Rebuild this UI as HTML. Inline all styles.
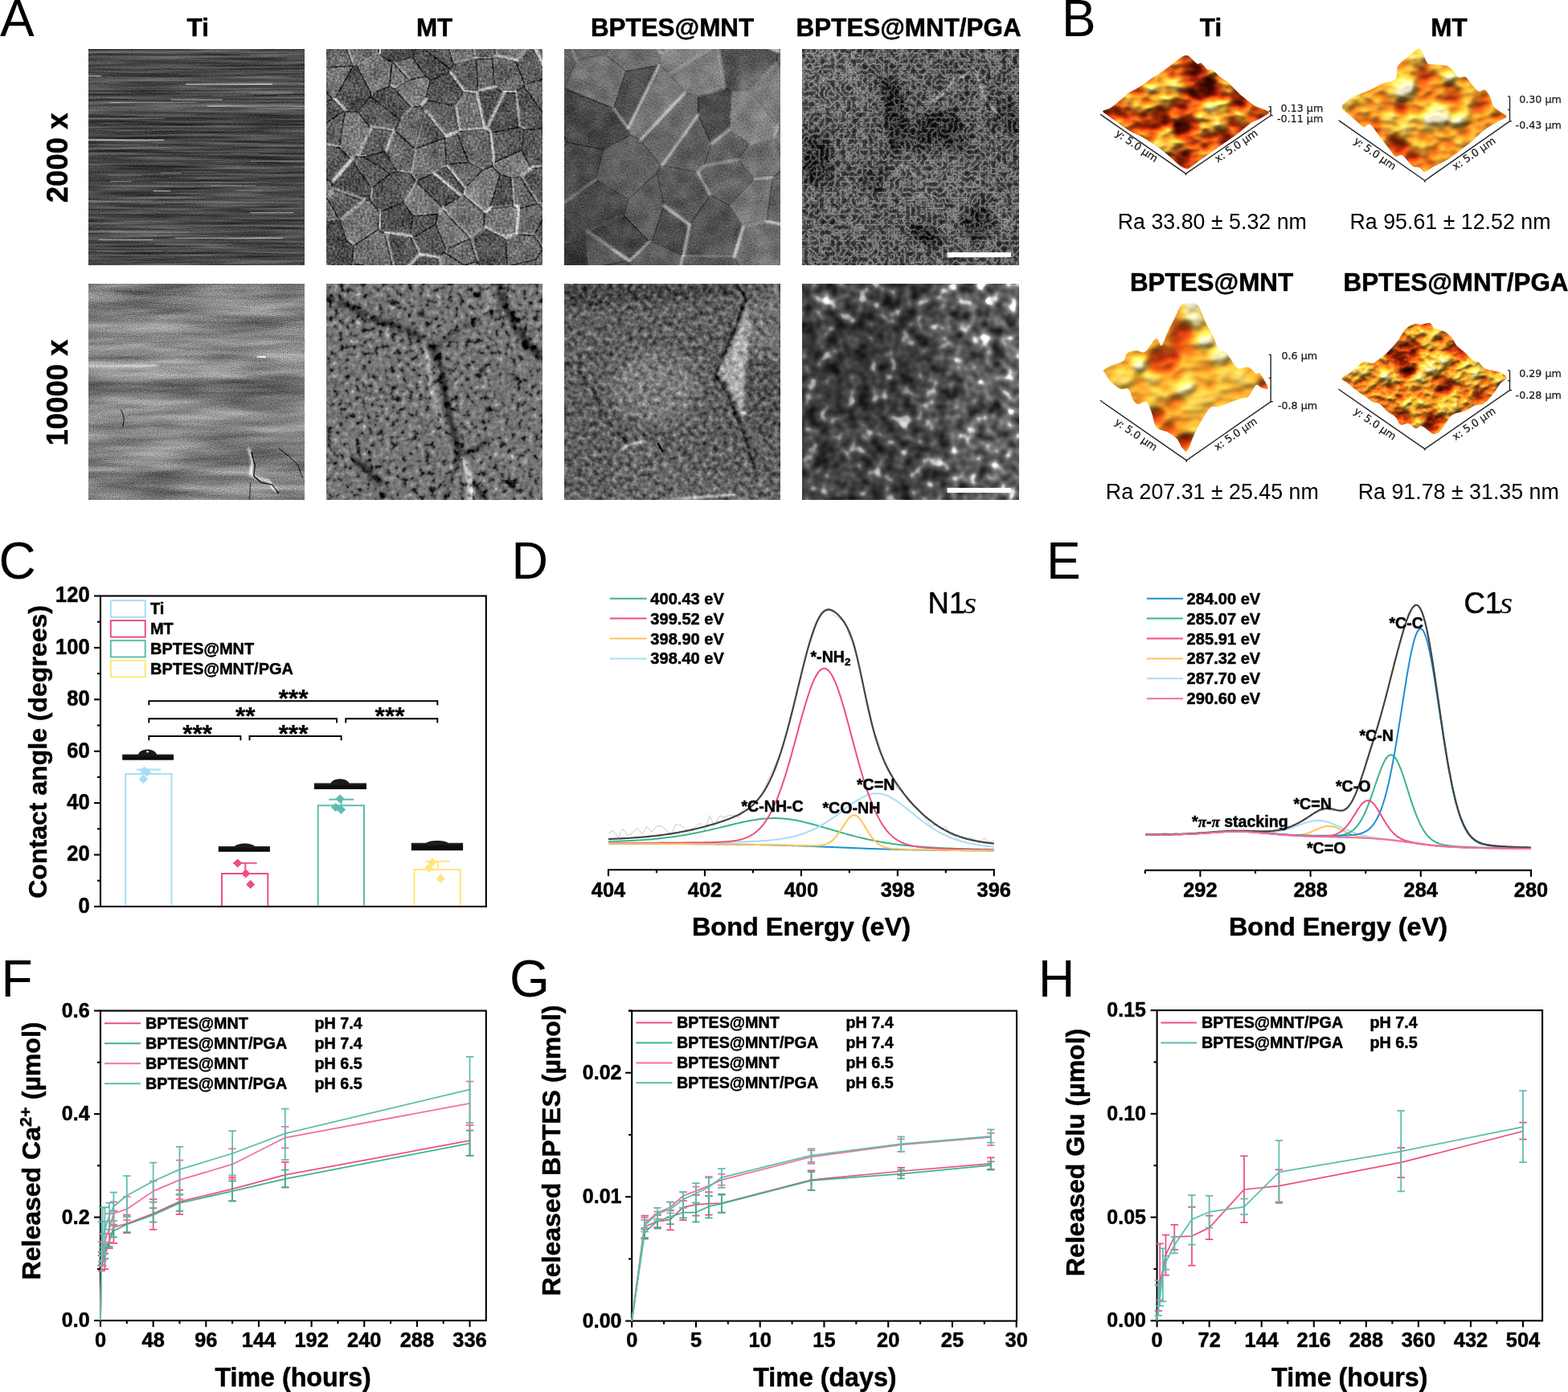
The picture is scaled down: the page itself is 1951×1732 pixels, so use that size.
<!DOCTYPE html>
<html lang="en">
<head>
<meta charset="utf-8">
<title>Figure</title>
<style>
html,body{margin:0;padding:0;background:#fff;}
body{width:1951px;height:1732px;overflow:hidden;}
svg{display:block;font-family:"Liberation Sans",Arial,Helvetica,sans-serif;}
</style>
</head>
<body>
<svg xmlns="http://www.w3.org/2000/svg" width="1951" height="1732" viewBox="0 0 1951 1732">
<defs>
<linearGradient id="dropg" x1="0" y1="0" x2="0" y2="1"><stop offset="0" stop-color="#2a2a2a"/><stop offset="0.35" stop-color="#101010"/><stop offset="1" stop-color="#0a0a0a"/></linearGradient>
</defs>
<rect width="1951" height="1732" fill="#fff"/>

<text transform="translate(0 44.7)" font-size="64">A</text>
<text transform="translate(1321 44.7)" font-size="64">B</text>
<text transform="translate(-1.6 719.8)" font-size="64">C</text>
<text transform="translate(636.6 719.8) scale(0.9840 1)" font-size="64">D</text>
<text transform="translate(1302 719.8)" font-size="64">E</text>
<text transform="translate(1.5 1239.5)" font-size="64">F</text>
<text transform="translate(634.1 1239.9)" font-size="64">G</text>
<text transform="translate(1291.9 1239.5) scale(0.9780 1)" font-size="64">H</text>
<g id="panel-a">
<text transform="translate(246.2 44.7)" font-size="31.4" font-weight="bold" stroke="#000" stroke-width="0.5" stroke-linejoin="round" text-anchor="middle">Ti</text>
<text transform="translate(540.6 44.7)" font-size="31.4" font-weight="bold" stroke="#000" stroke-width="0.5" stroke-linejoin="round" text-anchor="middle">MT</text>
<text transform="translate(836.5 44.7)" font-size="31.4" font-weight="bold" stroke="#000" stroke-width="0.5" stroke-linejoin="round" text-anchor="middle">BPTES@MNT</text>
<text transform="translate(1130.6 44.7)" font-size="31.4" font-weight="bold" stroke="#000" stroke-width="0.5" stroke-linejoin="round" text-anchor="middle">BPTES@MNT/PGA</text>
<text transform="translate(83.9 196.4) rotate(-90)" font-size="36.5" font-weight="bold" stroke="#000" stroke-width="0.5" stroke-linejoin="round" text-anchor="middle">2000 x</text>
<text transform="translate(83.9 488.5) rotate(-90)" font-size="36.5" font-weight="bold" stroke="#000" stroke-width="0.5" stroke-linejoin="round" text-anchor="middle">10000 x</text>
<defs><filter id="bl1" x="-20%" y="-20%" width="140%" height="140%"><feGaussianBlur stdDeviation="1"/></filter><filter id="bl2" x="-20%" y="-20%" width="140%" height="140%"><feGaussianBlur stdDeviation="2.2"/></filter><filter id="bl4" x="-30%" y="-30%" width="160%" height="160%"><feGaussianBlur stdDeviation="4.5"/></filter><filter id="bl8" x="-50%" y="-50%" width="200%" height="200%"><feGaussianBlur stdDeviation="9"/></filter><filter id="bl16" x="-50%" y="-50%" width="200%" height="200%"><feGaussianBlur stdDeviation="16"/></filter><clipPath id="sc1"><rect x="110" y="61" width="269" height="269"/></clipPath><filter id="sf1" filterUnits="userSpaceOnUse" x="110" y="61" width="269" height="269" color-interpolation-filters="sRGB"><feTurbulence type="fractalNoise" baseFrequency="0.008 0.30" numOctaves="3" seed="5" result="t"/><feColorMatrix in="t" type="matrix" values="1 0 0 0 0  1 0 0 0 0  1 0 0 0 0  0 0 0 0 1" result="n"/><feComposite in="SourceGraphic" in2="n" operator="arithmetic" k1="0" k2="1" k3="0.500" k4="-0.250" result="r1"/><feTurbulence type="fractalNoise" baseFrequency="0.9" numOctaves="1" seed="8" result="t2"/><feColorMatrix in="t2" type="matrix" values="1 0 0 0 0  1 0 0 0 0  1 0 0 0 0  0 0 0 0 1" result="n2"/><feComposite in="r1" in2="n2" operator="arithmetic" k1="0" k2="1" k3="0.400" k4="-0.200"/></filter><clipPath id="sc2"><rect x="406" y="61" width="269" height="269"/></clipPath><filter id="sf2" filterUnits="userSpaceOnUse" x="406" y="61" width="269" height="269" color-interpolation-filters="sRGB"><feGaussianBlur in="SourceGraphic" stdDeviation="0.6" result="b"/><feTurbulence type="fractalNoise" baseFrequency="0.35" numOctaves="2" seed="3" result="t"/><feColorMatrix in="t" type="matrix" values="1 0 0 0 0  1 0 0 0 0  1 0 0 0 0  0 0 0 0 1" result="n"/><feComposite in="b" in2="n" operator="arithmetic" k1="0" k2="1" k3="0.550" k4="-0.275" result="r1"/><feTurbulence type="fractalNoise" baseFrequency="0.06" numOctaves="1" seed="4" result="t2"/><feColorMatrix in="t2" type="matrix" values="1 0 0 0 0  1 0 0 0 0  1 0 0 0 0  0 0 0 0 1" result="n2"/><feComposite in="r1" in2="n2" operator="arithmetic" k1="0" k2="1" k3="0.250" k4="-0.125"/></filter><clipPath id="sc3"><rect x="702" y="61" width="269" height="269"/></clipPath><filter id="sf3" filterUnits="userSpaceOnUse" x="702" y="61" width="269" height="269" color-interpolation-filters="sRGB"><feGaussianBlur in="SourceGraphic" stdDeviation="0.7" result="b"/><feTurbulence type="fractalNoise" baseFrequency="0.5" numOctaves="2" seed="7" result="t"/><feColorMatrix in="t" type="matrix" values="1 0 0 0 0  1 0 0 0 0  1 0 0 0 0  0 0 0 0 1" result="n"/><feComposite in="b" in2="n" operator="arithmetic" k1="0" k2="1" k3="0.300" k4="-0.150" result="r1"/><feTurbulence type="fractalNoise" baseFrequency="0.05" numOctaves="2" seed="14" result="t2"/><feColorMatrix in="t2" type="matrix" values="1 0 0 0 0  1 0 0 0 0  1 0 0 0 0  0 0 0 0 1" result="n2"/><feComposite in="r1" in2="n2" operator="arithmetic" k1="0" k2="1" k3="0.220" k4="-0.110"/></filter><clipPath id="sc4"><rect x="998" y="61" width="270" height="269"/></clipPath><filter id="sf4" filterUnits="userSpaceOnUse" x="998" y="61" width="270" height="269" color-interpolation-filters="sRGB"><feTurbulence type="turbulence" baseFrequency="0.15" numOctaves="2" seed="12" result="t"/><feColorMatrix in="t" type="matrix" values="1 0 0 0 0  1 0 0 0 0  1 0 0 0 0  0 0 0 0 1" result="m"/><feComponentTransfer in="m" result="n"><feFuncR type="table" tableValues="0.60 0.47 0.34 0.25 0.19 0.14 0.1 0.08 0.08"/><feFuncG type="table" tableValues="0.60 0.47 0.34 0.25 0.19 0.14 0.1 0.08 0.08"/><feFuncB type="table" tableValues="0.60 0.47 0.34 0.25 0.19 0.14 0.1 0.08 0.08"/></feComponentTransfer><feComposite in="SourceGraphic" in2="n" operator="arithmetic" k1="0" k2="1.0" k3="1" k4="-0.500" result="r1"/><feTurbulence type="fractalNoise" baseFrequency="0.7" numOctaves="1" seed="2" result="t2"/><feColorMatrix in="t2" type="matrix" values="1 0 0 0 0  1 0 0 0 0  1 0 0 0 0  0 0 0 0 1" result="n2"/><feComposite in="r1" in2="n2" operator="arithmetic" k1="0" k2="1" k3="0.450" k4="-0.225"/></filter><clipPath id="sc5"><rect x="110" y="353" width="269" height="269"/></clipPath><filter id="sf5" filterUnits="userSpaceOnUse" x="110" y="353" width="269" height="269" color-interpolation-filters="sRGB"><feTurbulence type="fractalNoise" baseFrequency="0.008 0.08" numOctaves="3" seed="9" result="t"/><feColorMatrix in="t" type="matrix" values="1 0 0 0 0  1 0 0 0 0  1 0 0 0 0  0 0 0 0 1" result="n"/><feComposite in="SourceGraphic" in2="n" operator="arithmetic" k1="0" k2="1" k3="0.550" k4="-0.275" result="r1"/><feTurbulence type="fractalNoise" baseFrequency="0.8" numOctaves="1" seed="18" result="t2"/><feColorMatrix in="t2" type="matrix" values="1 0 0 0 0  1 0 0 0 0  1 0 0 0 0  0 0 0 0 1" result="n2"/><feComposite in="r1" in2="n2" operator="arithmetic" k1="0" k2="1" k3="0.550" k4="-0.275"/></filter><clipPath id="sc6"><rect x="406" y="353" width="269" height="269"/></clipPath><filter id="sf6" filterUnits="userSpaceOnUse" x="406" y="353" width="269" height="269" color-interpolation-filters="sRGB"><feTurbulence type="fractalNoise" baseFrequency="0.14" numOctaves="2" seed="4" result="t"/><feColorMatrix in="t" type="matrix" values="1 0 0 0 0  1 0 0 0 0  1 0 0 0 0  0 0 0 0 1" result="m"/><feComponentTransfer in="m" result="n"><feFuncR type="table" tableValues="0.04 0.06 0.12 0.36 0.45 0.50 0.60 0.8 0.9"/><feFuncG type="table" tableValues="0.04 0.06 0.12 0.36 0.45 0.50 0.60 0.8 0.9"/><feFuncB type="table" tableValues="0.04 0.06 0.12 0.36 0.45 0.50 0.60 0.8 0.9"/></feComponentTransfer><feGaussianBlur in="n" stdDeviation="0.6" result="nb"/><feComposite in="SourceGraphic" in2="nb" operator="arithmetic" k1="0" k2="1.0" k3="1" k4="-0.500" result="r1"/></filter><clipPath id="sc7"><rect x="702" y="353" width="269" height="269"/></clipPath><filter id="sf7" filterUnits="userSpaceOnUse" x="702" y="353" width="269" height="269" color-interpolation-filters="sRGB"><feTurbulence type="fractalNoise" baseFrequency="0.16" numOctaves="2" seed="21" result="t"/><feColorMatrix in="t" type="matrix" values="1 0 0 0 0  1 0 0 0 0  1 0 0 0 0  0 0 0 0 1" result="m"/><feComponentTransfer in="m" result="n"><feFuncR type="table" tableValues="0.08 0.12 0.2 0.29 0.37 0.45 0.55 0.65 0.8"/><feFuncG type="table" tableValues="0.08 0.12 0.2 0.29 0.37 0.45 0.55 0.65 0.8"/><feFuncB type="table" tableValues="0.08 0.12 0.2 0.29 0.37 0.45 0.55 0.65 0.8"/></feComponentTransfer><feGaussianBlur in="n" stdDeviation="0.5" result="nb"/><feComposite in="SourceGraphic" in2="nb" operator="arithmetic" k1="0" k2="1.0" k3="1" k4="-0.500" result="r1"/></filter><clipPath id="sc8"><rect x="998" y="353" width="270" height="269"/></clipPath><linearGradient id="g8" gradientUnits="userSpaceOnUse" x1="998" y1="0" x2="1268" y2="0"><stop offset="0" stop-color="#696969"/><stop offset="0.5" stop-color="#707070"/><stop offset="0.72" stop-color="#969696"/><stop offset="1" stop-color="#a5a5a5"/></linearGradient><filter id="sf8" filterUnits="userSpaceOnUse" x="998" y="353" width="270" height="269" color-interpolation-filters="sRGB"><feTurbulence type="fractalNoise" baseFrequency="0.06" numOctaves="2" seed="31" result="t"/><feColorMatrix in="t" type="matrix" values="1 0 0 0 0  1 0 0 0 0  1 0 0 0 0  0 0 0 0 1" result="m"/><feComponentTransfer in="m" result="n"><feFuncR type="table" tableValues="0.05 0.07 0.12 0.21 0.30 0.42 0.8 1 1"/><feFuncG type="table" tableValues="0.05 0.07 0.12 0.21 0.30 0.42 0.8 1 1"/><feFuncB type="table" tableValues="0.05 0.07 0.12 0.21 0.30 0.42 0.8 1 1"/></feComponentTransfer><feComposite in="SourceGraphic" in2="n" operator="arithmetic" k1="2" k2="0" k3="0" k4="0" result="r1"/></filter></defs>
<g clip-path="url(#sc1)"><g filter="url(#sf1)"><rect x="108" y="59" width="273" height="273" fill="#000"/><rect x="110" y="61" width="269" height="269" fill="#464646"/><rect x="110" y="141.7" width="269" height="16.14" fill="#3a3a3a" opacity="0.8" filter="url(#bl2)"/><rect x="110" y="179.36" width="269" height="43.04" fill="#464646" opacity="0.7" filter="url(#bl2)"/><rect x="110" y="95.97" width="269" height="18.83" fill="#646464" opacity="0.5" filter="url(#bl2)"/><rect x="110" y="125.56" width="269" height="16.14" fill="#686868" opacity="0.6" filter="url(#bl2)"/><rect x="110" y="243.92" width="269" height="18.83" fill="#626262" opacity="0.4" filter="url(#bl2)"/><rect x="110" y="284.27" width="269" height="13.45" fill="#646464" opacity="0.5" filter="url(#bl2)"/><rect x="110" y="61" width="269" height="16.14" fill="#5a5a5a" opacity="0.5" filter="url(#bl2)"/><rect x="110" y="303.1" width="269" height="26.9" fill="#505050" opacity="0.5" filter="url(#bl2)"/><rect x="306.33" y="182.69" width="174.26" height="1.45" fill="#323232" opacity="0.35"/><rect x="230.25" y="110.67" width="163.96" height="1.91" fill="#2a2a2a" opacity="0.28"/><rect x="228.12" y="85.39" width="228.04" height="0.86" fill="#3c3c3c" opacity="0.44"/><rect x="96.49" y="236.91" width="186.27" height="0.82" fill="#333333" opacity="0.21"/><rect x="86.33" y="112.17" width="105.87" height="1.45" fill="#313131" opacity="0.41"/><rect x="186.96" y="200.64" width="191.59" height="1.73" fill="#313131" opacity="0.27"/><rect x="255.6" y="329.37" width="268.07" height="1.79" fill="#2e2e2e" opacity="0.26"/><rect x="295.46" y="138.75" width="68.91" height="1.36" fill="#393939" opacity="0.30"/><rect x="39.3" y="318.71" width="236.14" height="1.09" fill="#3a3a3a" opacity="0.32"/><rect x="87.85" y="324.72" width="139.33" height="1.68" fill="#383838" opacity="0.27"/><rect x="331.72" y="84.44" width="125.37" height="1.86" fill="#2a2a2a" opacity="0.26"/><rect x="304.39" y="88.18" width="66.69" height="1.05" fill="#333333" opacity="0.31"/><rect x="81.84" y="112.29" width="211.3" height="1.7" fill="#2a2a2a" opacity="0.31"/><rect x="337.62" y="118.26" width="111.86" height="1.92" fill="#2e2e2e" opacity="0.42"/><rect x="298.23" y="117.68" width="138.65" height="1.7" fill="#2a2a2a" opacity="0.45"/><rect x="285.04" y="118.36" width="109.38" height="1.26" fill="#2e2e2e" opacity="0.22"/><rect x="121.61" y="85.24" width="179.2" height="1.64" fill="#2f2f2f" opacity="0.31"/><rect x="217.19" y="319.01" width="157.9" height="2.01" fill="#2c2c2c" opacity="0.24"/><rect x="108.18" y="305.37" width="229.79" height="1.07" fill="#373737" opacity="0.44"/><rect x="269.83" y="113.88" width="258.27" height="1.64" fill="#303030" opacity="0.23"/><rect x="95.84" y="71.41" width="260.97" height="1.79" fill="#2d2d2d" opacity="0.41"/><rect x="122.11" y="221.45" width="116.95" height="1.81" fill="#292929" opacity="0.26"/><rect x="204.08" y="211.47" width="237.24" height="1.19" fill="#3a3a3a" opacity="0.25"/><rect x="196.38" y="65.46" width="111.73" height="0.88" fill="#2c2c2c" opacity="0.29"/><rect x="199.67" y="214.91" width="25.84" height="1.22" fill="#b3b3b3" opacity="0.40"/><rect x="127.21" y="246.94" width="68.48" height="0.62" fill="#797979" opacity="0.47"/><rect x="84.49" y="249.56" width="104.09" height="1.05" fill="#959595" opacity="0.42"/><rect x="97.98" y="146.79" width="107.54" height="0.98" fill="#a4a4a4" opacity="0.47"/><rect x="299.48" y="259.28" width="79.7" height="1.24" fill="#8d8d8d" opacity="0.41"/><rect x="193.57" y="303.32" width="95.46" height="1.15" fill="#acacac" opacity="0.37"/><rect x="251.91" y="229.11" width="49.45" height="1.03" fill="#7d7d7d" opacity="0.39"/><rect x="277" y="328.2" width="96.28" height="0.87" fill="#a4a4a4" opacity="0.37"/><rect x="104.82" y="179.5" width="92.38" height="1.13" fill="#7a7a7a" opacity="0.38"/><rect x="287.31" y="190.38" width="35.13" height="0.95" fill="#9d9d9d" opacity="0.48"/><rect x="186.62" y="129.82" width="14.51" height="1.07" fill="#848484" opacity="0.25"/><rect x="206.2" y="304.64" width="75.59" height="1.22" fill="#8c8c8c" opacity="0.40"/><rect x="310.61" y="114.4" width="54.02" height="1.24" fill="#adadad" opacity="0.32"/><rect x="133.66" y="217.86" width="43.25" height="0.95" fill="#aaaaaa" opacity="0.45"/><rect x="153.59" y="252.32" width="102.89" height="0.72" fill="#939393" opacity="0.28"/><rect x="262.59" y="118.59" width="52.43" height="0.95" fill="#8b8b8b" opacity="0.45"/><rect x="113.27" y="325.17" width="56.05" height="0.62" fill="#acacac" opacity="0.21"/><rect x="172.98" y="251.62" width="67.17" height="1.15" fill="#797979" opacity="0.24"/><rect x="328.45" y="183.35" width="15.78" height="0.77" fill="#808080" opacity="0.21"/><rect x="262.81" y="230.25" width="55.49" height="1.06" fill="#a8a8a8" opacity="0.49"/><rect x="228.15" y="245.13" width="32.22" height="0.73" fill="#797979" opacity="0.34"/><rect x="174.17" y="253.11" width="30.31" height="0.84" fill="#a2a2a2" opacity="0.36"/><rect x="190.46" y="226.29" width="84.65" height="1.15" fill="#aeaeae" opacity="0.23"/><rect x="120.51" y="311.87" width="81.46" height="0.92" fill="#9e9e9e" opacity="0.47"/><rect x="326.44" y="162.36" width="67" height="1.16" fill="#b1b1b1" opacity="0.34"/><rect x="294.38" y="236.21" width="32.74" height="1.17" fill="#9e9e9e" opacity="0.42"/><rect x="344.3" y="118.38" width="98.18" height="1.28" fill="#989898" opacity="0.44"/><rect x="310.47" y="147.19" width="99.13" height="0.84" fill="#7d7d7d" opacity="0.33"/><rect x="215.39" y="209.03" width="85.78" height="0.62" fill="#a9a9a9" opacity="0.22"/><rect x="191.2" y="276.16" width="29.73" height="1.15" fill="#808080" opacity="0.24"/><rect x="311.48" y="199.95" width="81.57" height="1.08" fill="#b1b1b1" opacity="0.35"/><rect x="163.1" y="316.32" width="21.55" height="0.97" fill="#898989" opacity="0.42"/><rect x="318.13" y="232.86" width="62.67" height="0.99" fill="#8b8b8b" opacity="0.31"/><rect x="136.55" y="288.38" width="98.23" height="1.2" fill="#b2b2b2" opacity="0.36"/><rect x="231.05" y="104.04" width="107.6" height="1.4" fill="#d7d7d7" opacity="0.8"/><rect x="110" y="93.82" width="16.14" height="1.5" fill="#c8c8c8" opacity="0.8"/><rect x="212.22" y="123.41" width="64.56" height="1.2" fill="#bebebe" opacity="0.8"/><rect x="257.95" y="131.48" width="121.05" height="1.2" fill="#b9b9b9" opacity="0.8"/><rect x="110" y="173.44" width="94.15" height="1.4" fill="#cdcdcd" opacity="0.8"/><rect x="136.9" y="126.91" width="107.6" height="1.0" fill="#aaaaaa" opacity="0.8"/><rect x="123.45" y="297.72" width="67.25" height="1.2" fill="#b4b4b4" opacity="0.8"/><rect x="217.6" y="295.57" width="134.5" height="1.2" fill="#b9b9b9" opacity="0.8"/><rect x="311.75" y="264.1" width="53.8" height="1.2" fill="#bebebe" opacity="0.8"/><rect x="190.7" y="237.19" width="21.52" height="1.2" fill="#c8c8c8" opacity="0.8"/><rect x="136.9" y="225.09" width="26.9" height="1.0" fill="#b4b4b4" opacity="0.8"/></g></g>
<g clip-path="url(#sc2)"><g filter="url(#sf2)"><rect x="404" y="59" width="273" height="273" fill="#000"/><rect x="406" y="61" width="269" height="269" fill="#646464"/><path d="M427.67 138.09L415.72 124.94L413.3 124.05L369 139.12L395.34 160.49Z" fill="#5a5a5a" stroke="#282828" stroke-width="1.5" stroke-linejoin="round"/><path d="M391.67 214.81L342.35 268.86L355.89 269.05L407.44 246.98L413.23 236.11L412.76 226.83Z" fill="#727272" stroke="#282828" stroke-width="1.5" stroke-linejoin="round"/><path d="M407.44 246.98L355.89 269.05L379.8 281.01L422.25 273.72Z" fill="#727272" stroke="#282828" stroke-width="1.5" stroke-linejoin="round"/><path d="M439.41 82.21L398.88 84.39L393.11 75.83L402.19 45.61L428.22 54.76Z" fill="#666666" stroke="#282828" stroke-width="1.5" stroke-linejoin="round"/><path d="M415.72 124.94L439.5 82.28L439.41 82.21L398.88 84.39L397.08 98.1L413.3 124.05Z" fill="#7a7a7a" stroke="#282828" stroke-width="1.5" stroke-linejoin="round"/><path d="M427.67 138.09L395.34 160.49L398.78 180.6L421.95 183.69L429.45 139.04Z" fill="#606060" stroke="#282828" stroke-width="1.5" stroke-linejoin="round"/><path d="M429.45 139.04L445.25 138.53L460.78 159.22L444.02 194.91L437.37 198.88L436.96 198.87L421.95 183.69Z" fill="#7a7a7a" stroke="#282828" stroke-width="1.5" stroke-linejoin="round"/><path d="M421.95 183.69L436.96 198.87L412.76 226.83L391.67 214.81L378.83 194.31L398.78 180.6Z" fill="#5a5a5a" stroke="#282828" stroke-width="1.5" stroke-linejoin="round"/><path d="M413.23 236.11L452.44 249.59L422.97 274.41L422.25 273.72L407.44 246.98Z" fill="#606060" stroke="#282828" stroke-width="1.5" stroke-linejoin="round"/><path d="M422.25 273.72L379.8 281.01L400.37 297.99L430.93 298.76L422.97 274.41Z" fill="#4e4e4e" stroke="#282828" stroke-width="1.5" stroke-linejoin="round"/><path d="M438.26 327.92L439.6 306.29L430.93 298.76L400.37 297.99L387.01 328.24L419.61 337.68L437.41 329.44Z" fill="#4e4e4e" stroke="#282828" stroke-width="1.5" stroke-linejoin="round"/><path d="M471.64 8.79L428.22 54.76L439.41 82.21L439.5 82.28L444.22 83.09L471.21 67.06Z" fill="#6c6c6c" stroke="#282828" stroke-width="1.5" stroke-linejoin="round"/><path d="M487.69 77.95L471.21 67.06L444.22 83.09L462.16 117.26L484.94 107.49Z" fill="#727272" stroke="#282828" stroke-width="1.5" stroke-linejoin="round"/><path d="M461.15 119.96L445.25 138.53L429.45 139.04L427.67 138.09L415.72 124.94L439.5 82.28L444.22 83.09L462.16 117.26Z" fill="#545454" stroke="#282828" stroke-width="1.5" stroke-linejoin="round"/><path d="M497.52 148.85L461.15 119.96L445.25 138.53L460.78 159.22L488.25 163.58L491.68 162.34Z" fill="#5a5a5a" stroke="#282828" stroke-width="1.5" stroke-linejoin="round"/><path d="M478.54 188.53L452.87 195.35L444.02 194.91L460.78 159.22L488.25 163.58Z" fill="#606060" stroke="#282828" stroke-width="1.5" stroke-linejoin="round"/><path d="M452.87 195.35L485.91 216.47L461.93 234.55L437.37 198.88L444.02 194.91Z" fill="#606060" stroke="#282828" stroke-width="1.5" stroke-linejoin="round"/><path d="M437.37 198.88L436.96 198.87L412.76 226.83L413.23 236.11L452.44 249.59L460.1 249L461.93 234.55Z" fill="#4e4e4e" stroke="#282828" stroke-width="1.5" stroke-linejoin="round"/><path d="M439.6 306.29L430.93 298.76L422.97 274.41L452.44 249.59L460.1 249L472.03 264.16L470.67 285.73Z" fill="#727272" stroke="#282828" stroke-width="1.5" stroke-linejoin="round"/><path d="M478.51 290.61L470.67 285.73L439.6 306.29L438.26 327.92L489.5 336.93Z" fill="#727272" stroke="#282828" stroke-width="1.5" stroke-linejoin="round"/><path d="M489.5 336.93L438.26 327.92L437.41 329.44L461.29 391.23L490.75 337.86Z" fill="#7a7a7a" stroke="#282828" stroke-width="1.5" stroke-linejoin="round"/><path d="M488.83 77.75L513.01 70.78L519.46 54.53L520.86 48.48L480.58 -21.55L471.64 8.79L471.21 67.06L487.69 77.95Z" fill="#4e4e4e" stroke="#282828" stroke-width="1.5" stroke-linejoin="round"/><path d="M488.83 77.75L513.01 70.78L529.76 95.2L508.5 99.85Z" fill="#6c6c6c" stroke="#282828" stroke-width="1.5" stroke-linejoin="round"/><path d="M488.83 77.75L508.5 99.85L491.22 110.91L484.94 107.49L487.69 77.95Z" fill="#7a7a7a" stroke="#282828" stroke-width="1.5" stroke-linejoin="round"/><path d="M511.49 134.34L491.22 110.91L484.94 107.49L462.16 117.26L461.15 119.96L497.52 148.85Z" fill="#545454" stroke="#282828" stroke-width="1.5" stroke-linejoin="round"/><path d="M510.28 216.18L493.97 213.85L478.54 188.53L488.25 163.58L491.68 162.34L515 184.18L515.94 185.29Z" fill="#6c6c6c" stroke="#282828" stroke-width="1.5" stroke-linejoin="round"/><path d="M493.97 213.85L485.91 216.47L452.87 195.35L478.54 188.53Z" fill="#4e4e4e" stroke="#282828" stroke-width="1.5" stroke-linejoin="round"/><path d="M517.16 225.45L501.63 251.65L472.03 264.16L460.1 249L461.93 234.55L485.91 216.47L493.97 213.85L510.28 216.18Z" fill="#5a5a5a" stroke="#282828" stroke-width="1.5" stroke-linejoin="round"/><path d="M509.69 295.24L478.51 290.61L470.67 285.73L472.03 264.16L501.63 251.65L513.64 268.95Z" fill="#545454" stroke="#282828" stroke-width="1.5" stroke-linejoin="round"/><path d="M511.82 296.99L521.02 317.81L500.93 338.28L490.75 337.86L489.5 336.93L478.51 290.61L509.69 295.24Z" fill="#545454" stroke="#282828" stroke-width="1.5" stroke-linejoin="round"/><path d="M519.46 54.53L513.01 70.78L529.76 95.2L535.6 99.78L558.24 90.51L560.41 85.99Z" fill="#4e4e4e" stroke="#282828" stroke-width="1.5" stroke-linejoin="round"/><path d="M523.31 132.13L529.38 124.32L535.6 99.78L529.76 95.2L508.5 99.85L491.22 110.91L511.49 134.34Z" fill="#7a7a7a" stroke="#282828" stroke-width="1.5" stroke-linejoin="round"/><path d="M553.24 171.83L553.91 170.85L527.85 139.16L515 184.18L515.94 185.29Z" fill="#5a5a5a" stroke="#282828" stroke-width="1.5" stroke-linejoin="round"/><path d="M527.85 139.16L515 184.18L491.68 162.34L497.52 148.85L511.49 134.34L523.31 132.13Z" fill="#6c6c6c" stroke="#282828" stroke-width="1.5" stroke-linejoin="round"/><path d="M517.16 225.45L510.28 216.18L515.94 185.29L553.24 171.83L555.52 205.11L554.89 207.01L538.03 216.79L517.68 225.57Z" fill="#727272" stroke="#282828" stroke-width="1.5" stroke-linejoin="round"/><path d="M517.16 225.45L501.63 251.65L513.64 268.95L544.72 266.71L549.8 259.95L550.25 257.87L517.68 225.57Z" fill="#7a7a7a" stroke="#282828" stroke-width="1.5" stroke-linejoin="round"/><path d="M511.82 296.99L541.8 279.25L544.72 266.71L513.64 268.95L509.69 295.24Z" fill="#5a5a5a" stroke="#282828" stroke-width="1.5" stroke-linejoin="round"/><path d="M544.78 321.98L521.02 317.81L511.82 296.99L541.8 279.25L554.95 310.35L552.47 313.82Z" fill="#5a5a5a" stroke="#282828" stroke-width="1.5" stroke-linejoin="round"/><path d="M544.78 321.98L521.02 317.81L500.93 338.28L533.24 393.24L549.98 339.96Z" fill="#4e4e4e" stroke="#282828" stroke-width="1.5" stroke-linejoin="round"/><path d="M580.34 11.33L590.08 73.15L564.22 80.15L553.87 47.83Z" fill="#7a7a7a" stroke="#282828" stroke-width="1.5" stroke-linejoin="round"/><path d="M553.87 47.83L520.86 48.48L519.46 54.53L560.41 85.99L564.22 80.15Z" fill="#606060" stroke="#282828" stroke-width="1.5" stroke-linejoin="round"/><path d="M565.29 131.96L576.08 114.4L558.24 90.51L535.6 99.78L529.38 124.32Z" fill="#545454" stroke="#282828" stroke-width="1.5" stroke-linejoin="round"/><path d="M527.85 139.16L553.91 170.85L568.15 165.26L570.65 163.53L565.29 131.96L529.38 124.32L523.31 132.13Z" fill="#606060" stroke="#282828" stroke-width="1.5" stroke-linejoin="round"/><path d="M555.52 205.11L583.09 201.86L568.15 165.26L553.91 170.85L553.24 171.83Z" fill="#606060" stroke="#282828" stroke-width="1.5" stroke-linejoin="round"/><path d="M554.89 207.01L577.54 235.34L575.96 242.89L571.86 244.88L538.03 216.79Z" fill="#545454" stroke="#282828" stroke-width="1.5" stroke-linejoin="round"/><path d="M517.68 225.57L550.25 257.87L571.86 244.88L538.03 216.79Z" fill="#545454" stroke="#282828" stroke-width="1.5" stroke-linejoin="round"/><path d="M541.8 279.25L554.95 310.35L584.49 297.27L584.64 297.03L549.8 259.95L544.72 266.71Z" fill="#7a7a7a" stroke="#282828" stroke-width="1.5" stroke-linejoin="round"/><path d="M567.74 343.07L549.98 339.96L544.78 321.98L552.47 313.82L577.55 329.95Z" fill="#727272" stroke="#282828" stroke-width="1.5" stroke-linejoin="round"/><path d="M580.34 11.33L607.97 -62.89L621.76 13.52L615.62 70.76L612.6 72.88L592.56 73.85L590.08 73.15Z" fill="#606060" stroke="#282828" stroke-width="1.5" stroke-linejoin="round"/><path d="M612.6 72.88L615.59 109.52L594.39 114.27L592.56 73.85Z" fill="#6c6c6c" stroke="#282828" stroke-width="1.5" stroke-linejoin="round"/><path d="M590.08 73.15L592.56 73.85L594.39 114.27L591.31 116.35L576.08 114.4L558.24 90.51L560.41 85.99L564.22 80.15Z" fill="#5a5a5a" stroke="#282828" stroke-width="1.5" stroke-linejoin="round"/><path d="M570.65 163.53L601.44 160.99L591.31 116.35L576.08 114.4L565.29 131.96Z" fill="#727272" stroke="#282828" stroke-width="1.5" stroke-linejoin="round"/><path d="M568.15 165.26L570.65 163.53L601.44 160.99L603.9 161.88L608.88 165.8L612.99 203.16L612.44 207.25L600.47 211.48L583.09 201.86Z" fill="#666666" stroke="#282828" stroke-width="1.5" stroke-linejoin="round"/><path d="M555.52 205.11L583.09 201.86L600.47 211.48L577.54 235.34L554.89 207.01Z" fill="#6c6c6c" stroke="#282828" stroke-width="1.5" stroke-linejoin="round"/><path d="M612.44 207.25L600.47 211.48L577.54 235.34L575.96 242.89L602.49 265.32L609.35 259.53L622.36 217.32Z" fill="#7a7a7a" stroke="#282828" stroke-width="1.5" stroke-linejoin="round"/><path d="M602.49 265.32L575.96 242.89L571.86 244.88L550.25 257.87L549.8 259.95L584.64 297.03L602.49 284.11Z" fill="#727272" stroke="#282828" stroke-width="1.5" stroke-linejoin="round"/><path d="M577.55 329.95L593.18 325.46L584.49 297.27L554.95 310.35L552.47 313.82Z" fill="#6c6c6c" stroke="#282828" stroke-width="1.5" stroke-linejoin="round"/><path d="M567.74 343.07L593.58 357.25L604.14 340.53L593.18 325.46L577.55 329.95Z" fill="#7a7a7a" stroke="#282828" stroke-width="1.5" stroke-linejoin="round"/><path d="M621.76 13.52L655.2 60.8L641.65 76.54L615.62 70.76Z" fill="#727272" stroke="#282828" stroke-width="1.5" stroke-linejoin="round"/><path d="M612.6 72.88L615.59 109.52L626.3 115.44L640.39 115.65L651.74 107.34L653.2 104.95L641.65 76.54L615.62 70.76Z" fill="#666666" stroke="#282828" stroke-width="1.5" stroke-linejoin="round"/><path d="M594.39 114.27L591.31 116.35L601.44 160.99L603.9 161.88L626.3 115.44L615.59 109.52Z" fill="#4e4e4e" stroke="#282828" stroke-width="1.5" stroke-linejoin="round"/><path d="M640.39 115.65L645.08 158.52L608.88 165.8L603.9 161.88L626.3 115.44Z" fill="#545454" stroke="#282828" stroke-width="1.5" stroke-linejoin="round"/><path d="M612.99 203.16L608.88 165.8L645.08 158.52L652.51 161.69L649.24 186.84Z" fill="#5a5a5a" stroke="#282828" stroke-width="1.5" stroke-linejoin="round"/><path d="M612.44 207.25L622.36 217.32L635.72 221.58L647.16 220.26L660.9 209.74L649.24 186.84L612.99 203.16Z" fill="#7a7a7a" stroke="#282828" stroke-width="1.5" stroke-linejoin="round"/><path d="M622.36 217.32L609.35 259.53L638.73 256.44L635.72 221.58Z" fill="#4e4e4e" stroke="#282828" stroke-width="1.5" stroke-linejoin="round"/><path d="M640.48 291.86L644.08 259.94L638.73 256.44L609.35 259.53L602.49 265.32L602.49 284.11L629.38 297.89Z" fill="#7a7a7a" stroke="#282828" stroke-width="1.5" stroke-linejoin="round"/><path d="M604.14 340.53L630.33 333.58L631.18 331.67L629.38 297.89L602.49 284.11L584.64 297.03L584.49 297.27L593.18 325.46Z" fill="#545454" stroke="#282828" stroke-width="1.5" stroke-linejoin="round"/><path d="M653.2 104.95L641.65 76.54L655.2 60.8L662.89 59.49L681.55 96.25L680.45 97.31Z" fill="#606060" stroke="#282828" stroke-width="1.5" stroke-linejoin="round"/><path d="M651.74 107.34L681.94 149.69L691.97 135.77L680.45 97.31L653.2 104.95Z" fill="#6c6c6c" stroke="#282828" stroke-width="1.5" stroke-linejoin="round"/><path d="M640.39 115.65L651.74 107.34L681.94 149.69L680.4 155.9L674.61 160.05L652.51 161.69L645.08 158.52Z" fill="#545454" stroke="#282828" stroke-width="1.5" stroke-linejoin="round"/><path d="M660.9 209.74L677.07 207.61L680.03 203.68L674.61 160.05L652.51 161.69L649.24 186.84Z" fill="#5a5a5a" stroke="#282828" stroke-width="1.5" stroke-linejoin="round"/><path d="M647.16 220.26L668.4 253.71L671.29 254.55L687.38 231.63L677.07 207.61L660.9 209.74Z" fill="#5a5a5a" stroke="#282828" stroke-width="1.5" stroke-linejoin="round"/><path d="M635.72 221.58L638.73 256.44L644.08 259.94L668.4 253.71L647.16 220.26Z" fill="#6c6c6c" stroke="#282828" stroke-width="1.5" stroke-linejoin="round"/><path d="M640.48 291.86L664.45 293.17L678.63 267.2L671.29 254.55L668.4 253.71L644.08 259.94Z" fill="#6c6c6c" stroke="#282828" stroke-width="1.5" stroke-linejoin="round"/><path d="M640.48 291.86L664.45 293.17L674.19 307.53L674.68 310.86L667.27 322.51L631.18 331.67L629.38 297.89Z" fill="#6c6c6c" stroke="#282828" stroke-width="1.5" stroke-linejoin="round"/><path d="M662.89 59.49L681.55 96.25L774.96 53.74L670.48 53.98Z" fill="#666666" stroke="#282828" stroke-width="1.5" stroke-linejoin="round"/><path d="M680.03 203.68L753.29 188.9L680.4 155.9L674.61 160.05Z" fill="#606060" stroke="#282828" stroke-width="1.5" stroke-linejoin="round"/><path d="M678.63 267.2L726.95 277.64L674.19 307.53L664.45 293.17Z" fill="#545454" stroke="#282828" stroke-width="1.5" stroke-linejoin="round"/><path d="M429.27 136.49L417.32 123.34" stroke="#bebebe" stroke-width="2.4" stroke-linecap="round" opacity="0.85" filter="url(#bl1)"/><path d="M381.4 279.41L423.85 272.12" stroke="#bebebe" stroke-width="1.6" stroke-linecap="round" opacity="0.85" filter="url(#bl1)"/><path d="M403.79 44.01L429.82 53.16" stroke="#d7d7d7" stroke-width="1.6" stroke-linecap="round" opacity="0.85" filter="url(#bl1)"/><path d="M441.1 80.68L441.01 80.61" stroke="#bebebe" stroke-width="1.6" stroke-linecap="round" opacity="0.85" filter="url(#bl1)"/><path d="M414.9 122.45L417.32 123.34" stroke="#bebebe" stroke-width="3.4" stroke-linecap="round" opacity="0.85" filter="url(#bl1)"/><path d="M396.94 158.89L400.38 179" stroke="#bebebe" stroke-width="3.4" stroke-linecap="round" opacity="0.85" filter="url(#bl1)"/><path d="M431.05 137.44L429.27 136.49" stroke="#bebebe" stroke-width="2.4" stroke-linecap="round" opacity="0.85" filter="url(#bl1)"/><path d="M438.56 197.27L414.36 225.23" stroke="#ebebeb" stroke-width="1.6" stroke-linecap="round" opacity="0.85" filter="url(#bl1)"/><path d="M393.27 213.21L380.43 192.71" stroke="#ebebeb" stroke-width="1.6" stroke-linecap="round" opacity="0.85" filter="url(#bl1)"/><path d="M380.43 192.71L400.38 179" stroke="#d7d7d7" stroke-width="3.4" stroke-linecap="round" opacity="0.85" filter="url(#bl1)"/><path d="M400.38 179L423.55 182.09" stroke="#ebebeb" stroke-width="2.4" stroke-linecap="round" opacity="0.85" filter="url(#bl1)"/><path d="M414.83 234.51L454.04 247.99" stroke="#d7d7d7" stroke-width="1.6" stroke-linecap="round" opacity="0.85" filter="url(#bl1)"/><path d="M454.04 247.99L424.57 272.81" stroke="#bebebe" stroke-width="2.4" stroke-linecap="round" opacity="0.85" filter="url(#bl1)"/><path d="M424.57 272.81L423.85 272.12" stroke="#bebebe" stroke-width="3.4" stroke-linecap="round" opacity="0.85" filter="url(#bl1)"/><path d="M409.04 245.38L414.83 234.51" stroke="#bebebe" stroke-width="3.4" stroke-linecap="round" opacity="0.85" filter="url(#bl1)"/><path d="M441.2 304.69L432.53 297.16" stroke="#d7d7d7" stroke-width="1.6" stroke-linecap="round" opacity="0.85" filter="url(#bl1)"/><path d="M388.61 326.64L421.21 336.08" stroke="#ebebeb" stroke-width="3.4" stroke-linecap="round" opacity="0.85" filter="url(#bl1)"/><path d="M429.82 53.16L441.01 80.61" stroke="#d7d7d7" stroke-width="1.6" stroke-linecap="round" opacity="0.85" filter="url(#bl1)"/><path d="M472.81 65.46L473.24 7.19" stroke="#ebebeb" stroke-width="3.4" stroke-linecap="round" opacity="0.85" filter="url(#bl1)"/><path d="M472.81 65.46L445.82 81.49" stroke="#d7d7d7" stroke-width="1.6" stroke-linecap="round" opacity="0.85" filter="url(#bl1)"/><path d="M429.27 136.49L417.32 123.34" stroke="#ebebeb" stroke-width="1.6" stroke-linecap="round" opacity="0.85" filter="url(#bl1)"/><path d="M462.38 157.62L489.85 161.98" stroke="#d7d7d7" stroke-width="1.6" stroke-linecap="round" opacity="0.85" filter="url(#bl1)"/><path d="M454.47 193.75L445.62 193.31" stroke="#bebebe" stroke-width="3.4" stroke-linecap="round" opacity="0.85" filter="url(#bl1)"/><path d="M445.62 193.31L462.38 157.62" stroke="#d7d7d7" stroke-width="3.4" stroke-linecap="round" opacity="0.85" filter="url(#bl1)"/><path d="M489.85 161.98L480.14 186.93" stroke="#ebebeb" stroke-width="3.4" stroke-linecap="round" opacity="0.85" filter="url(#bl1)"/><path d="M445.62 193.31L454.47 193.75" stroke="#bebebe" stroke-width="3.4" stroke-linecap="round" opacity="0.85" filter="url(#bl1)"/><path d="M438.56 197.27L414.36 225.23" stroke="#ebebeb" stroke-width="3.4" stroke-linecap="round" opacity="0.85" filter="url(#bl1)"/><path d="M461.7 247.4L463.53 232.95" stroke="#d7d7d7" stroke-width="2.4" stroke-linecap="round" opacity="0.85" filter="url(#bl1)"/><path d="M424.57 272.81L454.04 247.99" stroke="#d7d7d7" stroke-width="1.6" stroke-linecap="round" opacity="0.85" filter="url(#bl1)"/><path d="M439.86 326.32L439.01 327.84" stroke="#d7d7d7" stroke-width="2.4" stroke-linecap="round" opacity="0.85" filter="url(#bl1)"/><path d="M521.06 52.93L522.46 46.88" stroke="#bebebe" stroke-width="2.4" stroke-linecap="round" opacity="0.85" filter="url(#bl1)"/><path d="M473.24 7.19L472.81 65.46" stroke="#bebebe" stroke-width="1.6" stroke-linecap="round" opacity="0.85" filter="url(#bl1)"/><path d="M490.43 76.15L510.1 98.25" stroke="#d7d7d7" stroke-width="1.6" stroke-linecap="round" opacity="0.85" filter="url(#bl1)"/><path d="M489.29 76.35L490.43 76.15" stroke="#bebebe" stroke-width="1.6" stroke-linecap="round" opacity="0.85" filter="url(#bl1)"/><path d="M492.82 109.31L486.54 105.89" stroke="#bebebe" stroke-width="3.4" stroke-linecap="round" opacity="0.85" filter="url(#bl1)"/><path d="M463.76 115.66L462.75 118.36" stroke="#ebebeb" stroke-width="2.4" stroke-linecap="round" opacity="0.85" filter="url(#bl1)"/><path d="M499.12 147.25L513.09 132.74" stroke="#d7d7d7" stroke-width="2.4" stroke-linecap="round" opacity="0.85" filter="url(#bl1)"/><path d="M517.54 183.69L511.88 214.58" stroke="#bebebe" stroke-width="1.6" stroke-linecap="round" opacity="0.85" filter="url(#bl1)"/><path d="M518.76 223.85L503.23 250.05" stroke="#ebebeb" stroke-width="1.6" stroke-linecap="round" opacity="0.85" filter="url(#bl1)"/><path d="M495.57 212.25L511.88 214.58" stroke="#d7d7d7" stroke-width="1.6" stroke-linecap="round" opacity="0.85" filter="url(#bl1)"/><path d="M472.27 284.13L473.63 262.56" stroke="#d7d7d7" stroke-width="3.4" stroke-linecap="round" opacity="0.85" filter="url(#bl1)"/><path d="M522.62 316.21L502.53 336.68" stroke="#ebebeb" stroke-width="3.4" stroke-linecap="round" opacity="0.85" filter="url(#bl1)"/><path d="M491.1 335.33L480.11 289.01" stroke="#ebebeb" stroke-width="1.6" stroke-linecap="round" opacity="0.85" filter="url(#bl1)"/><path d="M480.11 289.01L511.29 293.64" stroke="#ebebeb" stroke-width="3.4" stroke-linecap="round" opacity="0.85" filter="url(#bl1)"/><path d="M511.29 293.64L513.42 295.39" stroke="#bebebe" stroke-width="2.4" stroke-linecap="round" opacity="0.85" filter="url(#bl1)"/><path d="M524.91 130.53L530.98 122.72" stroke="#d7d7d7" stroke-width="2.4" stroke-linecap="round" opacity="0.85" filter="url(#bl1)"/><path d="M510.1 98.25L492.82 109.31" stroke="#bebebe" stroke-width="1.6" stroke-linecap="round" opacity="0.85" filter="url(#bl1)"/><path d="M554.84 170.23L555.51 169.25" stroke="#d7d7d7" stroke-width="2.4" stroke-linecap="round" opacity="0.85" filter="url(#bl1)"/><path d="M555.51 169.25L529.45 137.56" stroke="#bebebe" stroke-width="3.4" stroke-linecap="round" opacity="0.85" filter="url(#bl1)"/><path d="M529.45 137.56L516.6 182.58" stroke="#bebebe" stroke-width="1.6" stroke-linecap="round" opacity="0.85" filter="url(#bl1)"/><path d="M511.88 214.58L517.54 183.69" stroke="#bebebe" stroke-width="1.6" stroke-linecap="round" opacity="0.85" filter="url(#bl1)"/><path d="M519.28 223.97L518.76 223.85" stroke="#d7d7d7" stroke-width="2.4" stroke-linecap="round" opacity="0.85" filter="url(#bl1)"/><path d="M546.32 265.11L551.4 258.35" stroke="#d7d7d7" stroke-width="3.4" stroke-linecap="round" opacity="0.85" filter="url(#bl1)"/><path d="M551.4 258.35L551.85 256.27" stroke="#ebebeb" stroke-width="3.4" stroke-linecap="round" opacity="0.85" filter="url(#bl1)"/><path d="M522.62 316.21L513.42 295.39" stroke="#d7d7d7" stroke-width="1.6" stroke-linecap="round" opacity="0.85" filter="url(#bl1)"/><path d="M546.38 320.38L522.62 316.21" stroke="#ebebeb" stroke-width="3.4" stroke-linecap="round" opacity="0.85" filter="url(#bl1)"/><path d="M502.53 336.68L534.84 391.64" stroke="#ebebeb" stroke-width="3.4" stroke-linecap="round" opacity="0.85" filter="url(#bl1)"/><path d="M555.47 46.23L581.94 9.73" stroke="#ebebeb" stroke-width="1.6" stroke-linecap="round" opacity="0.85" filter="url(#bl1)"/><path d="M555.51 169.25L569.75 163.66" stroke="#ebebeb" stroke-width="3.4" stroke-linecap="round" opacity="0.85" filter="url(#bl1)"/><path d="M530.98 122.72L524.91 130.53" stroke="#ebebeb" stroke-width="2.4" stroke-linecap="round" opacity="0.85" filter="url(#bl1)"/><path d="M569.75 163.66L555.51 169.25" stroke="#bebebe" stroke-width="2.4" stroke-linecap="round" opacity="0.85" filter="url(#bl1)"/><path d="M555.51 169.25L554.84 170.23" stroke="#d7d7d7" stroke-width="1.6" stroke-linecap="round" opacity="0.85" filter="url(#bl1)"/><path d="M556.49 205.41L579.14 233.74" stroke="#ebebeb" stroke-width="2.4" stroke-linecap="round" opacity="0.85" filter="url(#bl1)"/><path d="M579.14 233.74L577.56 241.29" stroke="#d7d7d7" stroke-width="3.4" stroke-linecap="round" opacity="0.85" filter="url(#bl1)"/><path d="M539.63 215.19L556.49 205.41" stroke="#bebebe" stroke-width="1.6" stroke-linecap="round" opacity="0.85" filter="url(#bl1)"/><path d="M573.46 243.28L539.63 215.19" stroke="#ebebeb" stroke-width="3.4" stroke-linecap="round" opacity="0.85" filter="url(#bl1)"/><path d="M551.58 338.36L546.38 320.38" stroke="#bebebe" stroke-width="2.4" stroke-linecap="round" opacity="0.85" filter="url(#bl1)"/><path d="M623.36 11.92L617.22 69.16" stroke="#d7d7d7" stroke-width="1.6" stroke-linecap="round" opacity="0.85" filter="url(#bl1)"/><path d="M614.2 71.28L594.16 72.25" stroke="#d7d7d7" stroke-width="1.6" stroke-linecap="round" opacity="0.85" filter="url(#bl1)"/><path d="M591.68 71.55L581.94 9.73" stroke="#d7d7d7" stroke-width="1.6" stroke-linecap="round" opacity="0.85" filter="url(#bl1)"/><path d="M617.19 107.92L595.99 112.67" stroke="#bebebe" stroke-width="1.6" stroke-linecap="round" opacity="0.85" filter="url(#bl1)"/><path d="M591.68 71.55L594.16 72.25" stroke="#ebebeb" stroke-width="2.4" stroke-linecap="round" opacity="0.85" filter="url(#bl1)"/><path d="M592.91 114.75L577.68 112.8" stroke="#ebebeb" stroke-width="2.4" stroke-linecap="round" opacity="0.85" filter="url(#bl1)"/><path d="M577.68 112.8L559.84 88.91" stroke="#ebebeb" stroke-width="2.4" stroke-linecap="round" opacity="0.85" filter="url(#bl1)"/><path d="M565.82 78.55L591.68 71.55" stroke="#bebebe" stroke-width="2.4" stroke-linecap="round" opacity="0.85" filter="url(#bl1)"/><path d="M572.25 161.93L603.04 159.39" stroke="#ebebeb" stroke-width="2.4" stroke-linecap="round" opacity="0.85" filter="url(#bl1)"/><path d="M603.04 159.39L592.91 114.75" stroke="#ebebeb" stroke-width="3.4" stroke-linecap="round" opacity="0.85" filter="url(#bl1)"/><path d="M566.89 130.36L572.25 161.93" stroke="#ebebeb" stroke-width="2.4" stroke-linecap="round" opacity="0.85" filter="url(#bl1)"/><path d="M610.48 164.2L614.59 201.56" stroke="#d7d7d7" stroke-width="1.6" stroke-linecap="round" opacity="0.85" filter="url(#bl1)"/><path d="M584.69 200.26L602.07 209.88" stroke="#bebebe" stroke-width="1.6" stroke-linecap="round" opacity="0.85" filter="url(#bl1)"/><path d="M604.09 263.72L610.95 257.93" stroke="#bebebe" stroke-width="2.4" stroke-linecap="round" opacity="0.85" filter="url(#bl1)"/><path d="M604.09 263.72L577.56 241.29" stroke="#bebebe" stroke-width="2.4" stroke-linecap="round" opacity="0.85" filter="url(#bl1)"/><path d="M577.56 241.29L573.46 243.28" stroke="#bebebe" stroke-width="1.6" stroke-linecap="round" opacity="0.85" filter="url(#bl1)"/><path d="M551.4 258.35L586.24 295.43" stroke="#bebebe" stroke-width="1.6" stroke-linecap="round" opacity="0.85" filter="url(#bl1)"/><path d="M604.09 282.51L604.09 263.72" stroke="#d7d7d7" stroke-width="1.6" stroke-linecap="round" opacity="0.85" filter="url(#bl1)"/><path d="M594.78 323.86L586.09 295.67" stroke="#ebebeb" stroke-width="1.6" stroke-linecap="round" opacity="0.85" filter="url(#bl1)"/><path d="M556.55 308.75L554.07 312.22" stroke="#bebebe" stroke-width="1.6" stroke-linecap="round" opacity="0.85" filter="url(#bl1)"/><path d="M569.34 341.47L595.18 355.65" stroke="#bebebe" stroke-width="2.4" stroke-linecap="round" opacity="0.85" filter="url(#bl1)"/><path d="M623.36 11.92L656.8 59.2" stroke="#d7d7d7" stroke-width="2.4" stroke-linecap="round" opacity="0.85" filter="url(#bl1)"/><path d="M627.9 113.84L641.99 114.05" stroke="#d7d7d7" stroke-width="3.4" stroke-linecap="round" opacity="0.85" filter="url(#bl1)"/><path d="M653.34 105.74L654.8 103.35" stroke="#ebebeb" stroke-width="1.6" stroke-linecap="round" opacity="0.85" filter="url(#bl1)"/><path d="M643.25 74.94L617.22 69.16" stroke="#d7d7d7" stroke-width="3.4" stroke-linecap="round" opacity="0.85" filter="url(#bl1)"/><path d="M617.22 69.16L614.2 71.28" stroke="#bebebe" stroke-width="2.4" stroke-linecap="round" opacity="0.85" filter="url(#bl1)"/><path d="M617.19 107.92L595.99 112.67" stroke="#d7d7d7" stroke-width="3.4" stroke-linecap="round" opacity="0.85" filter="url(#bl1)"/><path d="M641.99 114.05L646.68 156.92" stroke="#d7d7d7" stroke-width="1.6" stroke-linecap="round" opacity="0.85" filter="url(#bl1)"/><path d="M610.48 164.2L605.5 160.28" stroke="#d7d7d7" stroke-width="2.4" stroke-linecap="round" opacity="0.85" filter="url(#bl1)"/><path d="M605.5 160.28L627.9 113.84" stroke="#ebebeb" stroke-width="3.4" stroke-linecap="round" opacity="0.85" filter="url(#bl1)"/><path d="M614.59 201.56L610.48 164.2" stroke="#d7d7d7" stroke-width="3.4" stroke-linecap="round" opacity="0.85" filter="url(#bl1)"/><path d="M648.76 218.66L662.5 208.14" stroke="#d7d7d7" stroke-width="3.4" stroke-linecap="round" opacity="0.85" filter="url(#bl1)"/><path d="M614.59 201.56L614.04 205.65" stroke="#bebebe" stroke-width="2.4" stroke-linecap="round" opacity="0.85" filter="url(#bl1)"/><path d="M610.95 257.93L640.33 254.84" stroke="#bebebe" stroke-width="1.6" stroke-linecap="round" opacity="0.85" filter="url(#bl1)"/><path d="M640.33 254.84L637.32 219.98" stroke="#d7d7d7" stroke-width="1.6" stroke-linecap="round" opacity="0.85" filter="url(#bl1)"/><path d="M642.08 290.26L645.68 258.34" stroke="#ebebeb" stroke-width="2.4" stroke-linecap="round" opacity="0.85" filter="url(#bl1)"/><path d="M645.68 258.34L640.33 254.84" stroke="#d7d7d7" stroke-width="3.4" stroke-linecap="round" opacity="0.85" filter="url(#bl1)"/><path d="M610.95 257.93L604.09 263.72" stroke="#ebebeb" stroke-width="3.4" stroke-linecap="round" opacity="0.85" filter="url(#bl1)"/><path d="M604.09 282.51L630.98 296.29" stroke="#d7d7d7" stroke-width="2.4" stroke-linecap="round" opacity="0.85" filter="url(#bl1)"/><path d="M630.98 296.29L642.08 290.26" stroke="#d7d7d7" stroke-width="3.4" stroke-linecap="round" opacity="0.85" filter="url(#bl1)"/><path d="M605.74 338.93L631.93 331.98" stroke="#ebebeb" stroke-width="3.4" stroke-linecap="round" opacity="0.85" filter="url(#bl1)"/><path d="M604.09 282.51L586.24 295.43" stroke="#d7d7d7" stroke-width="2.4" stroke-linecap="round" opacity="0.85" filter="url(#bl1)"/><path d="M643.25 74.94L656.8 59.2" stroke="#ebebeb" stroke-width="2.4" stroke-linecap="round" opacity="0.85" filter="url(#bl1)"/><path d="M664.49 57.89L683.15 94.65" stroke="#ebebeb" stroke-width="3.4" stroke-linecap="round" opacity="0.85" filter="url(#bl1)"/><path d="M683.15 94.65L682.05 95.71" stroke="#bebebe" stroke-width="1.6" stroke-linecap="round" opacity="0.85" filter="url(#bl1)"/><path d="M654.11 160.09L646.68 156.92" stroke="#d7d7d7" stroke-width="1.6" stroke-linecap="round" opacity="0.85" filter="url(#bl1)"/><path d="M646.68 156.92L641.99 114.05" stroke="#bebebe" stroke-width="1.6" stroke-linecap="round" opacity="0.85" filter="url(#bl1)"/><path d="M662.5 208.14L678.67 206.01" stroke="#bebebe" stroke-width="2.4" stroke-linecap="round" opacity="0.85" filter="url(#bl1)"/><path d="M678.67 206.01L681.63 202.08" stroke="#ebebeb" stroke-width="2.4" stroke-linecap="round" opacity="0.85" filter="url(#bl1)"/><path d="M681.63 202.08L676.21 158.45" stroke="#ebebeb" stroke-width="3.4" stroke-linecap="round" opacity="0.85" filter="url(#bl1)"/><path d="M688.98 230.03L678.67 206.01" stroke="#d7d7d7" stroke-width="1.6" stroke-linecap="round" opacity="0.85" filter="url(#bl1)"/><path d="M640.33 254.84L645.68 258.34" stroke="#ebebeb" stroke-width="2.4" stroke-linecap="round" opacity="0.85" filter="url(#bl1)"/><path d="M670 252.11L648.76 218.66" stroke="#d7d7d7" stroke-width="1.6" stroke-linecap="round" opacity="0.85" filter="url(#bl1)"/><path d="M680.23 265.6L672.89 252.95" stroke="#bebebe" stroke-width="1.6" stroke-linecap="round" opacity="0.85" filter="url(#bl1)"/><path d="M672.89 252.95L670 252.11" stroke="#bebebe" stroke-width="1.6" stroke-linecap="round" opacity="0.85" filter="url(#bl1)"/><path d="M645.68 258.34L642.08 290.26" stroke="#d7d7d7" stroke-width="3.4" stroke-linecap="round" opacity="0.85" filter="url(#bl1)"/><path d="M642.08 290.26L666.05 291.57" stroke="#bebebe" stroke-width="1.6" stroke-linecap="round" opacity="0.85" filter="url(#bl1)"/><path d="M675.79 305.93L676.28 309.26" stroke="#ebebeb" stroke-width="3.4" stroke-linecap="round" opacity="0.85" filter="url(#bl1)"/><path d="M664.49 57.89L683.15 94.65" stroke="#bebebe" stroke-width="1.6" stroke-linecap="round" opacity="0.85" filter="url(#bl1)"/><path d="M683.15 94.65L776.56 52.14" stroke="#ebebeb" stroke-width="2.4" stroke-linecap="round" opacity="0.85" filter="url(#bl1)"/><path d="M728.55 276.04L675.79 305.93" stroke="#d7d7d7" stroke-width="2.4" stroke-linecap="round" opacity="0.85" filter="url(#bl1)"/><path d="M675.79 305.93L666.05 291.57" stroke="#d7d7d7" stroke-width="1.6" stroke-linecap="round" opacity="0.85" filter="url(#bl1)"/></g></g>
<g clip-path="url(#sc3)"><g filter="url(#sf3)"><rect x="700" y="59" width="273" height="273" fill="#000"/><rect x="702" y="61" width="269" height="269" fill="#646464"/><path d="M693.71 13.2L629.04 80.66L702.8 109.07L717.35 75.35Z" fill="#656565" stroke="#474747" stroke-width="1.2" stroke-linejoin="round"/><path d="M727.67 287.46L697.02 269.97L678.52 281.76L680.61 534.4L717.73 426.82L731.61 334.97Z" fill="#313131" stroke="#131313" stroke-width="1.2" stroke-linejoin="round"/><path d="M763.54 134.88L703.16 110.55L702.8 109.07L717.35 75.35L753.35 67.63L778.88 88.63Z" fill="#717171" stroke="#535353" stroke-width="1.2" stroke-linejoin="round"/><path d="M781.41 159.63L784.97 168.28L751.02 186.15L704.9 177.13L690.97 141.76L703.16 110.55L763.54 134.88Z" fill="#484848" stroke="#2a2a2a" stroke-width="1.2" stroke-linejoin="round"/><path d="M751.02 186.15L704.9 177.13L682.33 217.65L698.18 254.8L741.34 223.5Z" fill="#4a4a4a" stroke="#2c2c2c" stroke-width="1.2" stroke-linejoin="round"/><path d="M782.23 247.67L775.82 267.73L730.27 287.2L727.67 287.46L697.02 269.97L698.18 254.8L741.34 223.5Z" fill="#4d4d4d" stroke="#2f2f2f" stroke-width="1.2" stroke-linejoin="round"/><path d="M727.67 287.46L731.61 334.97L782.53 324.02L730.27 287.2Z" fill="#5d5d5d" stroke="#3f3f3f" stroke-width="1.2" stroke-linejoin="round"/><path d="M731.61 334.97L717.73 426.82L783.41 334.22L783.41 324.34L782.53 324.02Z" fill="#515151" stroke="#333333" stroke-width="1.2" stroke-linejoin="round"/><path d="M819.79 81.61L821.25 80.89L822.19 65.96L786.11 10.04L753.35 67.63L778.88 88.63Z" fill="#707070" stroke="#525252" stroke-width="1.2" stroke-linejoin="round"/><path d="M781.41 159.63L819.79 81.61L778.88 88.63L763.54 134.88Z" fill="#505050" stroke="#323232" stroke-width="1.2" stroke-linejoin="round"/><path d="M781.41 159.63L784.97 168.28L797.03 174.05L852.33 115.31L833.44 91.64L821.25 80.89L819.79 81.61Z" fill="#767676" stroke="#585858" stroke-width="1.2" stroke-linejoin="round"/><path d="M822.02 205.89L797.03 174.05L784.97 168.28L751.02 186.15L741.34 223.5L782.23 247.67L817.61 215.01Z" fill="#616161" stroke="#434343" stroke-width="1.2" stroke-linejoin="round"/><path d="M826.16 255.89L817.61 215.01L782.23 247.67L775.82 267.73L807.63 300.76L811.34 300.88Z" fill="#5d5d5d" stroke="#3f3f3f" stroke-width="1.2" stroke-linejoin="round"/><path d="M730.27 287.2L775.82 267.73L807.63 300.76L783.41 324.34L782.53 324.02Z" fill="#474747" stroke="#292929" stroke-width="1.2" stroke-linejoin="round"/><path d="M833.44 91.64L893.43 54.8L893.64 47.76L874.51 30.88L822.19 65.96L821.25 80.89Z" fill="#808080" stroke="#626262" stroke-width="1.2" stroke-linejoin="round"/><path d="M822.02 205.89L797.03 174.05L852.33 115.31L868.63 119.22L868.85 142.67L823.77 205.93Z" fill="#6b6b6b" stroke="#4d4d4d" stroke-width="1.2" stroke-linejoin="round"/><path d="M823.77 205.93L868.85 142.67L884.99 178.89L876.22 206.27L867.98 214.52Z" fill="#606060" stroke="#424242" stroke-width="1.2" stroke-linejoin="round"/><path d="M826.16 255.89L817.61 215.01L822.02 205.89L823.77 205.93L867.98 214.52L883.89 242.85L858 279.66Z" fill="#5a5a5a" stroke="#3c3c3c" stroke-width="1.2" stroke-linejoin="round"/><path d="M826.16 255.89L858 279.66L850.56 317.58L849.81 318.02L811.34 300.88Z" fill="#4e4e4e" stroke="#303030" stroke-width="1.2" stroke-linejoin="round"/><path d="M811.34 300.88L807.63 300.76L783.41 324.34L783.41 334.22L835.78 376.12L849.81 318.02Z" fill="#626262" stroke="#444444" stroke-width="1.2" stroke-linejoin="round"/><path d="M833.44 91.64L852.33 115.31L868.63 119.22L901.64 109.54L893.43 54.8Z" fill="#7e7e7e" stroke="#606060" stroke-width="1.2" stroke-linejoin="round"/><path d="M884.99 178.89L907.76 160.97L910.34 113.26L901.64 109.54L868.63 119.22L868.85 142.67Z" fill="#4c4c4c" stroke="#2e2e2e" stroke-width="1.2" stroke-linejoin="round"/><path d="M876.22 206.27L918.7 198.47L932.67 178.72L907.76 160.97L884.99 178.89Z" fill="#5f5f5f" stroke="#414141" stroke-width="1.2" stroke-linejoin="round"/><path d="M867.98 214.52L876.22 206.27L918.7 198.47L938.49 223.16L907.27 255.22L883.89 242.85Z" fill="#606060" stroke="#424242" stroke-width="1.2" stroke-linejoin="round"/><path d="M850.56 317.58L913.5 319.47L924.55 282.51L907.27 255.22L883.89 242.85L858 279.66Z" fill="#545454" stroke="#363636" stroke-width="1.2" stroke-linejoin="round"/><path d="M849.81 318.02L835.78 376.12L839.3 470.37L925.72 340.23L913.5 319.47L850.56 317.58Z" fill="#5b5b5b" stroke="#3d3d3d" stroke-width="1.2" stroke-linejoin="round"/><path d="M944.11 -16.8L978.78 53.66L968.67 64.21L916.96 41.11Z" fill="#787878" stroke="#5a5a5a" stroke-width="1.2" stroke-linejoin="round"/><path d="M893.43 54.8L901.64 109.54L910.34 113.26L933.53 112.95L965.74 77.36L968.67 64.21L916.96 41.11L893.64 47.76Z" fill="#555555" stroke="#373737" stroke-width="1.2" stroke-linejoin="round"/><path d="M907.76 160.97L910.34 113.26L933.53 112.95L968 156.56L963.15 170.59L932.67 178.72Z" fill="#7f7f7f" stroke="#616161" stroke-width="1.2" stroke-linejoin="round"/><path d="M938.49 223.16L918.7 198.47L932.67 178.72L963.15 170.59L975.51 210.71L961.6 220.5Z" fill="#717171" stroke="#535353" stroke-width="1.2" stroke-linejoin="round"/><path d="M924.55 282.51L954.12 275.1L961.6 220.5L938.49 223.16L907.27 255.22Z" fill="#757575" stroke="#575757" stroke-width="1.2" stroke-linejoin="round"/><path d="M924.55 282.51L954.12 275.1L975.71 279.94L989.78 299.78L958.56 351.6L925.72 340.23L913.5 319.47Z" fill="#717171" stroke="#535353" stroke-width="1.2" stroke-linejoin="round"/><path d="M965.74 77.36L1026.81 135.87L968 156.56L933.53 112.95Z" fill="#717171" stroke="#535353" stroke-width="1.2" stroke-linejoin="round"/><path d="M961.6 220.5L975.51 210.71L1013.87 226.9L975.71 279.94L954.12 275.1Z" fill="#606060" stroke="#424242" stroke-width="1.2" stroke-linejoin="round"/><path d="M717.35 75.35L693.71 13.2" stroke="#afafaf" stroke-width="2.5" stroke-linecap="round" opacity="0.85" filter="url(#bl1)"/><path d="M697.02 269.97L678.52 281.76" stroke="#afafaf" stroke-width="1.5" stroke-linecap="round" opacity="0.85" filter="url(#bl1)"/><path d="M680.61 534.4L717.73 426.82" stroke="#c8c8c8" stroke-width="1.5" stroke-linecap="round" opacity="0.85" filter="url(#bl1)"/><path d="M690.97 141.76L703.16 110.55" stroke="#afafaf" stroke-width="1.5" stroke-linecap="round" opacity="0.85" filter="url(#bl1)"/><path d="M763.54 134.88L781.41 159.63" stroke="#c8c8c8" stroke-width="2.5" stroke-linecap="round" opacity="0.85" filter="url(#bl1)"/><path d="M698.18 254.8L741.34 223.5" stroke="#c8c8c8" stroke-width="2.5" stroke-linecap="round" opacity="0.85" filter="url(#bl1)"/><path d="M782.53 324.02L730.27 287.2" stroke="#e1e1e1" stroke-width="3.5" stroke-linecap="round" opacity="0.85" filter="url(#bl1)"/><path d="M783.41 324.34L782.53 324.02" stroke="#c8c8c8" stroke-width="3.5" stroke-linecap="round" opacity="0.85" filter="url(#bl1)"/><path d="M819.79 81.61L821.25 80.89" stroke="#afafaf" stroke-width="3.5" stroke-linecap="round" opacity="0.85" filter="url(#bl1)"/><path d="M822.19 65.96L786.11 10.04" stroke="#c8c8c8" stroke-width="2.5" stroke-linecap="round" opacity="0.85" filter="url(#bl1)"/><path d="M797.03 174.05L852.33 115.31" stroke="#afafaf" stroke-width="3.5" stroke-linecap="round" opacity="0.85" filter="url(#bl1)"/><path d="M819.79 81.61L781.41 159.63" stroke="#e1e1e1" stroke-width="2.5" stroke-linecap="round" opacity="0.85" filter="url(#bl1)"/><path d="M807.63 300.76L811.34 300.88" stroke="#afafaf" stroke-width="2.5" stroke-linecap="round" opacity="0.85" filter="url(#bl1)"/><path d="M730.27 287.2L775.82 267.73" stroke="#afafaf" stroke-width="1.5" stroke-linecap="round" opacity="0.85" filter="url(#bl1)"/><path d="M807.63 300.76L783.41 324.34" stroke="#e1e1e1" stroke-width="1.5" stroke-linecap="round" opacity="0.85" filter="url(#bl1)"/><path d="M783.41 324.34L782.53 324.02" stroke="#e1e1e1" stroke-width="1.5" stroke-linecap="round" opacity="0.85" filter="url(#bl1)"/><path d="M893.64 47.76L874.51 30.88" stroke="#afafaf" stroke-width="2.5" stroke-linecap="round" opacity="0.85" filter="url(#bl1)"/><path d="M874.51 30.88L822.19 65.96" stroke="#afafaf" stroke-width="1.5" stroke-linecap="round" opacity="0.85" filter="url(#bl1)"/><path d="M797.03 174.05L852.33 115.31" stroke="#e1e1e1" stroke-width="1.5" stroke-linecap="round" opacity="0.85" filter="url(#bl1)"/><path d="M868.85 142.67L823.77 205.93" stroke="#e1e1e1" stroke-width="2.5" stroke-linecap="round" opacity="0.85" filter="url(#bl1)"/><path d="M876.22 206.27L867.98 214.52" stroke="#afafaf" stroke-width="2.5" stroke-linecap="round" opacity="0.85" filter="url(#bl1)"/><path d="M822.02 205.89L823.77 205.93" stroke="#c8c8c8" stroke-width="1.5" stroke-linecap="round" opacity="0.85" filter="url(#bl1)"/><path d="M858 279.66L826.16 255.89" stroke="#afafaf" stroke-width="3.5" stroke-linecap="round" opacity="0.85" filter="url(#bl1)"/><path d="M826.16 255.89L858 279.66" stroke="#afafaf" stroke-width="2.5" stroke-linecap="round" opacity="0.85" filter="url(#bl1)"/><path d="M858 279.66L850.56 317.58" stroke="#c8c8c8" stroke-width="3.5" stroke-linecap="round" opacity="0.85" filter="url(#bl1)"/><path d="M850.56 317.58L849.81 318.02" stroke="#c8c8c8" stroke-width="3.5" stroke-linecap="round" opacity="0.85" filter="url(#bl1)"/><path d="M807.63 300.76L783.41 324.34" stroke="#afafaf" stroke-width="1.5" stroke-linecap="round" opacity="0.85" filter="url(#bl1)"/><path d="M783.41 324.34L783.41 334.22" stroke="#afafaf" stroke-width="2.5" stroke-linecap="round" opacity="0.85" filter="url(#bl1)"/><path d="M835.78 376.12L849.81 318.02" stroke="#e1e1e1" stroke-width="1.5" stroke-linecap="round" opacity="0.85" filter="url(#bl1)"/><path d="M901.64 109.54L893.43 54.8" stroke="#afafaf" stroke-width="2.5" stroke-linecap="round" opacity="0.85" filter="url(#bl1)"/><path d="M893.43 54.8L833.44 91.64" stroke="#afafaf" stroke-width="2.5" stroke-linecap="round" opacity="0.85" filter="url(#bl1)"/><path d="M884.99 178.89L907.76 160.97" stroke="#afafaf" stroke-width="3.5" stroke-linecap="round" opacity="0.85" filter="url(#bl1)"/><path d="M901.64 109.54L868.63 119.22" stroke="#c8c8c8" stroke-width="1.5" stroke-linecap="round" opacity="0.85" filter="url(#bl1)"/><path d="M876.22 206.27L918.7 198.47" stroke="#afafaf" stroke-width="2.5" stroke-linecap="round" opacity="0.85" filter="url(#bl1)"/><path d="M883.89 242.85L867.98 214.52" stroke="#c8c8c8" stroke-width="2.5" stroke-linecap="round" opacity="0.85" filter="url(#bl1)"/><path d="M913.5 319.47L924.55 282.51" stroke="#e1e1e1" stroke-width="3.5" stroke-linecap="round" opacity="0.85" filter="url(#bl1)"/><path d="M849.81 318.02L835.78 376.12" stroke="#c8c8c8" stroke-width="1.5" stroke-linecap="round" opacity="0.85" filter="url(#bl1)"/><path d="M835.78 376.12L839.3 470.37" stroke="#afafaf" stroke-width="1.5" stroke-linecap="round" opacity="0.85" filter="url(#bl1)"/><path d="M839.3 470.37L925.72 340.23" stroke="#c8c8c8" stroke-width="2.5" stroke-linecap="round" opacity="0.85" filter="url(#bl1)"/><path d="M913.5 319.47L850.56 317.58" stroke="#c8c8c8" stroke-width="1.5" stroke-linecap="round" opacity="0.85" filter="url(#bl1)"/><path d="M944.11 -16.8L978.78 53.66" stroke="#afafaf" stroke-width="3.5" stroke-linecap="round" opacity="0.85" filter="url(#bl1)"/><path d="M968.67 64.21L916.96 41.11" stroke="#e1e1e1" stroke-width="3.5" stroke-linecap="round" opacity="0.85" filter="url(#bl1)"/><path d="M916.96 41.11L944.11 -16.8" stroke="#c8c8c8" stroke-width="1.5" stroke-linecap="round" opacity="0.85" filter="url(#bl1)"/><path d="M968 156.56L963.15 170.59" stroke="#c8c8c8" stroke-width="3.5" stroke-linecap="round" opacity="0.85" filter="url(#bl1)"/><path d="M963.15 170.59L932.67 178.72" stroke="#c8c8c8" stroke-width="1.5" stroke-linecap="round" opacity="0.85" filter="url(#bl1)"/><path d="M924.55 282.51L954.12 275.1" stroke="#c8c8c8" stroke-width="1.5" stroke-linecap="round" opacity="0.85" filter="url(#bl1)"/><path d="M961.6 220.5L938.49 223.16" stroke="#e1e1e1" stroke-width="2.5" stroke-linecap="round" opacity="0.85" filter="url(#bl1)"/><path d="M954.12 275.1L975.71 279.94" stroke="#afafaf" stroke-width="2.5" stroke-linecap="round" opacity="0.85" filter="url(#bl1)"/><path d="M958.56 351.6L925.72 340.23" stroke="#e1e1e1" stroke-width="3.5" stroke-linecap="round" opacity="0.85" filter="url(#bl1)"/><path d="M933.53 112.95L965.74 77.36" stroke="#afafaf" stroke-width="1.5" stroke-linecap="round" opacity="0.85" filter="url(#bl1)"/><path d="M1013.87 226.9L975.71 279.94" stroke="#e1e1e1" stroke-width="2.5" stroke-linecap="round" opacity="0.85" filter="url(#bl1)"/><path d="M975.71 279.94L954.12 275.1" stroke="#c8c8c8" stroke-width="3.5" stroke-linecap="round" opacity="0.85" filter="url(#bl1)"/><path d="M702 227.78L769.25 227.78L782.7 308.48L702 316.55Z" fill="#464646" opacity="0.5" filter="url(#bl4)"/><path d="M917.2 87.9L971 87.9L971 182.05L930.65 168.6Z" fill="#878787" opacity="0.5" filter="url(#bl4)"/></g></g>
<g clip-path="url(#sc4)"><g filter="url(#sf4)"><rect x="996" y="59" width="274" height="273" fill="#000"/><rect x="998" y="61" width="270" height="269" fill="#808080"/><path d="M1095.2 87.9L1122.2 109.42L1133 168.6L1111.4 195.5L1100.6 141.7Z" fill="#4e4e4e" opacity="0.9" filter="url(#bl4)"/><path d="M1138.4 141.7L1192.4 136.32L1208.6 195.5L1165.4 208.95L1133 182.05Z" fill="#565656" opacity="0.85" filter="url(#bl4)"/><path d="M998 168.6L1030.4 173.98L1035.8 227.78L998 227.78Z" fill="#535353" opacity="0.85" filter="url(#bl4)"/><path d="M1133 276.2L1165.4 286.96L1170.8 308.48L1138.4 297.72Z" fill="#494949" opacity="0.9" filter="url(#bl4)"/><path d="M1192.4 270.82L1227.5 249.3L1241 281.58L1208.6 308.48Z" fill="#535353" opacity="0.8" filter="url(#bl4)"/><path d="M1073.6 208.95L1106 217.02L1095.2 243.92L1068.2 233.16Z" fill="#5d5d5d" opacity="0.7" filter="url(#bl4)"/><path d="M1230.2 120.18L1268 128.25L1268 168.6L1235.6 157.84Z" fill="#585858" opacity="0.8" filter="url(#bl4)"/><path d="M998 61L1079 61L1079 141.7L998 141.7Z" fill="#8c8c8c" opacity="0.8" filter="url(#bl4)"/><path d="M1146.5 182.05L1227.5 195.5L1214 249.3L1133 249.3Z" fill="#8a8a8a" opacity="0.8" filter="url(#bl4)"/><path d="M1154.6 130.94L1176.2 114.8L1187 98.66L1203.2 93.28" fill="none" stroke="#d0d0d0" stroke-width="2.5" opacity="0.8" filter="url(#bl1)"/><path d="M1214 87.9L1224.8 120.18L1241 141.7" fill="none" stroke="#d0d0d0" stroke-width="2.5" opacity="0.8" filter="url(#bl1)"/><path d="M1111.4 200.88L1133 211.64L1154.6 238.54" fill="none" stroke="#bcbcbc" stroke-width="2" opacity="0.8" filter="url(#bl1)"/><path d="M1230.2 254.68L1246.4 270.82L1268 281.58" fill="none" stroke="#bcbcbc" stroke-width="2" opacity="0.8" filter="url(#bl1)"/></g></g>
<g clip-path="url(#sc5)"><g filter="url(#sf5)"><rect x="108" y="351" width="273" height="273" fill="#000"/><rect x="110" y="353" width="269" height="269" fill="#8a8a8a"/><rect x="105" y="353" width="279" height="8.07" fill="#5f5f5f" opacity="0.6" filter="url(#bl4)"/><rect x="105" y="385.28" width="279" height="18.83" fill="#696969" opacity="0.6" filter="url(#bl4)"/><rect x="105" y="449.84" width="279" height="10.76" fill="#b9b9b9" opacity="0.6" filter="url(#bl4)"/><rect x="105" y="471.36" width="279" height="21.52" fill="#5c5c5c" opacity="0.8" filter="url(#bl4)"/><rect x="105" y="433.7" width="279" height="16.14" fill="#969696" opacity="0.4" filter="url(#bl4)"/><rect x="105" y="503.64" width="279" height="26.9" fill="#969696" opacity="0.4" filter="url(#bl4)"/><rect x="105" y="562.82" width="279" height="21.52" fill="#646464" opacity="0.6" filter="url(#bl4)"/><rect x="105" y="595.1" width="279" height="26.9" fill="#737373" opacity="0.5" filter="url(#bl4)"/><rect x="105" y="541.3" width="279" height="10.76" fill="#6e6e6e" opacity="0.4" filter="url(#bl4)"/><rect x="110" y="453.88" width="86.08" height="2" fill="#e1e1e1" opacity="0.8" filter="url(#bl1)"/><rect x="319.82" y="443.12" width="10.76" height="2" fill="#f0f0f0" opacity="0.9"/><path d="M309.06 557.44L314.44 573.58L311.75 589.72L319.82 595.1L333.27 597.79L344.03 611.24" fill="none" stroke="#ebebeb" stroke-width="4" opacity="0.85" filter="url(#bl1)"/><path d="M313.1 562.82L317.13 578.96L315.78 592.41L325.2 600.48L338.65 603.17L346.72 613.93" fill="none" stroke="#141414" stroke-width="1.8" opacity="0.9"/><path d="M311.75 600.48L310.4 622" fill="none" stroke="#1e1e1e" stroke-width="1.5" opacity="0.8"/><path d="M346.72 557.44L360.17 568.2L370.93 578.96L376.31 595.1" fill="none" stroke="#282828" stroke-width="1.3" opacity="0.8"/><path d="M150.35 509.02L154.38 519.78L153.04 530.54" fill="none" stroke="#282828" stroke-width="1.5" opacity="0.8"/></g></g>
<g clip-path="url(#sc6)"><g filter="url(#sf6)"><rect x="404" y="351" width="273" height="273" fill="#000"/><rect x="406" y="353" width="269" height="269" fill="#808080"/><path d="M406 371.83L432.9 379.9L459.8 396.04L486.7 404.11L518.98 417.56L535.12 433.7" fill="none" stroke="#353535" stroke-width="9" stroke-linecap="round" stroke-linejoin="round" opacity="0.8" filter="url(#bl2)"/><path d="M540.5 433.7L548.57 460.6L553.95 492.88L559.33 519.78L567.4 546.68L572.78 568.2" fill="none" stroke="#2b2b2b" stroke-width="7" stroke-linecap="round" stroke-linejoin="round" opacity="0.85" filter="url(#bl2)"/><path d="M572.78 568.2L562.02 595.1L553.95 622" fill="none" stroke="#3f3f3f" stroke-width="4" stroke-linecap="round" stroke-linejoin="round" opacity="0.7" filter="url(#bl2)"/><path d="M572.78 568.2L594.3 557.44L605.06 549.37" fill="none" stroke="#353535" stroke-width="6" stroke-linecap="round" stroke-linejoin="round" opacity="0.8" filter="url(#bl2)"/><path d="M540.5 433.7L567.4 412.18L599.68 396.04L621.2 387.97" fill="none" stroke="#494949" stroke-width="6" stroke-linecap="round" stroke-linejoin="round" opacity="0.7" filter="url(#bl2)"/><path d="M621.2 353L626.58 379.9L642.72 406.8L661.55 433.7L675 444.46" fill="none" stroke="#2b2b2b" stroke-width="9" stroke-linecap="round" stroke-linejoin="round" opacity="0.8" filter="url(#bl2)"/><path d="M443.66 573.58L457.11 584.34L473.25 600.48" fill="none" stroke="#212121" stroke-width="8" stroke-linecap="round" stroke-linejoin="round" opacity="0.85" filter="url(#bl2)"/><path d="M588.92 600.48L599.68 613.93L605.06 622" fill="none" stroke="#2b2b2b" stroke-width="6" stroke-linecap="round" stroke-linejoin="round" opacity="0.8" filter="url(#bl2)"/><path d="M626.58 597.79L642.72 600.48" fill="none" stroke="#2b2b2b" stroke-width="8" stroke-linecap="round" stroke-linejoin="round" opacity="0.8" filter="url(#bl2)"/><path d="M527.05 425.63L532.43 449.84L535.12 476.74L543.19 503.64L548.57 525.16" fill="none" stroke="#dfdfdf" stroke-width="4" stroke-linecap="round" stroke-linejoin="round" opacity="0.85" filter="url(#bl2)"/><path d="M578.16 573.58L583.54 595.1L586.23 622" fill="none" stroke="#eeeeee" stroke-width="7" stroke-linecap="round" stroke-linejoin="round" opacity="0.9" filter="url(#bl2)"/><path d="M605.06 358.38L610.44 379.9L599.68 396.04" fill="none" stroke="#d0d0d0" stroke-width="4" stroke-linecap="round" stroke-linejoin="round" opacity="0.7" filter="url(#bl2)"/><path d="M406 377.21L419.45 379.9" fill="none" stroke="#c6c6c6" stroke-width="3" stroke-linecap="round" stroke-linejoin="round" opacity="0.7" filter="url(#bl2)"/><path d="M416.76 549.37L432.9 546.68" fill="none" stroke="#c6c6c6" stroke-width="3" stroke-linecap="round" stroke-linejoin="round" opacity="0.7" filter="url(#bl2)"/><path d="M594.3 568.2L621.2 565.51L661.55 573.58" fill="none" stroke="#bcbcbc" stroke-width="3" stroke-linecap="round" stroke-linejoin="round" opacity="0.6" filter="url(#bl2)"/><ellipse cx="545.88" cy="444.46" rx="4" ry="3.2" fill="#141414" opacity="0.85" filter="url(#bl1)"/><ellipse cx="551.26" cy="468.67" rx="4.5" ry="3.6" fill="#141414" opacity="0.85" filter="url(#bl1)"/><ellipse cx="553.95" cy="482.12" rx="4" ry="3.2" fill="#141414" opacity="0.85" filter="url(#bl1)"/><ellipse cx="556.64" cy="503.64" rx="4" ry="3.2" fill="#141414" opacity="0.85" filter="url(#bl1)"/><ellipse cx="599.68" cy="460.6" rx="4" ry="3.2" fill="#141414" opacity="0.85" filter="url(#bl1)"/><ellipse cx="524.36" cy="390.66" rx="4" ry="3.2" fill="#141414" opacity="0.85" filter="url(#bl1)"/><ellipse cx="489.39" cy="377.21" rx="4" ry="3.2" fill="#141414" opacity="0.85" filter="url(#bl1)"/><ellipse cx="594.3" cy="366.45" rx="4" ry="3.2" fill="#141414" opacity="0.85" filter="url(#bl1)"/><ellipse cx="653.48" cy="428.32" rx="5" ry="4.0" fill="#141414" opacity="0.85" filter="url(#bl1)"/><ellipse cx="664.24" cy="433.7" rx="4" ry="3.2" fill="#141414" opacity="0.85" filter="url(#bl1)"/><ellipse cx="642.72" cy="398.73" rx="4" ry="3.2" fill="#141414" opacity="0.85" filter="url(#bl1)"/><ellipse cx="537.81" cy="608.55" rx="4.5" ry="3.6" fill="#141414" opacity="0.85" filter="url(#bl1)"/><ellipse cx="475.94" cy="616.62" rx="4.5" ry="3.6" fill="#141414" opacity="0.85" filter="url(#bl1)"/><ellipse cx="637.34" cy="603.17" rx="5" ry="4.0" fill="#141414" opacity="0.85" filter="url(#bl1)"/><ellipse cx="642.72" cy="471.36" rx="3.5" ry="2.8000000000000003" fill="#141414" opacity="0.85" filter="url(#bl1)"/><ellipse cx="607.75" cy="509.02" rx="3.5" ry="2.8000000000000003" fill="#141414" opacity="0.85" filter="url(#bl1)"/></g></g>
<g clip-path="url(#sc7)"><g filter="url(#sf7)"><rect x="700" y="351" width="273" height="273" fill="#000"/><rect x="702" y="353" width="269" height="269" fill="#808080"/><ellipse cx="814.98" cy="482.12" rx="53.8" ry="43.04" fill="#a8a8a8" opacity="0.7" filter="url(#bl8)"/><path d="M702 353L917.2 353L911.82 366.45L809.6 374.52L742.35 379.9L702 385.28Z" fill="#5d5d5d" opacity="0.7" filter="url(#bl4)"/><path d="M929.31 377.21L917.2 412.18L906.44 439.08L892.99 460.6L906.44 482.12L917.2 503.64L925.27 519.78L926.62 487.5L930.65 449.84L938.72 412.18Z" fill="#d5d5d5" opacity="0.9" filter="url(#bl2)"/><path d="M933.34 379.9L971 358.38L971 449.84L944.1 444.46L927.96 449.84Z" fill="#969696" opacity="0.8" filter="url(#bl2)"/><path d="M927.96 449.84L944.1 444.46L971 449.84L971 541.3L949.48 546.68L927.96 519.78Z" fill="#747474" opacity="0.8" filter="url(#bl2)"/><path d="M917.2 353L927.96 371.83L917.2 401.42L903.75 433.7L890.3 465.98L906.44 492.88L917.2 519.78L927.96 546.68L936.03 573.58L938.72 584.34" fill="none" stroke="#303030" stroke-width="3.5" opacity="0.8" filter="url(#bl1)"/><path d="M702 449.84L723.52 465.98L739.66 487.5L747.73 509.02L761.18 530.54L777.32 546.68L782.7 554.75" fill="none" stroke="#494949" stroke-width="3" opacity="0.6" filter="url(#bl1)"/><path d="M771.94 557.44L809.6 546.68L849.95 568.2L903.75 595.1L971 608.55L971 622L755.8 622Z" fill="#8c8c8c" opacity="0.6" filter="url(#bl4)"/><path d="M771.94 558.78L790.77 550.72L804.22 549.37" fill="none" stroke="#e4e4e4" stroke-width="3.5" opacity="0.8" filter="url(#bl1)"/><path d="M836.5 620.65L876.85 617.96L917.2 615.27" fill="none" stroke="#fafafa" stroke-width="3" opacity="0.8" filter="url(#bl1)"/><path d="M819.01 552.06L824.39 561.48" fill="none" stroke="#0a0a0a" stroke-width="2.5" stroke-linecap="round"/><ellipse cx="925.27" cy="514.4" rx="4" ry="3" fill="#fafafa" opacity="0.85" filter="url(#bl1)"/></g></g>
<g clip-path="url(#sc8)"><g filter="url(#sf8)"><rect x="996" y="351" width="274" height="273" fill="#000"/><rect x="998" y="353" width="270" height="269" fill="url(#g8)"/><ellipse cx="1078.7" cy="447.15" rx="67.25" ry="53.8" fill="#5a5a5a" opacity="0.5" filter="url(#bl16)"/><ellipse cx="1030.4" cy="369.14" rx="26.9" ry="16.14" fill="#aaaaaa" opacity="0.7" filter="url(#bl8)"/></g></g>
<rect x="1178.6" y="314" width="79.5" height="6.1" fill="#fff"/>
<rect x="1178.6" y="607" width="79.5" height="6.1" fill="#fff"/>
</g>
<g id="panel-b">
<defs><filter id="abl" x="-50%" y="-50%" width="200%" height="200%"><feGaussianBlur stdDeviation="3.6"/></filter></defs>
<text transform="translate(1506.5 44.7)" font-size="31.4" font-weight="bold" stroke="#000" stroke-width="0.5" stroke-linejoin="round" text-anchor="middle">Ti</text>
<text transform="translate(1803 44.7)" font-size="31.4" font-weight="bold" stroke="#000" stroke-width="0.5" stroke-linejoin="round" text-anchor="middle">MT</text>
<text transform="translate(1507.5 362.1)" font-size="31.4" font-weight="bold" stroke="#000" stroke-width="0.5" stroke-linejoin="round" text-anchor="middle">BPTES@MNT</text>
<text transform="translate(1811.5 362.1)" font-size="31.4" font-weight="bold" stroke="#000" stroke-width="0.5" stroke-linejoin="round" text-anchor="middle">BPTES@MNT/PGA</text>
<text transform="translate(1508.3 285.2)" font-size="26.8" text-anchor="middle">Ra 33.80 ± 5.32 nm</text>
<text transform="translate(1804.5 285.2)" font-size="26.8" text-anchor="middle">Ra 95.61 ± 12.52 nm</text>
<text transform="translate(1508.3 621)" font-size="26.8" text-anchor="middle">Ra 207.31 ± 25.45 nm</text>
<text transform="translate(1814.8 621)" font-size="26.8" text-anchor="middle">Ra 91.78 ± 31.35 nm</text>
<defs>
<clipPath id="ac1"><path d="M1372.24 138.18C1372.77 136.59 1377.54 136.99 1381.78 134.21C1386.01 131.43 1394.22 124.41 1397.66 121.5C1401.11 118.58 1399.25 118.85 1402.43 116.73C1405.61 114.61 1411.7 111.96 1416.73 108.79C1421.76 105.61 1427.85 100.84 1432.62 97.66C1437.38 94.49 1441.09 92.63 1445.33 89.72C1449.57 86.81 1453.8 83.37 1458.04 80.19C1462.28 77.01 1467.57 72.56 1470.75 70.65C1473.93 68.75 1475.25 68.48 1477.11 68.75C1478.96 69.01 1479.75 70.47 1481.87 72.24C1483.99 74.02 1487.7 78.33 1489.82 79.39C1491.93 80.45 1492.46 77.41 1494.58 78.6C1496.7 79.79 1500.14 85.09 1502.53 86.54C1504.91 88 1506.23 85.75 1508.88 87.34C1511.53 88.93 1515.24 93.56 1518.41 96.08C1521.59 98.59 1524.24 99.25 1527.95 102.43C1531.65 105.61 1536.69 111.43 1540.66 115.14C1544.63 118.85 1548.07 121.76 1551.78 124.67C1555.49 127.59 1559.46 130.76 1562.9 132.62C1566.34 134.47 1569.79 134.47 1572.43 135.8C1575.08 137.12 1579.32 138.71 1578.79 140.56C1578.26 142.42 1572.96 144.8 1569.26 146.92C1565.55 149.04 1561.31 150.1 1556.55 153.27C1551.78 156.45 1545.95 162.01 1540.66 165.98C1535.36 169.96 1530.07 173.4 1524.77 177.11C1519.47 180.81 1514.18 184.52 1508.88 188.23C1503.59 191.93 1497.76 195.91 1492.99 199.35C1488.23 202.79 1483.2 207.16 1480.28 208.88C1477.37 210.6 1477.63 210.21 1475.52 209.68C1473.4 209.15 1471.01 208.22 1467.57 205.7C1464.13 203.19 1459.63 198.55 1454.86 194.58C1450.1 190.61 1444.53 185.84 1438.97 181.87C1433.41 177.9 1427.06 173.93 1421.5 170.75C1415.94 167.57 1410.9 165.98 1405.61 162.81C1400.31 159.63 1394.22 154.86 1389.72 151.68C1385.22 148.51 1381.51 145.99 1378.6 143.74C1375.69 141.49 1371.71 139.77 1372.24 138.18Z"/></clipPath>
<filter id="af1" filterUnits="userSpaceOnUse" x="1368.24" y="64.75" width="214.55" height="148.93" color-interpolation-filters="sRGB"><feTurbulence type="fractalNoise" baseFrequency="0.05 0.08" numOctaves="2" seed="3" result="t"/><feColorMatrix in="t" type="matrix" values="1 0 0 0 0  1 0 0 0 0  1 0 0 0 0  0 0 0 0 1" result="m"/><feComposite in="SourceGraphic" in2="m" operator="arithmetic" k1="0" k2="1" k3="0.75" k4="-0.375" result="h"/><feComponentTransfer in="h" result="col"><feFuncR type="table" tableValues="0.20 0.38 0.62 0.83 0.93 0.98 0.99 0.97 0.94"/><feFuncG type="table" tableValues="0.02 0.06 0.14 0.27 0.43 0.62 0.78 0.86 0.91"/><feFuncB type="table" tableValues="0 0.01 0.03 0.06 0.10 0.16 0.26 0.45 0.78"/></feComponentTransfer><feGaussianBlur in="h" stdDeviation="1.8" result="hb"/><feColorMatrix in="hb" type="matrix" values="0 0 0 0 0  0 0 0 0 0  0 0 0 0 0  1 0 0 0 0" result="bump"/><feDiffuseLighting in="bump" surfaceScale="9" diffuseConstant="1.0" lighting-color="#fff" result="lit"><feDistantLight azimuth="250" elevation="45"/></feDiffuseLighting><feComposite in="col" in2="lit" operator="arithmetic" k1="0.9" k2="0.364" k3="0" k4="0"/></filter>
</defs>
<g clip-path="url(#ac1)"><g filter="url(#af1)"><rect x="1368.24" y="64.75" width="214.55" height="148.93" fill="#707070"/><ellipse cx="1445.33" cy="110.37" rx="22.16" ry="15.55" fill="#c8c8c8" opacity="0.9" filter="url(#abl)" transform="rotate(-30 1445.33 110.37)"/><ellipse cx="1512.06" cy="92.9" rx="12.31" ry="8.64" fill="#d4d4d4" opacity="0.9" filter="url(#abl)" transform="rotate(-30 1512.06 92.9)"/><ellipse cx="1508.88" cy="145.33" rx="27.09" ry="19.01" fill="#bbbbbb" opacity="0.9" filter="url(#abl)" transform="rotate(-30 1508.88 145.33)"/><ellipse cx="1453.27" cy="175.52" rx="19.7" ry="13.82" fill="#c8c8c8" opacity="0.9" filter="url(#abl)" transform="rotate(-30 1453.27 175.52)"/><ellipse cx="1426.26" cy="129.44" rx="14.78" ry="10.37" fill="#aeaeae" opacity="0.9" filter="url(#abl)" transform="rotate(-30 1426.26 129.44)"/><ellipse cx="1397.66" cy="124.67" rx="9.85" ry="6.91" fill="#a2a2a2" opacity="0.9" filter="url(#abl)" transform="rotate(-30 1397.66 124.67)"/><ellipse cx="1548.6" cy="140.56" rx="14.78" ry="10.37" fill="#a2a2a2" opacity="0.9" filter="url(#abl)" transform="rotate(-30 1548.6 140.56)"/><ellipse cx="1461.22" cy="116.73" rx="12.31" ry="8.64" fill="#bbbbbb" opacity="0.9" filter="url(#abl)" transform="rotate(-30 1461.22 116.73)"/><ellipse cx="1496.17" cy="108.79" rx="17.24" ry="12.09" fill="#0c0c0c" opacity="0.9" filter="url(#abl)" transform="rotate(-30 1496.17 108.79)"/><ellipse cx="1477.11" cy="159.63" rx="17.24" ry="12.09" fill="#252525" opacity="0.9" filter="url(#abl)" transform="rotate(-30 1477.11 159.63)"/><ellipse cx="1470.75" cy="202.53" rx="9.85" ry="6.91" fill="#0c0c0c" opacity="0.9" filter="url(#abl)" transform="rotate(-30 1470.75 202.53)"/><ellipse cx="1548.6" cy="121.5" rx="14.78" ry="10.37" fill="#323232" opacity="0.9" filter="url(#abl)" transform="rotate(-30 1548.6 121.5)"/><ellipse cx="1381.78" cy="142.15" rx="12.31" ry="8.64" fill="#3e3e3e" opacity="0.9" filter="url(#abl)" transform="rotate(-30 1381.78 142.15)"/><ellipse cx="1445.33" cy="145.33" rx="12.31" ry="8.64" fill="#323232" opacity="0.9" filter="url(#abl)" transform="rotate(-30 1445.33 145.33)"/><ellipse cx="1529.54" cy="172.34" rx="12.31" ry="8.64" fill="#3e3e3e" opacity="0.9" filter="url(#abl)" transform="rotate(-30 1529.54 172.34)"/><ellipse cx="1485.05" cy="89.72" rx="12.31" ry="8.64" fill="#323232" opacity="0.9" filter="url(#abl)" transform="rotate(-30 1485.05 89.72)"/><ellipse cx="1564.49" cy="135.8" rx="9.85" ry="6.91" fill="#4a4a4a" opacity="0.9" filter="url(#abl)" transform="rotate(-30 1564.49 135.8)"/><ellipse cx="1429.44" cy="161.22" rx="9.85" ry="6.91" fill="#3e3e3e" opacity="0.9" filter="url(#abl)" transform="rotate(-30 1429.44 161.22)"/></g></g>
<path d="M1370.65 143.42L1475.52 216.03L1581.17 143.74V132.62" stroke="#222" stroke-width="1.4" fill="none"/>
<path d="M1581.17 138.18h-2.5M1581.17 132.62h-2.5M1581.17 143.74h2.5M1370.65 143.42l-1.5 -1.5M1475.52 216.03v2" stroke="#222" stroke-width="1.4" fill="none"/>
<text transform="translate(1411.96 185.05) rotate(34.7)" font-size="12.9" text-anchor="middle" fill="#1a1a1a" font-family='"DejaVu Sans", "Liberation Sans", sans-serif' stroke="#1a1a1a" stroke-width="0.25">y: 5.0 µm</text>
<text transform="translate(1540.66 185.05) rotate(-34.5)" font-size="12.9" text-anchor="middle" fill="#1a1a1a" font-family='"DejaVu Sans", "Liberation Sans", sans-serif' stroke="#1a1a1a" stroke-width="0.25">x: 5.0 µm</text>
<text transform="translate(1646.31 138.66)" font-size="12.7" text-anchor="end" fill="#1a1a1a" font-family='"DejaVu Sans", "Liberation Sans", sans-serif' stroke="#1a1a1a" stroke-width="0.25">0.13 µm</text>
<text transform="translate(1646.31 152.48)" font-size="12.7" text-anchor="end" fill="#1a1a1a" font-family='"DejaVu Sans", "Liberation Sans", sans-serif' stroke="#1a1a1a" stroke-width="0.25">-0.11 µm</text>
<defs>
<clipPath id="ac2"><path d="M1669.6 132.62C1669.86 129.97 1674.37 127.06 1677.54 124.67C1680.72 122.29 1684.16 120.44 1688.66 118.32C1693.17 116.2 1699.26 114.35 1704.55 111.96C1709.85 109.58 1715.14 106.27 1720.44 104.02C1725.74 101.77 1733.15 102.17 1736.33 98.46C1739.51 94.75 1736.86 86.41 1739.51 81.78C1742.15 77.14 1747.98 74.1 1752.22 70.65C1756.45 67.21 1762.01 62.18 1764.93 61.12C1767.84 60.06 1767.84 61.39 1769.69 64.3C1771.55 67.21 1773.67 75.95 1776.05 78.6C1778.43 81.25 1780.02 79.66 1783.99 80.19C1787.97 80.72 1795.64 80.19 1799.88 81.78C1804.12 83.37 1807.03 87.34 1809.41 89.72C1811.8 92.1 1811.8 95.02 1814.18 96.08C1816.56 97.13 1820.8 94.49 1823.71 96.08C1826.63 97.66 1829.01 102.7 1831.66 105.61C1834.31 108.52 1836.95 112.49 1839.6 113.55C1842.25 114.61 1845.16 110.9 1847.55 111.96C1849.93 113.02 1852.05 116.47 1853.9 119.91C1855.75 123.35 1856.55 129.44 1858.67 132.62C1860.79 135.8 1863.96 136.86 1866.61 138.97C1869.26 141.09 1875.09 143.21 1874.56 145.33C1874.03 147.45 1867.94 149.04 1863.43 151.68C1858.93 154.33 1852.84 157.24 1847.55 161.22C1842.25 165.19 1836.95 171.01 1831.66 175.52C1826.36 180.02 1821.07 184.25 1815.77 188.23C1810.47 192.2 1805.18 196.17 1799.88 199.35C1794.59 202.53 1788.49 204.91 1783.99 207.29C1779.49 209.68 1775.78 213.38 1772.87 213.65C1769.96 213.91 1768.9 209.94 1766.52 208.88C1764.13 207.82 1760.96 208.62 1758.57 207.29C1756.19 205.97 1754.6 203.32 1752.22 200.94C1749.83 198.55 1746.92 194.05 1744.27 192.99C1741.62 191.93 1738.98 195.91 1736.33 194.58C1733.68 193.26 1731.56 189.02 1728.38 185.05C1725.21 181.08 1721.24 175.78 1717.26 170.75C1713.29 165.72 1708 156.98 1704.55 154.86C1701.11 152.74 1699.79 159.1 1696.61 158.04C1693.43 156.98 1688.93 151.42 1685.49 148.51C1682.04 145.59 1678.6 143.21 1675.95 140.56C1673.31 137.91 1669.33 135.27 1669.6 132.62Z"/></clipPath>
<filter id="af2" filterUnits="userSpaceOnUse" x="1665.6" y="57.12" width="212.96" height="160.53" color-interpolation-filters="sRGB"><feTurbulence type="fractalNoise" baseFrequency="0.05 0.07" numOctaves="2" seed="5" result="t"/><feColorMatrix in="t" type="matrix" values="1 0 0 0 0  1 0 0 0 0  1 0 0 0 0  0 0 0 0 1" result="m"/><feComposite in="SourceGraphic" in2="m" operator="arithmetic" k1="0" k2="1" k3="0.55" k4="-0.275" result="h"/><feComponentTransfer in="h" result="col"><feFuncR type="table" tableValues="0.20 0.38 0.62 0.83 0.93 0.98 0.99 0.97 0.94"/><feFuncG type="table" tableValues="0.02 0.06 0.14 0.27 0.43 0.62 0.78 0.86 0.91"/><feFuncB type="table" tableValues="0 0.01 0.03 0.06 0.10 0.16 0.26 0.45 0.78"/></feComponentTransfer><feGaussianBlur in="h" stdDeviation="1.8" result="hb"/><feColorMatrix in="hb" type="matrix" values="0 0 0 0 0  0 0 0 0 0  0 0 0 0 0  1 0 0 0 0" result="bump"/><feDiffuseLighting in="bump" surfaceScale="9" diffuseConstant="1.0" lighting-color="#fff" result="lit"><feDistantLight azimuth="250" elevation="45"/></feDiffuseLighting><feComposite in="col" in2="lit" operator="arithmetic" k1="0.9" k2="0.364" k3="0" k4="0"/></filter>
</defs>
<g clip-path="url(#ac2)"><g filter="url(#af2)"><rect x="1665.6" y="57.12" width="212.96" height="160.53" fill="#a0a0a0"/><ellipse cx="1744.27" cy="111.96" rx="19.7" ry="13.82" fill="#fefefe" opacity="0.9" filter="url(#abl)" transform="rotate(-30 1744.27 111.96)"/><ellipse cx="1788.76" cy="143.74" rx="19.7" ry="13.82" fill="#ffffff" opacity="0.9" filter="url(#abl)" transform="rotate(-30 1788.76 143.74)"/><ellipse cx="1766.52" cy="70.65" rx="12.31" ry="8.64" fill="#ebebeb" opacity="0.9" filter="url(#abl)" transform="rotate(-30 1766.52 70.65)"/><ellipse cx="1803.06" cy="96.08" rx="9.85" ry="6.91" fill="#f8f8f8" opacity="0.9" filter="url(#abl)" transform="rotate(-30 1803.06 96.08)"/><ellipse cx="1817.36" cy="146.92" rx="12.31" ry="8.64" fill="#ebebeb" opacity="0.9" filter="url(#abl)" transform="rotate(-30 1817.36 146.92)"/><ellipse cx="1729.97" cy="145.33" rx="9.85" ry="6.91" fill="#d2d2d2" opacity="0.9" filter="url(#abl)" transform="rotate(-30 1729.97 145.33)"/><ellipse cx="1752.22" cy="153.27" rx="12.31" ry="8.64" fill="#dedede" opacity="0.9" filter="url(#abl)" transform="rotate(-30 1752.22 153.27)"/><ellipse cx="1679.13" cy="129.44" rx="12.31" ry="8.64" fill="#c6c6c6" opacity="0.9" filter="url(#abl)" transform="rotate(-30 1679.13 129.44)"/><ellipse cx="1736.33" cy="183.46" rx="14.78" ry="10.37" fill="#3c3c3c" opacity="0.9" filter="url(#abl)" transform="rotate(-30 1736.33 183.46)"/><ellipse cx="1755.39" cy="199.35" rx="9.85" ry="6.91" fill="#484848" opacity="0.9" filter="url(#abl)" transform="rotate(-30 1755.39 199.35)"/><ellipse cx="1742.68" cy="132.62" rx="9.85" ry="6.91" fill="#555555" opacity="0.9" filter="url(#abl)" transform="rotate(-30 1742.68 132.62)"/><ellipse cx="1839.6" cy="132.62" rx="9.85" ry="6.91" fill="#626262" opacity="0.9" filter="url(#abl)" transform="rotate(-30 1839.6 132.62)"/><ellipse cx="1776.05" cy="102.43" rx="14.78" ry="10.37" fill="#6e6e6e" opacity="0.9" filter="url(#abl)" transform="rotate(-30 1776.05 102.43)"/><ellipse cx="1799.88" cy="121.5" rx="14.78" ry="10.37" fill="#7a7a7a" opacity="0.9" filter="url(#abl)" transform="rotate(-30 1799.88 121.5)"/><ellipse cx="1866.61" cy="143.74" rx="7.39" ry="5.18" fill="#626262" opacity="0.9" filter="url(#abl)" transform="rotate(-30 1866.61 143.74)"/><ellipse cx="1712.5" cy="164.39" rx="7.39" ry="5.18" fill="#6e6e6e" opacity="0.9" filter="url(#abl)" transform="rotate(-30 1712.5 164.39)"/><ellipse cx="1783.99" cy="192.99" rx="12.31" ry="8.64" fill="#7a7a7a" opacity="0.9" filter="url(#abl)" transform="rotate(-30 1783.99 192.99)"/></g></g>
<path d="M1667.22 150.89L1772.87 224.77L1878.53 150.89V119.91" stroke="#222" stroke-width="1.4" fill="none"/>
<path d="M1878.53 136.59h-2.5M1878.53 119.91h-2.5M1878.53 150.89h2.5M1667.22 150.89l-1.5 -1.5M1772.87 224.77v2" stroke="#222" stroke-width="1.4" fill="none"/>
<text transform="translate(1708.52 194.58) rotate(34.7)" font-size="12.9" text-anchor="middle" fill="#1a1a1a" font-family='"DejaVu Sans", "Liberation Sans", sans-serif' stroke="#1a1a1a" stroke-width="0.25">y: 5.0 µm</text>
<text transform="translate(1836.42 194.58) rotate(-34.5)" font-size="12.9" text-anchor="middle" fill="#1a1a1a" font-family='"DejaVu Sans", "Liberation Sans", sans-serif' stroke="#1a1a1a" stroke-width="0.25">x: 5.0 µm</text>
<text transform="translate(1942.87 127.85)" font-size="12.7" text-anchor="end" fill="#1a1a1a" font-family='"DejaVu Sans", "Liberation Sans", sans-serif' stroke="#1a1a1a" stroke-width="0.25">0.30 µm</text>
<text transform="translate(1942.87 160.42)" font-size="12.7" text-anchor="end" fill="#1a1a1a" font-family='"DejaVu Sans", "Liberation Sans", sans-serif' stroke="#1a1a1a" stroke-width="0.25">-0.43 µm</text>
<defs>
<clipPath id="ac3"><path d="M1373.04 460.89C1374.1 459.3 1377.67 457.31 1381.78 455.33C1385.88 453.34 1394.22 451.62 1397.66 448.97C1401.11 446.33 1399.78 441.56 1402.43 439.44C1405.08 437.32 1409.85 436.53 1413.55 436.26C1417.26 436 1420.97 439.97 1424.67 437.85C1428.38 435.73 1433.15 426.2 1435.8 423.55C1438.44 420.9 1438.97 420.9 1440.56 421.96C1442.15 423.02 1443.21 431.5 1445.33 429.91C1447.45 428.32 1450.62 417.99 1453.27 412.43C1455.92 406.87 1458.57 401.84 1461.22 396.54C1463.87 391.25 1466.51 383.83 1469.16 380.65C1471.81 377.48 1473.66 377.74 1477.11 377.48C1480.55 377.21 1486.64 376.68 1489.82 379.07C1492.99 381.45 1494.32 387.8 1496.17 391.78C1498.02 395.75 1498.82 398.66 1500.94 402.9C1503.06 407.13 1506.23 411.9 1508.88 417.2C1511.53 422.49 1514.18 431.23 1516.83 434.67C1519.47 438.12 1522.12 435.47 1524.77 437.85C1527.42 440.24 1530.07 445.53 1532.71 448.97C1535.36 452.42 1537.22 457.18 1540.66 458.51C1544.1 459.83 1549.66 455.86 1553.37 456.92C1557.08 457.98 1560.52 463.54 1562.9 464.86C1565.28 466.19 1565.15 461.82 1567.67 464.86C1570.18 467.91 1577.73 480.22 1577.99 483.13C1578.26 486.05 1571.77 483 1569.26 482.34C1566.74 481.68 1565.55 477.31 1562.9 479.16C1560.25 481.01 1556.02 490.81 1553.37 493.46C1550.72 496.11 1550.46 493.99 1547.01 495.05C1543.57 496.11 1537.74 497.96 1532.71 499.82C1527.68 501.67 1521.33 504.85 1516.83 506.17C1512.32 507.49 1509.68 504.32 1505.7 507.76C1501.73 511.2 1496.44 521 1492.99 526.83C1489.55 532.65 1487.7 537.02 1485.05 542.71C1482.4 548.41 1479.49 558.6 1477.11 560.99C1474.72 563.37 1472.87 559.53 1470.75 557.01C1468.63 554.5 1467.31 549.07 1464.39 545.89C1461.48 542.71 1457.51 540.33 1453.27 537.95C1449.04 535.56 1442.42 535.83 1438.97 531.59C1435.53 527.36 1434.74 517.82 1432.62 512.53C1430.5 507.23 1428.91 501.4 1426.26 499.82C1423.62 498.23 1419.38 503.26 1416.73 502.99C1414.08 502.73 1412.49 501.4 1410.37 498.23C1408.26 495.05 1406.67 486.31 1404.02 483.93C1401.37 481.54 1398.19 485.52 1394.49 483.93C1390.78 482.34 1384.95 477.57 1381.78 474.39C1378.6 471.22 1376.88 467.11 1375.42 464.86C1373.96 462.61 1371.98 462.48 1373.04 460.89Z"/></clipPath>
<filter id="af3" filterUnits="userSpaceOnUse" x="1369.04" y="373.48" width="212.96" height="191.51" color-interpolation-filters="sRGB"><feTurbulence type="fractalNoise" baseFrequency="0.04 0.06" numOctaves="2" seed="8" result="t"/><feColorMatrix in="t" type="matrix" values="1 0 0 0 0  1 0 0 0 0  1 0 0 0 0  0 0 0 0 1" result="m"/><feComposite in="SourceGraphic" in2="m" operator="arithmetic" k1="0" k2="1" k3="0.4" k4="-0.200" result="h"/><feComponentTransfer in="h" result="col"><feFuncR type="table" tableValues="0.20 0.38 0.62 0.83 0.93 0.98 0.99 0.97 0.94"/><feFuncG type="table" tableValues="0.02 0.06 0.14 0.27 0.43 0.62 0.78 0.86 0.91"/><feFuncB type="table" tableValues="0 0.01 0.03 0.06 0.10 0.16 0.26 0.45 0.78"/></feComponentTransfer><feGaussianBlur in="h" stdDeviation="1.8" result="hb"/><feColorMatrix in="hb" type="matrix" values="0 0 0 0 0  0 0 0 0 0  0 0 0 0 0  1 0 0 0 0" result="bump"/><feDiffuseLighting in="bump" surfaceScale="9" diffuseConstant="1.0" lighting-color="#fff" result="lit"><feDistantLight azimuth="250" elevation="45"/></feDiffuseLighting><feComposite in="col" in2="lit" operator="arithmetic" k1="0.9" k2="0.364" k3="0" k4="0"/></filter>
</defs>
<g clip-path="url(#ac3)"><g filter="url(#af3)"><rect x="1369.04" y="373.48" width="212.96" height="191.51" fill="#acacac"/><ellipse cx="1486.64" cy="388.6" rx="14.78" ry="20.73" fill="#ffffff" opacity="0.9" filter="url(#abl)"/><ellipse cx="1500.94" cy="423.55" rx="12.31" ry="8.64" fill="#ffffff" opacity="0.9" filter="url(#abl)" transform="rotate(-30 1500.94 423.55)"/><ellipse cx="1518.41" cy="442.62" rx="14.78" ry="10.37" fill="#ffffff" opacity="0.9" filter="url(#abl)" transform="rotate(-30 1518.41 442.62)"/><ellipse cx="1416.73" cy="453.74" rx="12.31" ry="8.64" fill="#ffffff" opacity="0.9" filter="url(#abl)" transform="rotate(-30 1416.73 453.74)"/><ellipse cx="1435.8" cy="466.45" rx="12.31" ry="8.64" fill="#f7f7f7" opacity="0.9" filter="url(#abl)" transform="rotate(-30 1435.8 466.45)"/><ellipse cx="1475.52" cy="482.34" rx="12.31" ry="8.64" fill="#ffffff" opacity="0.9" filter="url(#abl)" transform="rotate(-30 1475.52 482.34)"/><ellipse cx="1532.71" cy="471.22" rx="19.7" ry="13.82" fill="#d2d2d2" opacity="0.9" filter="url(#abl)" transform="rotate(-30 1532.71 471.22)"/><ellipse cx="1397.66" cy="468.04" rx="14.78" ry="10.37" fill="#d2d2d2" opacity="0.9" filter="url(#abl)" transform="rotate(-30 1397.66 468.04)"/><ellipse cx="1492.99" cy="502.99" rx="14.78" ry="10.37" fill="#d2d2d2" opacity="0.9" filter="url(#abl)" transform="rotate(-30 1492.99 502.99)"/><ellipse cx="1448.51" cy="448.97" rx="22.16" ry="15.55" fill="#545454" opacity="0.9" filter="url(#abl)" transform="rotate(-30 1448.51 448.97)"/><ellipse cx="1470.75" cy="420.37" rx="12.31" ry="18.43" fill="#545454" opacity="0.9" filter="url(#abl)" transform="rotate(20 1470.75 420.37)"/><ellipse cx="1473.93" cy="550.66" rx="12.31" ry="8.64" fill="#3c3c3c" opacity="0.9" filter="url(#abl)" transform="rotate(-30 1473.93 550.66)"/><ellipse cx="1438.97" cy="518.88" rx="12.31" ry="8.64" fill="#616161" opacity="0.9" filter="url(#abl)" transform="rotate(-30 1438.97 518.88)"/><ellipse cx="1572.43" cy="479.16" rx="7.39" ry="5.18" fill="#3c3c3c" opacity="0.9" filter="url(#abl)" transform="rotate(-30 1572.43 479.16)"/><ellipse cx="1461.22" cy="502.99" rx="9.85" ry="6.91" fill="#7a7a7a" opacity="0.9" filter="url(#abl)" transform="rotate(-30 1461.22 502.99)"/><ellipse cx="1453.27" cy="531.59" rx="9.85" ry="6.91" fill="#616161" opacity="0.9" filter="url(#abl)" transform="rotate(-30 1453.27 531.59)"/></g></g>
<path d="M1370.65 499.5L1476.31 572.9L1581.17 499.82V441.35" stroke="#222" stroke-width="1.4" fill="none"/>
<path d="M1581.17 470.42h-2.5M1581.17 441.35h-2.5M1581.17 499.82h2.5M1370.65 499.5l-1.5 -1.5M1476.31 572.9v2" stroke="#222" stroke-width="1.4" fill="none"/>
<text transform="translate(1411.17 544.3) rotate(34.7)" font-size="12.9" text-anchor="middle" fill="#1a1a1a" font-family='"DejaVu Sans", "Liberation Sans", sans-serif' stroke="#1a1a1a" stroke-width="0.25">y: 5.0 µm</text>
<text transform="translate(1539.86 543.51) rotate(-34.5)" font-size="12.9" text-anchor="middle" fill="#1a1a1a" font-family='"DejaVu Sans", "Liberation Sans", sans-serif' stroke="#1a1a1a" stroke-width="0.25">x: 5.0 µm</text>
<text transform="translate(1639.16 447.38)" font-size="12.7" text-anchor="end" fill="#1a1a1a" font-family='"DejaVu Sans", "Liberation Sans", sans-serif' stroke="#1a1a1a" stroke-width="0.25">0.6 µm</text>
<text transform="translate(1639.16 509.35)" font-size="12.7" text-anchor="end" fill="#1a1a1a" font-family='"DejaVu Sans", "Liberation Sans", sans-serif' stroke="#1a1a1a" stroke-width="0.25">-0.8 µm</text>
<defs>
<clipPath id="ac4"><path d="M1669.6 470.42C1670.39 468.3 1676.22 466.58 1680.72 463.27C1685.22 459.96 1692.11 452.42 1696.61 450.56C1701.11 448.71 1704.29 452.95 1707.73 452.15C1711.17 451.36 1713.82 448.44 1717.26 445.8C1720.71 443.15 1724.68 439.97 1728.38 436.26C1732.09 432.56 1736.06 428.05 1739.51 423.55C1742.95 419.05 1745.6 412.7 1749.04 409.25C1752.48 405.81 1756.98 403.82 1760.16 402.9C1763.34 401.97 1764.93 403.82 1768.11 403.69C1771.28 403.56 1776.58 401.44 1779.23 402.1C1781.87 402.77 1781.87 406.21 1783.99 407.66C1786.11 409.12 1789.29 409.78 1791.94 410.84C1794.59 411.9 1797.23 412.17 1799.88 414.02C1802.53 415.87 1805.71 419.32 1807.83 421.96C1809.94 424.61 1809.94 427 1812.59 429.91C1815.24 432.82 1820.54 436.53 1823.71 439.44C1826.89 442.35 1829.01 445.53 1831.66 447.38C1834.31 449.24 1836.95 448.71 1839.6 450.56C1842.25 452.42 1844.1 456.65 1847.55 458.51C1850.99 460.36 1857.08 460.89 1860.26 461.68C1863.43 462.48 1864.23 461.95 1866.61 463.27C1868.99 464.6 1874.56 467.24 1874.56 469.63C1874.56 472.01 1868.99 474.66 1866.61 477.57C1864.23 480.49 1863.43 483.13 1860.26 487.11C1857.08 491.08 1851.78 498.49 1847.55 501.4C1843.31 504.32 1838.81 502.99 1834.84 504.58C1830.86 506.17 1828.22 509.08 1823.71 510.94C1819.21 512.79 1811.8 513.32 1807.83 515.7C1803.85 518.09 1802.53 521.79 1799.88 525.24C1797.23 528.68 1794.59 533.84 1791.94 536.36C1789.29 538.87 1786.64 540.6 1783.99 540.33C1781.35 540.07 1778.7 536.49 1776.05 534.77C1773.4 533.05 1770.49 530.27 1768.11 530C1765.72 529.74 1764.4 533.71 1761.75 533.18C1759.1 532.65 1755.39 527.62 1752.22 526.83C1749.04 526.03 1745.33 529.74 1742.68 528.41C1740.04 527.09 1738.98 521.53 1736.33 518.88C1733.68 516.23 1729.97 515.17 1726.8 512.53C1723.62 509.88 1720.44 505.11 1717.26 502.99C1714.09 500.87 1711.17 501.67 1707.73 499.82C1704.29 497.96 1700.32 494.52 1696.61 491.87C1692.9 489.22 1688.93 486.58 1685.49 483.93C1682.04 481.28 1678.6 478.23 1675.95 475.98C1673.31 473.73 1668.8 472.54 1669.6 470.42Z"/></clipPath>
<filter id="af4" filterUnits="userSpaceOnUse" x="1665.6" y="398.1" width="212.96" height="146.23" color-interpolation-filters="sRGB"><feTurbulence type="fractalNoise" baseFrequency="0.07 0.09" numOctaves="3" seed="11" result="t"/><feColorMatrix in="t" type="matrix" values="1 0 0 0 0  1 0 0 0 0  1 0 0 0 0  0 0 0 0 1" result="m"/><feComposite in="SourceGraphic" in2="m" operator="arithmetic" k1="0" k2="1" k3="0.7" k4="-0.350" result="h"/><feComponentTransfer in="h" result="col"><feFuncR type="table" tableValues="0.20 0.38 0.62 0.83 0.93 0.98 0.99 0.97 0.94"/><feFuncG type="table" tableValues="0.02 0.06 0.14 0.27 0.43 0.62 0.78 0.86 0.91"/><feFuncB type="table" tableValues="0 0.01 0.03 0.06 0.10 0.16 0.26 0.45 0.78"/></feComponentTransfer><feGaussianBlur in="h" stdDeviation="1.2" result="hb"/><feColorMatrix in="hb" type="matrix" values="0 0 0 0 0  0 0 0 0 0  0 0 0 0 0  1 0 0 0 0" result="bump"/><feDiffuseLighting in="bump" surfaceScale="9" diffuseConstant="1.0" lighting-color="#fff" result="lit"><feDistantLight azimuth="250" elevation="45"/></feDiffuseLighting><feComposite in="col" in2="lit" operator="arithmetic" k1="0.9" k2="0.364" k3="0" k4="0"/></filter>
</defs>
<g clip-path="url(#ac4)"><g filter="url(#af4)"><rect x="1665.6" y="398.1" width="212.96" height="146.23" fill="#8e8e8e"/><ellipse cx="1783.99" cy="452.15" rx="22.16" ry="15.55" fill="#d3d3d3" opacity="0.9" filter="url(#abl)" transform="rotate(-30 1783.99 452.15)"/><ellipse cx="1831.66" cy="463.27" rx="22.16" ry="15.55" fill="#cccccc" opacity="0.9" filter="url(#abl)" transform="rotate(-30 1831.66 463.27)"/><ellipse cx="1696.61" cy="463.27" rx="14.78" ry="10.37" fill="#cccccc" opacity="0.9" filter="url(#abl)" transform="rotate(-30 1696.61 463.27)"/><ellipse cx="1726.8" cy="466.45" rx="12.31" ry="8.64" fill="#d9d9d9" opacity="0.9" filter="url(#abl)" transform="rotate(-30 1726.8 466.45)"/><ellipse cx="1768.11" cy="469.63" rx="14.78" ry="10.37" fill="#cccccc" opacity="0.9" filter="url(#abl)" transform="rotate(-30 1768.11 469.63)"/><ellipse cx="1760.16" cy="502.99" rx="17.24" ry="12.09" fill="#cccccc" opacity="0.9" filter="url(#abl)" transform="rotate(-30 1760.16 502.99)"/><ellipse cx="1807.83" cy="501.4" rx="19.7" ry="13.82" fill="#c0c0c0" opacity="0.9" filter="url(#abl)" transform="rotate(-30 1807.83 501.4)"/><ellipse cx="1764.93" cy="414.02" rx="9.85" ry="6.91" fill="#cccccc" opacity="0.9" filter="url(#abl)" transform="rotate(-30 1764.93 414.02)"/><ellipse cx="1787.17" cy="414.02" rx="9.85" ry="6.91" fill="#cccccc" opacity="0.9" filter="url(#abl)" transform="rotate(-30 1787.17 414.02)"/><ellipse cx="1863.43" cy="468.04" rx="12.31" ry="8.64" fill="#c0c0c0" opacity="0.9" filter="url(#abl)" transform="rotate(-30 1863.43 468.04)"/><ellipse cx="1744.27" cy="442.62" rx="19.7" ry="13.82" fill="#363636" opacity="0.9" filter="url(#abl)" transform="rotate(-30 1744.27 442.62)"/><ellipse cx="1752.22" cy="463.27" rx="9.85" ry="6.91" fill="#1e1e1e" opacity="0.9" filter="url(#abl)" transform="rotate(-30 1752.22 463.27)"/><ellipse cx="1783.99" cy="526.83" rx="12.31" ry="8.64" fill="#2a2a2a" opacity="0.9" filter="url(#abl)" transform="rotate(-30 1783.99 526.83)"/><ellipse cx="1799.88" cy="482.34" rx="12.31" ry="8.64" fill="#363636" opacity="0.9" filter="url(#abl)" transform="rotate(-30 1799.88 482.34)"/><ellipse cx="1745.86" cy="517.29" rx="9.85" ry="6.91" fill="#434343" opacity="0.9" filter="url(#abl)" transform="rotate(-30 1745.86 517.29)"/><ellipse cx="1815.77" cy="434.67" rx="12.31" ry="8.64" fill="#505050" opacity="0.9" filter="url(#abl)" transform="rotate(-30 1815.77 434.67)"/><ellipse cx="1844.37" cy="491.87" rx="9.85" ry="6.91" fill="#505050" opacity="0.9" filter="url(#abl)" transform="rotate(-30 1844.37 491.87)"/></g></g>
<path d="M1667.22 485.52L1772.87 558.6L1878.53 485.52V460.89" stroke="#222" stroke-width="1.4" fill="none"/>
<path d="M1878.53 473.6h-2.5M1878.53 460.89h-2.5M1878.53 485.52h2.5M1667.22 485.52l-1.5 -1.5M1772.87 558.6v2" stroke="#222" stroke-width="1.4" fill="none"/>
<text transform="translate(1708.52 530.8) rotate(34.7)" font-size="12.9" text-anchor="middle" fill="#1a1a1a" font-family='"DejaVu Sans", "Liberation Sans", sans-serif' stroke="#1a1a1a" stroke-width="0.25">y: 5.0 µm</text>
<text transform="translate(1836.42 530.8) rotate(-34.5)" font-size="12.9" text-anchor="middle" fill="#1a1a1a" font-family='"DejaVu Sans", "Liberation Sans", sans-serif' stroke="#1a1a1a" stroke-width="0.25">x: 5.0 µm</text>
<text transform="translate(1942.87 468.83)" font-size="12.7" text-anchor="end" fill="#1a1a1a" font-family='"DejaVu Sans", "Liberation Sans", sans-serif' stroke="#1a1a1a" stroke-width="0.25">0.29 µm</text>
<text transform="translate(1942.87 495.84)" font-size="12.7" text-anchor="end" fill="#1a1a1a" font-family='"DejaVu Sans", "Liberation Sans", sans-serif' stroke="#1a1a1a" stroke-width="0.25">-0.28 µm</text>
</g>
<g id="chart-c">
<rect x="125" y="741.5" width="479.8" height="386.45" fill="none" stroke="#000" stroke-width="2.1"/>
<path d="M117 741.5L125 741.5" stroke="#000" stroke-width="2.1"/>
<text transform="translate(111.6 749.4) scale(0.9450 1)" font-size="27" font-weight="bold" stroke="#000" stroke-width="0.5" stroke-linejoin="round" text-anchor="end">120</text>
<path d="M120.9 773.7L125 773.7" stroke="#000" stroke-width="2.1"/>
<path d="M117 805.91L125 805.91" stroke="#000" stroke-width="2.1"/>
<text transform="translate(111.6 813.81) scale(0.9450 1)" font-size="27" font-weight="bold" stroke="#000" stroke-width="0.5" stroke-linejoin="round" text-anchor="end">100</text>
<path d="M120.9 838.11L125 838.11" stroke="#000" stroke-width="2.1"/>
<path d="M117 870.32L125 870.32" stroke="#000" stroke-width="2.1"/>
<text transform="translate(111.6 878.22) scale(0.9450 1)" font-size="27" font-weight="bold" stroke="#000" stroke-width="0.5" stroke-linejoin="round" text-anchor="end">80</text>
<path d="M120.9 902.52L125 902.52" stroke="#000" stroke-width="2.1"/>
<path d="M117 934.73L125 934.73" stroke="#000" stroke-width="2.1"/>
<text transform="translate(111.6 942.62) scale(0.9450 1)" font-size="27" font-weight="bold" stroke="#000" stroke-width="0.5" stroke-linejoin="round" text-anchor="end">60</text>
<path d="M120.9 966.93L125 966.93" stroke="#000" stroke-width="2.1"/>
<path d="M117 999.13L125 999.13" stroke="#000" stroke-width="2.1"/>
<text transform="translate(111.6 1007.03) scale(0.9450 1)" font-size="27" font-weight="bold" stroke="#000" stroke-width="0.5" stroke-linejoin="round" text-anchor="end">40</text>
<path d="M120.9 1031.34L125 1031.34" stroke="#000" stroke-width="2.1"/>
<path d="M117 1063.54L125 1063.54" stroke="#000" stroke-width="2.1"/>
<text transform="translate(111.6 1071.44) scale(0.9450 1)" font-size="27" font-weight="bold" stroke="#000" stroke-width="0.5" stroke-linejoin="round" text-anchor="end">20</text>
<path d="M120.9 1095.75L125 1095.75" stroke="#000" stroke-width="2.1"/>
<path d="M117 1127.95L125 1127.95" stroke="#000" stroke-width="2.1"/>
<text transform="translate(111.6 1135.85) scale(0.9450 1)" font-size="27" font-weight="bold" stroke="#000" stroke-width="0.5" stroke-linejoin="round" text-anchor="end">0</text>
<text transform="translate(57.8 935.4) rotate(-90) scale(1.0400 1)" font-size="30.8" font-weight="bold" stroke="#000" stroke-width="0.5" stroke-linejoin="round" text-anchor="middle">Contact angle (degrees)</text>
<rect x="137.8" y="747.2" width="42.9" height="20.6" fill="none" stroke="#A9DDF6" stroke-width="2"/>
<text transform="translate(187 764.45) scale(0.9970 1)" font-size="20" font-weight="bold" stroke="#000" stroke-width="0.5" stroke-linejoin="round">Ti</text>
<rect x="137.8" y="772.05" width="42.9" height="20.6" fill="none" stroke="#EE4F80" stroke-width="2"/>
<text transform="translate(187 789.3) scale(0.9970 1)" font-size="20" font-weight="bold" stroke="#000" stroke-width="0.5" stroke-linejoin="round">MT</text>
<rect x="137.8" y="796.9" width="42.9" height="20.6" fill="none" stroke="#5CBDB0" stroke-width="2"/>
<text transform="translate(187 814.15) scale(0.9970 1)" font-size="20" font-weight="bold" stroke="#000" stroke-width="0.5" stroke-linejoin="round">BPTES@MNT</text>
<rect x="137.8" y="821.75" width="42.9" height="20.6" fill="none" stroke="#FFE57A" stroke-width="2"/>
<text transform="translate(187 839) scale(0.9970 1)" font-size="20" font-weight="bold" stroke="#000" stroke-width="0.5" stroke-linejoin="round">BPTES@MNT/PGA</text>
<path d="M185.3 877.5V872.3H544.3V877.5" stroke="#000" stroke-width="1.9" fill="none"/>
<path d="M185.3 899.5V894.3H419V899.5" stroke="#000" stroke-width="1.9" fill="none"/>
<path d="M430.2 899.5V894.3H544.3V899.5" stroke="#000" stroke-width="1.9" fill="none"/>
<path d="M185.3 921.2V916H299.4V921.2" stroke="#000" stroke-width="1.9" fill="none"/>
<path d="M310.5 921.2V916H424.6V921.2" stroke="#000" stroke-width="1.9" fill="none"/>
<text transform="translate(365 880.1) scale(0.9900 1)" font-size="32" font-weight="bold" stroke="#000" stroke-width="0.2" stroke-linejoin="round" text-anchor="middle">***</text>
<text transform="translate(305.3 902.1) scale(0.9900 1)" font-size="32" font-weight="bold" stroke="#000" stroke-width="0.2" stroke-linejoin="round" text-anchor="middle">**</text>
<text transform="translate(485.1 901.6) scale(0.9900 1)" font-size="32" font-weight="bold" stroke="#000" stroke-width="0.2" stroke-linejoin="round" text-anchor="middle">***</text>
<text transform="translate(245.7 923.6) scale(0.9900 1)" font-size="32" font-weight="bold" stroke="#000" stroke-width="0.2" stroke-linejoin="round" text-anchor="middle">***</text>
<text transform="translate(365 923.6) scale(0.9900 1)" font-size="32" font-weight="bold" stroke="#000" stroke-width="0.2" stroke-linejoin="round" text-anchor="middle">***</text>
<path d="M156.2 1127.15V962.9H213.5V1127.15" stroke="#A9DDF6" stroke-width="2.0" fill="none"/>
<path d="M276 1127.15V1086.9H333.3V1127.15" stroke="#EE4F80" stroke-width="2.0" fill="none"/>
<path d="M395.7 1127.15V1002.3H453V1127.15" stroke="#5CBDB0" stroke-width="2.0" fill="none"/>
<path d="M515.5 1127.15V1081.9H572.8V1127.15" stroke="#FFE57A" stroke-width="2.0" fill="none"/>
<path d="M169.7 957.5H200M185 957.5V962.8" stroke="#A9DDF6" stroke-width="1.9" fill="none"/>
<path d="M290 1073.9H319.7M305.3 1073.9V1086.8" stroke="#EE4F80" stroke-width="1.9" fill="none"/>
<path d="M409.2 994.7H440M424.6 994.7V1002.3" stroke="#5CBDB0" stroke-width="1.9" fill="none"/>
<path d="M529.3 1071.7H559.7M544.8 1071.7V1081.8" stroke="#FFE57A" stroke-width="1.9" fill="none"/>
<path d="M179.6 953.6L185.2 959.2L179.6 964.8L174 959.2Z" fill="#A9DDF6"/>
<path d="M182.6 955.2L188.2 960.8L182.6 966.4L177 960.8Z" fill="#A9DDF6"/>
<path d="M178.4 963.8L184 969.4L178.4 975L172.8 969.4Z" fill="#A9DDF6"/>
<path d="M295.7 1068.4L301.3 1074L295.7 1079.6L290.1 1074Z" fill="#EE4F80"/>
<path d="M305.8 1081.3L311.4 1086.9L305.8 1092.5L300.2 1086.9Z" fill="#EE4F80"/>
<path d="M311.7 1094.8L317.3 1100.4L311.7 1106L306.1 1100.4Z" fill="#EE4F80"/>
<path d="M423 988.3L428.6 993.9L423 999.5L417.4 993.9Z" fill="#5CBDB0"/>
<path d="M417.6 998.9L423.2 1004.5L417.6 1010.1L412 1004.5Z" fill="#5CBDB0"/>
<path d="M424.4 1001.8L430 1007.4L424.4 1013L418.8 1007.4Z" fill="#5CBDB0"/>
<path d="M537.7 1067.3L543.3 1072.9L537.7 1078.5L532.1 1072.9Z" fill="#FFE57A"/>
<path d="M533.5 1074.5L539.1 1080.1L533.5 1085.7L527.9 1080.1Z" fill="#FFE57A"/>
<path d="M548.2 1087.6L553.8 1093.2L548.2 1098.8L542.6 1093.2Z" fill="#FFE57A"/>
<rect x="152.2" y="938.6" width="63.8" height="7.1" fill="url(#dropg)"/><path d="M171.65 939.6C173.65 930.1 193.35 930.1 195.35 939.6Z" fill="#1b1b1b"/>
<ellipse cx="183.6" cy="935.3" rx="1.6" ry="1.2" fill="#d8d8d8"/>
<rect x="271.8" y="1053" width="64.1" height="6.8" fill="url(#dropg)"/><path d="M291.5 1054C293.5 1047.88 315.5 1047.88 317.5 1054Z" fill="#1b1b1b"/>
<rect x="390.9" y="974.4" width="65.1" height="7.6" fill="url(#dropg)"/><path d="M411.15 975.4C413.15 967.27 432.85 967.27 434.85 975.4Z" fill="#1b1b1b"/>
<rect x="511.8" y="1048.8" width="64.3" height="9.4" fill="url(#dropg)"/><path d="M529.5 1049.8C531.5 1044.67 556.5 1044.67 558.5 1049.8Z" fill="#1b1b1b"/>
<path d="M117 1127.95L605.85 1127.95" stroke="#000" stroke-width="2.1"/>
</g>
<g id="chart-d">
<path d="M757 1036.82L763 1033.48L769 1042.21L774.99 1031.5L780.99 1039.51L786.99 1036.07L792.99 1030.11L798.98 1037.72L804.98 1028.72L810.98 1035.26L816.98 1028.04L822.97 1027.67L828.97 1032.86L834.97 1039.2L840.97 1025.56L846.96 1026.27L852.96 1032.38L858.96 1036.88L864.96 1028.85L870.95 1024.14L876.95 1033.02L882.95 1014.64L888.94 1027.49L894.94 1015.38L900.94 1016.88L906.94 1014.37L912.93 1014.2L918.93 1017.49L924.93 1006.56L930.93 1007.36L936.92 1003.06L942.92 993.57L948.92 987.72L954.92 971.9L960.91 959.44L966.91 946.09L972.91 933.9L978.91 910.31L984.9 886.15L990.9 865.13L996.9 838.86L1002.9 813.31L1008.89 798.07L1014.89 779.81L1020.89 762.5L1026.89 760.38L1032.88 758.93L1038.88 766.15L1044.88 769.94L1050.88 772.47L1056.88 792.3L1062.87 799.47L1068.87 827.28L1074.87 859.46L1080.87 879.97L1086.86 908.37L1092.86 922.8L1098.86 946.08L1104.86 959.94L1110.85 968.34L1116.85 981.32L1122.85 982.95L1128.85 995.13L1134.84 1000.87L1140.84 1007.05L1146.84 1011.37L1152.84 1021.27L1158.83 1027.31L1164.83 1025.97L1170.83 1032.08L1176.83 1028.22L1182.82 1038.86L1188.82 1040.77L1194.82 1047.13L1200.82 1046.95L1206.81 1042.1L1212.81 1044.67L1218.81 1049.2L1224.8 1042.41L1230.8 1048.5L1236.8 1045.67" stroke="#BDBDBD" stroke-width="0.8" fill="none"/>
<path d="M757 1049.61L759 1049.62L761 1049.63L763 1049.64L765 1049.65L767 1049.66L769 1049.66L770.99 1049.67L772.99 1049.68L774.99 1049.69L776.99 1049.7L778.99 1049.71L780.99 1049.72L782.99 1049.73L784.99 1049.74L786.99 1049.75L788.99 1049.75L790.99 1049.76L792.99 1049.77L794.98 1049.78L796.98 1049.79L798.98 1049.8L800.98 1049.81L802.98 1049.82L804.98 1049.83L806.98 1049.84L808.98 1049.85L810.98 1049.86L812.98 1049.87L814.98 1049.88L816.98 1049.89L818.97 1049.9L820.97 1049.91L822.97 1049.92L824.97 1049.93L826.97 1049.94L828.97 1049.95L830.97 1049.96L832.97 1049.97L834.97 1049.98L836.97 1050L838.97 1050.01L840.97 1050.02L842.96 1050.03L844.96 1050.04L846.96 1050.05L848.96 1050.07L850.96 1050.08L852.96 1050.09L854.96 1050.1L856.96 1050.12L858.96 1050.13L860.96 1050.14L862.96 1050.16L864.95 1050.17L866.95 1050.19L868.95 1050.2L870.95 1050.22L872.95 1050.23L874.95 1050.25L876.95 1050.26L878.95 1050.28L880.95 1050.29L882.95 1050.31L884.95 1050.33L886.95 1050.35L888.94 1050.36L890.94 1050.38L892.94 1050.4L894.94 1050.42L896.94 1050.44L898.94 1050.46L900.94 1050.48L902.94 1050.5L904.94 1050.52L906.94 1050.55L908.94 1050.57L910.94 1050.59L912.93 1050.62L914.93 1050.64L916.93 1050.67L918.93 1050.69L920.93 1050.72L922.93 1050.75L924.93 1050.78L926.93 1050.8L928.93 1050.83L930.93 1050.87L932.93 1050.9L934.93 1050.93L936.92 1050.96L938.92 1051L940.92 1051.03L942.92 1051.07L944.92 1051.11L946.92 1051.15L948.92 1051.18L950.92 1051.23L952.92 1051.27L954.92 1051.31L956.92 1051.35L958.92 1051.4L960.91 1051.45L962.91 1051.49L964.91 1051.54L966.91 1051.59L968.91 1051.64L970.91 1051.7L972.91 1051.75L974.91 1051.81L976.91 1051.86L978.91 1051.92L980.91 1051.98L982.91 1052.04L984.9 1052.1L986.9 1052.17L988.9 1052.23L990.9 1052.3L992.9 1052.36L994.9 1052.43L996.9 1052.5L998.9 1052.57L1000.9 1052.64L1002.9 1052.72L1004.9 1052.79L1006.9 1052.87L1008.89 1052.94L1010.89 1053.02L1012.89 1053.1L1014.89 1053.18L1016.89 1053.26L1018.89 1053.34L1020.89 1053.42L1022.89 1053.51L1024.89 1053.59L1026.89 1053.67L1028.89 1053.76L1030.89 1053.84L1032.88 1053.93L1034.88 1054.01L1036.88 1054.1L1038.88 1054.18L1040.88 1054.27L1042.88 1054.36L1044.88 1054.44L1046.88 1054.53L1048.88 1054.61L1050.88 1054.7L1052.88 1054.78L1054.88 1054.86L1056.88 1054.95L1058.87 1055.03L1060.87 1055.11L1062.87 1055.19L1064.87 1055.27L1066.87 1055.35L1068.87 1055.43L1070.87 1055.51L1072.87 1055.59L1074.87 1055.66L1076.87 1055.74L1078.87 1055.81L1080.87 1055.88L1082.86 1055.95L1084.86 1056.02L1086.86 1056.09L1088.86 1056.16L1090.86 1056.23L1092.86 1056.29L1094.86 1056.35L1096.86 1056.42L1098.86 1056.48L1100.86 1056.54L1102.86 1056.6L1104.86 1056.65L1106.85 1056.71L1108.85 1056.76L1110.85 1056.81L1112.85 1056.87L1114.85 1056.92L1116.85 1056.97L1118.85 1057.01L1120.85 1057.06L1122.85 1057.1L1124.85 1057.15L1126.85 1057.19L1128.85 1057.23L1130.84 1057.27L1132.84 1057.31L1134.84 1057.35L1136.84 1057.39L1138.84 1057.43L1140.84 1057.46L1142.84 1057.5L1144.84 1057.53L1146.84 1057.56L1148.84 1057.59L1150.84 1057.63L1152.84 1057.66L1154.83 1057.69L1156.83 1057.71L1158.83 1057.74L1160.83 1057.77L1162.83 1057.79L1164.83 1057.82L1166.83 1057.84L1168.83 1057.87L1170.83 1057.89L1172.83 1057.92L1174.83 1057.94L1176.82 1057.96L1178.82 1057.98L1180.82 1058L1182.82 1058.02L1184.82 1058.04L1186.82 1058.06L1188.82 1058.08L1190.82 1058.1L1192.82 1058.12L1194.82 1058.13L1196.82 1058.15L1198.82 1058.17L1200.82 1058.18L1202.81 1058.2L1204.81 1058.22L1206.81 1058.23L1208.81 1058.25L1210.81 1058.26L1212.81 1058.28L1214.81 1058.29L1216.81 1058.3L1218.81 1058.32L1220.81 1058.33L1222.81 1058.34L1224.8 1058.36L1226.8 1058.37L1228.8 1058.38L1230.8 1058.4L1232.8 1058.41L1234.8 1058.42L1236.8 1058.43" stroke="#1C8FD3" stroke-width="2" fill="none"/>
<path d="M757 1047.04L759 1046.99L761 1046.93L763 1046.87L765 1046.8L767 1046.74L769 1046.67L770.99 1046.6L772.99 1046.52L774.99 1046.44L776.99 1046.36L778.99 1046.27L780.99 1046.18L782.99 1046.08L784.99 1045.98L786.99 1045.88L788.99 1045.77L790.99 1045.66L792.99 1045.54L794.98 1045.41L796.98 1045.28L798.98 1045.15L800.98 1045.01L802.98 1044.86L804.98 1044.71L806.98 1044.55L808.98 1044.38L810.98 1044.21L812.98 1044.03L814.98 1043.85L816.98 1043.65L818.97 1043.45L820.97 1043.24L822.97 1043.03L824.97 1042.81L826.97 1042.57L828.97 1042.34L830.97 1042.09L832.97 1041.83L834.97 1041.57L836.97 1041.3L838.97 1041.02L840.97 1040.73L842.96 1040.43L844.96 1040.13L846.96 1039.81L848.96 1039.49L850.96 1039.15L852.96 1038.81L854.96 1038.46L856.96 1038.11L858.96 1037.74L860.96 1037.36L862.96 1036.98L864.95 1036.59L866.95 1036.19L868.95 1035.78L870.95 1035.37L872.95 1034.94L874.95 1034.51L876.95 1034.08L878.95 1033.64L880.95 1033.19L882.95 1032.73L884.95 1032.27L886.95 1031.8L888.94 1031.33L890.94 1030.86L892.94 1030.38L894.94 1029.9L896.94 1029.42L898.94 1028.93L900.94 1028.44L902.94 1027.96L904.94 1027.47L906.94 1026.99L908.94 1026.5L910.94 1026.02L912.93 1025.54L914.93 1025.07L916.93 1024.6L918.93 1024.14L920.93 1023.69L922.93 1023.25L924.93 1022.81L926.93 1022.39L928.93 1021.98L930.93 1021.58L932.93 1021.2L934.93 1020.84L936.92 1020.49L938.92 1020.16L940.92 1019.85L942.92 1019.56L944.92 1019.29L946.92 1019.05L948.92 1018.83L950.92 1018.63L952.92 1018.47L954.92 1018.33L956.92 1018.21L958.92 1018.13L960.91 1018.08L962.91 1018.05L964.91 1018.06L966.91 1018.09L968.91 1018.16L970.91 1018.25L972.91 1018.38L974.91 1018.54L976.91 1018.72L978.91 1018.94L980.91 1019.18L982.91 1019.45L984.9 1019.75L986.9 1020.07L988.9 1020.41L990.9 1020.78L992.9 1021.18L994.9 1021.59L996.9 1022.03L998.9 1022.48L1000.9 1022.95L1002.9 1023.44L1004.9 1023.94L1006.9 1024.45L1008.89 1024.98L1010.89 1025.52L1012.89 1026.07L1014.89 1026.63L1016.89 1027.2L1018.89 1027.77L1020.89 1028.35L1022.89 1028.93L1024.89 1029.52L1026.89 1030.11L1028.89 1030.71L1030.89 1031.3L1032.88 1031.89L1034.88 1032.48L1036.88 1033.08L1038.88 1033.66L1040.88 1034.25L1042.88 1034.83L1044.88 1035.41L1046.88 1035.99L1048.88 1036.55L1050.88 1037.12L1052.88 1037.67L1054.88 1038.22L1056.88 1038.76L1058.87 1039.3L1060.87 1039.83L1062.87 1040.35L1064.87 1040.86L1066.87 1041.36L1068.87 1041.85L1070.87 1042.33L1072.87 1042.81L1074.87 1043.27L1076.87 1043.73L1078.87 1044.17L1080.87 1044.61L1082.86 1045.03L1084.86 1045.44L1086.86 1045.85L1088.86 1046.24L1090.86 1046.63L1092.86 1047L1094.86 1047.37L1096.86 1047.72L1098.86 1048.06L1100.86 1048.4L1102.86 1048.72L1104.86 1049.04L1106.85 1049.34L1108.85 1049.64L1110.85 1049.92L1112.85 1050.2L1114.85 1050.47L1116.85 1050.73L1118.85 1050.98L1120.85 1051.22L1122.85 1051.46L1124.85 1051.68L1126.85 1051.9L1128.85 1052.11L1130.84 1052.31L1132.84 1052.51L1134.84 1052.7L1136.84 1052.88L1138.84 1053.06L1140.84 1053.23L1142.84 1053.39L1144.84 1053.55L1146.84 1053.7L1148.84 1053.84L1150.84 1053.98L1152.84 1054.12L1154.83 1054.25L1156.83 1054.37L1158.83 1054.49L1160.83 1054.61L1162.83 1054.72L1164.83 1054.82L1166.83 1054.93L1168.83 1055.03L1170.83 1055.12L1172.83 1055.21L1174.83 1055.3L1176.82 1055.39L1178.82 1055.47L1180.82 1055.55L1182.82 1055.62L1184.82 1055.7L1186.82 1055.77L1188.82 1055.84L1190.82 1055.9L1192.82 1055.97L1194.82 1056.03L1196.82 1056.09L1198.82 1056.15L1200.82 1056.2L1202.81 1056.26L1204.81 1056.31L1206.81 1056.36L1208.81 1056.41L1210.81 1056.46L1212.81 1056.5L1214.81 1056.55L1216.81 1056.59L1218.81 1056.64L1220.81 1056.68L1222.81 1056.72L1224.8 1056.76L1226.8 1056.8L1228.8 1056.83L1230.8 1056.87L1232.8 1056.9L1234.8 1056.94L1236.8 1056.97" stroke="#3CB38D" stroke-width="2" fill="none"/>
<path d="M757 1048.71L759 1048.71L761 1048.7L763 1048.7L765 1048.7L767 1048.7L769 1048.69L770.99 1048.69L772.99 1048.69L774.99 1048.68L776.99 1048.68L778.99 1048.68L780.99 1048.67L782.99 1048.67L784.99 1048.66L786.99 1048.66L788.99 1048.65L790.99 1048.65L792.99 1048.64L794.98 1048.64L796.98 1048.63L798.98 1048.63L800.98 1048.62L802.98 1048.62L804.98 1048.61L806.98 1048.6L808.98 1048.59L810.98 1048.59L812.98 1048.58L814.98 1048.57L816.98 1048.56L818.97 1048.56L820.97 1048.55L822.97 1048.54L824.97 1048.53L826.97 1048.52L828.97 1048.51L830.97 1048.5L832.97 1048.49L834.97 1048.48L836.97 1048.47L838.97 1048.45L840.97 1048.44L842.96 1048.43L844.96 1048.42L846.96 1048.4L848.96 1048.39L850.96 1048.37L852.96 1048.36L854.96 1048.35L856.96 1048.33L858.96 1048.31L860.96 1048.3L862.96 1048.28L864.95 1048.26L866.95 1048.25L868.95 1048.23L870.95 1048.21L872.95 1048.19L874.95 1048.17L876.95 1048.15L878.95 1048.13L880.95 1048.1L882.95 1048.08L884.95 1048.06L886.95 1048.03L888.94 1048.01L890.94 1047.98L892.94 1047.95L894.94 1047.92L896.94 1047.89L898.94 1047.86L900.94 1047.83L902.94 1047.8L904.94 1047.76L906.94 1047.73L908.94 1047.69L910.94 1047.65L912.93 1047.61L914.93 1047.56L916.93 1047.51L918.93 1047.47L920.93 1047.41L922.93 1047.36L924.93 1047.3L926.93 1047.24L928.93 1047.17L930.93 1047.1L932.93 1047.03L934.93 1046.95L936.92 1046.86L938.92 1046.77L940.92 1046.68L942.92 1046.57L944.92 1046.46L946.92 1046.34L948.92 1046.21L950.92 1046.08L952.92 1045.93L954.92 1045.77L956.92 1045.6L958.92 1045.42L960.91 1045.22L962.91 1045.01L964.91 1044.78L966.91 1044.54L968.91 1044.27L970.91 1043.99L972.91 1043.69L974.91 1043.37L976.91 1043.03L978.91 1042.66L980.91 1042.27L982.91 1041.85L984.9 1041.4L986.9 1040.92L988.9 1040.42L990.9 1039.88L992.9 1039.31L994.9 1038.71L996.9 1038.07L998.9 1037.4L1000.9 1036.69L1002.9 1035.94L1004.9 1035.16L1006.9 1034.33L1008.89 1033.47L1010.89 1032.56L1012.89 1031.62L1014.89 1030.63L1016.89 1029.6L1018.89 1028.53L1020.89 1027.43L1022.89 1026.28L1024.89 1025.09L1026.89 1023.87L1028.89 1022.61L1030.89 1021.31L1032.88 1019.98L1034.88 1018.62L1036.88 1017.24L1038.88 1015.82L1040.88 1014.38L1042.88 1012.93L1044.88 1011.45L1046.88 1009.97L1048.88 1008.48L1050.88 1006.98L1052.88 1005.49L1054.88 1004.01L1056.88 1002.54L1058.87 1001.09L1060.87 999.67L1062.87 998.29L1064.87 996.95L1066.87 995.66L1068.87 994.44L1070.87 993.28L1072.87 992.2L1074.87 991.21L1076.87 990.31L1078.87 989.51L1080.87 988.82L1082.86 988.25L1084.86 987.8L1086.86 987.48L1088.86 987.29L1090.86 987.24L1092.86 987.32L1094.86 987.53L1096.86 987.87L1098.86 988.35L1100.86 988.95L1102.86 989.68L1104.86 990.52L1106.85 991.46L1108.85 992.51L1110.85 993.65L1112.85 994.88L1114.85 996.18L1116.85 997.54L1118.85 998.97L1120.85 1000.44L1122.85 1001.96L1124.85 1003.51L1126.85 1005.09L1128.85 1006.69L1130.84 1008.3L1132.84 1009.91L1134.84 1011.53L1136.84 1013.15L1138.84 1014.75L1140.84 1016.34L1142.84 1017.92L1144.84 1019.47L1146.84 1021L1148.84 1022.5L1150.84 1023.97L1152.84 1025.41L1154.83 1026.81L1156.83 1028.17L1158.83 1029.5L1160.83 1030.79L1162.83 1032.04L1164.83 1033.25L1166.83 1034.41L1168.83 1035.53L1170.83 1036.62L1172.83 1037.65L1174.83 1038.65L1176.82 1039.61L1178.82 1040.52L1180.82 1041.39L1182.82 1042.23L1184.82 1043.02L1186.82 1043.78L1188.82 1044.5L1190.82 1045.18L1192.82 1045.83L1194.82 1046.44L1196.82 1047.02L1198.82 1047.57L1200.82 1048.09L1202.81 1048.58L1204.81 1049.04L1206.81 1049.48L1208.81 1049.89L1210.81 1050.28L1212.81 1050.64L1214.81 1050.99L1216.81 1051.31L1218.81 1051.61L1220.81 1051.9L1222.81 1052.17L1224.8 1052.42L1226.8 1052.66L1228.8 1052.89L1230.8 1053.1L1232.8 1053.3L1234.8 1053.48L1236.8 1053.66" stroke="#A9DDF6" stroke-width="2" fill="none"/>
<path d="M757 1048.99L759 1048.99L761 1048.99L763 1048.99L765 1048.99L767 1048.99L769 1048.99L770.99 1048.98L772.99 1048.98L774.99 1048.98L776.99 1048.98L778.99 1048.98L780.99 1048.97L782.99 1048.97L784.99 1048.97L786.99 1048.96L788.99 1048.96L790.99 1048.96L792.99 1048.95L794.98 1048.95L796.98 1048.94L798.98 1048.94L800.98 1048.93L802.98 1048.93L804.98 1048.92L806.98 1048.91L808.98 1048.91L810.98 1048.9L812.98 1048.89L814.98 1048.88L816.98 1048.88L818.97 1048.87L820.97 1048.86L822.97 1048.85L824.97 1048.84L826.97 1048.83L828.97 1048.82L830.97 1048.8L832.97 1048.79L834.97 1048.78L836.97 1048.77L838.97 1048.75L840.97 1048.74L842.96 1048.72L844.96 1048.71L846.96 1048.69L848.96 1048.67L850.96 1048.66L852.96 1048.64L854.96 1048.62L856.96 1048.6L858.96 1048.57L860.96 1048.55L862.96 1048.53L864.95 1048.5L866.95 1048.47L868.95 1048.45L870.95 1048.42L872.95 1048.38L874.95 1048.35L876.95 1048.31L878.95 1048.27L880.95 1048.23L882.95 1048.18L884.95 1048.13L886.95 1048.07L888.94 1048.01L890.94 1047.94L892.94 1047.87L894.94 1047.78L896.94 1047.68L898.94 1047.58L900.94 1047.45L902.94 1047.31L904.94 1047.16L906.94 1046.98L908.94 1046.77L910.94 1046.54L912.93 1046.27L914.93 1045.96L916.93 1045.61L918.93 1045.21L920.93 1044.75L922.93 1044.22L924.93 1043.63L926.93 1042.95L928.93 1042.18L930.93 1041.31L932.93 1040.33L934.93 1039.23L936.92 1037.99L938.92 1036.6L940.92 1035.04L942.92 1033.31L944.92 1031.4L946.92 1029.27L948.92 1026.93L950.92 1024.36L952.92 1021.54L954.92 1018.47L956.92 1015.12L958.92 1011.5L960.91 1007.59L962.91 1003.39L964.91 998.89L966.91 994.09L968.91 988.98L970.91 983.59L972.91 977.9L974.91 971.93L976.91 965.7L978.91 959.22L980.91 952.51L982.91 945.6L984.9 938.52L986.9 931.3L988.9 923.99L990.9 916.61L992.9 909.21L994.9 901.85L996.9 894.56L998.9 887.41L1000.9 880.46L1002.9 873.74L1004.9 867.33L1006.9 861.28L1008.89 855.65L1010.89 850.5L1012.89 845.87L1014.89 841.82L1016.89 838.4L1018.89 835.64L1020.89 833.58L1022.89 832.24L1024.89 831.65L1026.89 831.81L1028.89 832.72L1030.89 834.37L1032.88 836.74L1034.88 839.8L1036.88 843.52L1038.88 847.85L1040.88 852.75L1042.88 858.17L1044.88 864.05L1046.88 870.34L1048.88 876.97L1050.88 883.9L1052.88 891.05L1054.88 898.39L1056.88 905.84L1058.87 913.37L1060.87 920.92L1062.87 928.43L1064.87 935.88L1066.87 943.22L1068.87 950.4L1070.87 957.41L1072.87 964.21L1074.87 970.78L1076.87 977.09L1078.87 983.13L1080.87 988.89L1082.86 994.35L1084.86 999.51L1086.86 1004.37L1088.86 1008.93L1090.86 1013.19L1092.86 1017.15L1094.86 1020.82L1096.86 1024.22L1098.86 1027.34L1100.86 1030.21L1102.86 1032.84L1104.86 1035.23L1106.85 1037.4L1108.85 1039.37L1110.85 1041.16L1112.85 1042.76L1114.85 1044.21L1116.85 1045.5L1118.85 1046.66L1120.85 1047.7L1122.85 1048.62L1124.85 1049.44L1126.85 1050.18L1128.85 1050.83L1130.84 1051.4L1132.84 1051.92L1134.84 1052.37L1136.84 1052.78L1138.84 1053.14L1140.84 1053.46L1142.84 1053.75L1144.84 1054L1146.84 1054.23L1148.84 1054.44L1150.84 1054.63L1152.84 1054.8L1154.83 1054.95L1156.83 1055.1L1158.83 1055.23L1160.83 1055.35L1162.83 1055.46L1164.83 1055.56L1166.83 1055.66L1168.83 1055.75L1170.83 1055.84L1172.83 1055.92L1174.83 1056L1176.82 1056.07L1178.82 1056.14L1180.82 1056.21L1182.82 1056.28L1184.82 1056.34L1186.82 1056.4L1188.82 1056.46L1190.82 1056.51L1192.82 1056.57L1194.82 1056.62L1196.82 1056.67L1198.82 1056.72L1200.82 1056.77L1202.81 1056.81L1204.81 1056.86L1206.81 1056.9L1208.81 1056.95L1210.81 1056.99L1212.81 1057.03L1214.81 1057.07L1216.81 1057.1L1218.81 1057.14L1220.81 1057.18L1222.81 1057.21L1224.8 1057.25L1226.8 1057.28L1228.8 1057.32L1230.8 1057.35L1232.8 1057.38L1234.8 1057.41L1236.8 1057.44" stroke="#EE4F80" stroke-width="2" fill="none"/>
<path d="M757 1049.59L759 1049.6L761 1049.61L763 1049.62L765 1049.63L767 1049.63L769 1049.64L770.99 1049.65L772.99 1049.66L774.99 1049.67L776.99 1049.68L778.99 1049.69L780.99 1049.69L782.99 1049.7L784.99 1049.71L786.99 1049.72L788.99 1049.73L790.99 1049.74L792.99 1049.75L794.98 1049.76L796.98 1049.76L798.98 1049.77L800.98 1049.78L802.98 1049.79L804.98 1049.8L806.98 1049.81L808.98 1049.82L810.98 1049.83L812.98 1049.84L814.98 1049.85L816.98 1049.86L818.97 1049.87L820.97 1049.88L822.97 1049.89L824.97 1049.9L826.97 1049.91L828.97 1049.92L830.97 1049.93L832.97 1049.94L834.97 1049.95L836.97 1049.96L838.97 1049.97L840.97 1049.98L842.96 1049.99L844.96 1050L846.96 1050.01L848.96 1050.03L850.96 1050.04L852.96 1050.05L854.96 1050.06L856.96 1050.07L858.96 1050.09L860.96 1050.1L862.96 1050.11L864.95 1050.12L866.95 1050.14L868.95 1050.15L870.95 1050.16L872.95 1050.18L874.95 1050.19L876.95 1050.21L878.95 1050.22L880.95 1050.24L882.95 1050.25L884.95 1050.27L886.95 1050.29L888.94 1050.3L890.94 1050.32L892.94 1050.34L894.94 1050.35L896.94 1050.37L898.94 1050.39L900.94 1050.41L902.94 1050.43L904.94 1050.45L906.94 1050.47L908.94 1050.49L910.94 1050.51L912.93 1050.53L914.93 1050.56L916.93 1050.58L918.93 1050.6L920.93 1050.63L922.93 1050.65L924.93 1050.68L926.93 1050.7L928.93 1050.73L930.93 1050.76L932.93 1050.79L934.93 1050.82L936.92 1050.85L938.92 1050.88L940.92 1050.91L942.92 1050.94L944.92 1050.97L946.92 1051.01L948.92 1051.04L950.92 1051.08L952.92 1051.12L954.92 1051.15L956.92 1051.19L958.92 1051.23L960.91 1051.27L962.91 1051.31L964.91 1051.35L966.91 1051.39L968.91 1051.44L970.91 1051.48L972.91 1051.53L974.91 1051.57L976.91 1051.62L978.91 1051.66L980.91 1051.71L982.91 1051.76L984.9 1051.81L986.9 1051.86L988.9 1051.9L990.9 1051.95L992.9 1052L994.9 1052.05L996.9 1052.09L998.9 1052.14L1000.9 1052.18L1002.9 1052.22L1004.9 1052.26L1006.9 1052.29L1008.89 1052.31L1010.89 1052.32L1012.89 1052.31L1014.89 1052.27L1016.89 1052.19L1018.89 1052.06L1020.89 1051.87L1022.89 1051.58L1024.89 1051.18L1026.89 1050.64L1028.89 1049.92L1030.89 1048.99L1032.88 1047.81L1034.88 1046.37L1036.88 1044.62L1038.88 1042.57L1040.88 1040.22L1042.88 1037.58L1044.88 1034.7L1046.88 1031.64L1048.88 1028.49L1050.88 1025.35L1052.88 1022.35L1054.88 1019.62L1056.88 1017.32L1058.87 1015.57L1060.87 1014.51L1062.87 1014.19L1064.87 1014.67L1066.87 1015.9L1068.87 1017.8L1070.87 1020.27L1072.87 1023.15L1074.87 1026.32L1076.87 1029.61L1078.87 1032.93L1080.87 1036.15L1082.86 1039.18L1084.86 1041.98L1086.86 1044.48L1088.86 1046.69L1090.86 1048.58L1092.86 1050.18L1094.86 1051.5L1096.86 1052.58L1098.86 1053.44L1100.86 1054.13L1102.86 1054.67L1104.86 1055.1L1106.85 1055.43L1108.85 1055.69L1110.85 1055.9L1112.85 1056.07L1114.85 1056.21L1116.85 1056.33L1118.85 1056.44L1120.85 1056.53L1122.85 1056.61L1124.85 1056.69L1126.85 1056.76L1128.85 1056.83L1130.84 1056.89L1132.84 1056.95L1134.84 1057.01L1136.84 1057.06L1138.84 1057.12L1140.84 1057.17L1142.84 1057.22L1144.84 1057.26L1146.84 1057.31L1148.84 1057.35L1150.84 1057.39L1152.84 1057.43L1154.83 1057.47L1156.83 1057.51L1158.83 1057.54L1160.83 1057.58L1162.83 1057.61L1164.83 1057.64L1166.83 1057.68L1168.83 1057.71L1170.83 1057.74L1172.83 1057.76L1174.83 1057.79L1176.82 1057.82L1178.82 1057.84L1180.82 1057.87L1182.82 1057.89L1184.82 1057.92L1186.82 1057.94L1188.82 1057.96L1190.82 1057.99L1192.82 1058.01L1194.82 1058.03L1196.82 1058.05L1198.82 1058.07L1200.82 1058.09L1202.81 1058.11L1204.81 1058.12L1206.81 1058.14L1208.81 1058.16L1210.81 1058.18L1212.81 1058.19L1214.81 1058.21L1216.81 1058.23L1218.81 1058.24L1220.81 1058.26L1222.81 1058.27L1224.8 1058.29L1226.8 1058.3L1228.8 1058.32L1230.8 1058.33L1232.8 1058.34L1234.8 1058.36L1236.8 1058.37" stroke="#FFC35A" stroke-width="2" fill="none"/>
<path d="M757 1043.99L759 1043.92L761 1043.84L763 1043.76L765 1043.68L767 1043.59L769 1043.5L770.99 1043.4L772.99 1043.3L774.99 1043.2L776.99 1043.09L778.99 1042.98L780.99 1042.86L782.99 1042.74L784.99 1042.62L786.99 1042.49L788.99 1042.35L790.99 1042.21L792.99 1042.06L794.98 1041.91L796.98 1041.75L798.98 1041.58L800.98 1041.41L802.98 1041.23L804.98 1041.05L806.98 1040.86L808.98 1040.66L810.98 1040.45L812.98 1040.24L814.98 1040.01L816.98 1039.78L818.97 1039.54L820.97 1039.3L822.97 1039.04L824.97 1038.78L826.97 1038.51L828.97 1038.22L830.97 1037.93L832.97 1037.63L834.97 1037.32L836.97 1037L838.97 1036.67L840.97 1036.33L842.96 1035.98L844.96 1035.62L846.96 1035.25L848.96 1034.87L850.96 1034.48L852.96 1034.08L854.96 1033.67L856.96 1033.25L858.96 1032.82L860.96 1032.38L862.96 1031.92L864.95 1031.46L866.95 1030.98L868.95 1030.5L870.95 1030L872.95 1029.5L874.95 1028.98L876.95 1028.45L878.95 1027.91L880.95 1027.36L882.95 1026.8L884.95 1026.23L886.95 1025.64L888.94 1025.04L890.94 1024.43L892.94 1023.81L894.94 1023.17L896.94 1022.51L898.94 1021.84L900.94 1021.15L902.94 1020.44L904.94 1019.71L906.94 1018.95L908.94 1018.17L910.94 1017.35L912.93 1016.5L914.93 1015.61L916.93 1014.68L918.93 1013.7L920.93 1012.66L922.93 1011.56L924.93 1010.39L926.93 1009.14L928.93 1007.81L930.93 1006.38L932.93 1004.84L934.93 1003.18L936.92 1001.39L938.92 999.46L940.92 997.37L942.92 995.1L944.92 992.66L946.92 990.01L948.92 987.15L950.92 984.06L952.92 980.73L954.92 977.14L956.92 973.29L958.92 969.15L960.91 964.73L962.91 960L964.91 954.97L966.91 949.62L968.91 943.97L970.91 938L972.91 931.73L974.91 925.16L976.91 918.3L978.91 911.18L980.91 903.8L982.91 896.19L984.9 888.38L986.9 880.4L988.9 872.3L990.9 864.1L992.9 855.85L994.9 847.61L996.9 839.42L998.9 831.33L1000.9 823.41L1002.9 815.71L1004.9 808.29L1006.9 801.21L1008.89 794.53L1010.89 788.31L1012.89 782.59L1014.89 777.42L1016.89 772.84L1018.89 768.89L1020.89 765.57L1022.89 762.91L1024.89 760.89L1026.89 759.49L1028.89 758.68L1030.89 758.41L1032.88 758.63L1034.88 759.28L1036.88 760.3L1038.88 761.64L1040.88 763.26L1042.88 765.11L1044.88 767.19L1046.88 769.51L1048.88 772.1L1050.88 775.02L1052.88 778.34L1054.88 782.15L1056.88 786.54L1058.87 791.61L1060.87 797.44L1062.87 804.06L1064.87 811.45L1066.87 819.56L1068.87 828.27L1070.87 837.42L1072.87 846.84L1074.87 856.37L1076.87 865.86L1078.87 875.15L1080.87 884.14L1082.86 892.74L1084.86 900.87L1086.86 908.5L1088.86 915.62L1090.86 922.22L1092.86 928.33L1094.86 933.98L1096.86 939.21L1098.86 944.06L1100.86 948.58L1102.86 952.8L1104.86 956.77L1106.85 960.52L1108.85 964.08L1110.85 967.46L1112.85 970.71L1114.85 973.82L1116.85 976.81L1118.85 979.7L1120.85 982.49L1122.85 985.19L1124.85 987.8L1126.85 990.33L1128.85 992.79L1130.84 995.17L1132.84 997.49L1134.84 999.73L1136.84 1001.92L1138.84 1004.03L1140.84 1006.09L1142.84 1008.09L1144.84 1010.02L1146.84 1011.9L1148.84 1013.72L1150.84 1015.48L1152.84 1017.19L1154.83 1018.84L1156.83 1020.43L1158.83 1021.98L1160.83 1023.46L1162.83 1024.9L1164.83 1026.28L1166.83 1027.6L1168.83 1028.88L1170.83 1030.11L1172.83 1031.28L1174.83 1032.41L1176.82 1033.49L1178.82 1034.52L1180.82 1035.51L1182.82 1036.45L1184.82 1037.34L1186.82 1038.2L1188.82 1039.01L1190.82 1039.78L1192.82 1040.51L1194.82 1041.21L1196.82 1041.87L1198.82 1042.5L1200.82 1043.09L1202.81 1043.65L1204.81 1044.19L1206.81 1044.69L1208.81 1045.16L1210.81 1045.61L1212.81 1046.04L1214.81 1046.44L1216.81 1046.82L1218.81 1047.18L1220.81 1047.52L1222.81 1047.84L1224.8 1048.14L1226.8 1048.43L1228.8 1048.7L1230.8 1048.96L1232.8 1049.2L1234.8 1049.43L1236.8 1049.65" stroke="#444444" stroke-width="2.2" fill="none"/>
<path d="M756 1082.2L1237.8 1082.2" stroke="#000" stroke-width="2.1"/>
<path d="M757 1082.2L757 1090.2" stroke="#000" stroke-width="2.1"/>
<path d="M876.95 1082.2L876.95 1090.2" stroke="#000" stroke-width="2.1"/>
<path d="M996.9 1082.2L996.9 1090.2" stroke="#000" stroke-width="2.1"/>
<path d="M1116.85 1082.2L1116.85 1090.2" stroke="#000" stroke-width="2.1"/>
<path d="M1236.8 1082.2L1236.8 1090.2" stroke="#000" stroke-width="2.1"/>
<path d="M816.98 1082.2L816.98 1086.3" stroke="#000" stroke-width="2.1"/>
<path d="M936.92 1082.2L936.92 1086.3" stroke="#000" stroke-width="2.1"/>
<path d="M1056.88 1082.2L1056.88 1086.3" stroke="#000" stroke-width="2.1"/>
<path d="M1176.82 1082.2L1176.82 1086.3" stroke="#000" stroke-width="2.1"/>
<text transform="translate(757 1115.7)" font-size="25.4" font-weight="bold" stroke="#000" stroke-width="0.5" stroke-linejoin="round" text-anchor="middle">404</text>
<text transform="translate(876.95 1115.7)" font-size="25.4" font-weight="bold" stroke="#000" stroke-width="0.5" stroke-linejoin="round" text-anchor="middle">402</text>
<text transform="translate(996.9 1115.7)" font-size="25.4" font-weight="bold" stroke="#000" stroke-width="0.5" stroke-linejoin="round" text-anchor="middle">400</text>
<text transform="translate(1116.85 1115.7)" font-size="25.4" font-weight="bold" stroke="#000" stroke-width="0.5" stroke-linejoin="round" text-anchor="middle">398</text>
<text transform="translate(1236.8 1115.7)" font-size="25.4" font-weight="bold" stroke="#000" stroke-width="0.5" stroke-linejoin="round" text-anchor="middle">396</text>
<text transform="translate(997 1163.9) scale(1.0400 1)" font-size="31.2" font-weight="bold" stroke="#000" stroke-width="0.5" stroke-linejoin="round" text-anchor="middle">Bond Energy (eV)</text>
<path d="M758.7 744.7L804.6 744.7" stroke="#3CB38D" stroke-width="2"/>
<text transform="translate(809.3 751.7) scale(1.0050 1)" font-size="20" font-weight="bold" stroke="#000" stroke-width="0.5" stroke-linejoin="round">400.43 eV</text>
<path d="M758.7 769.6L804.6 769.6" stroke="#EE4F80" stroke-width="2"/>
<text transform="translate(809.3 776.6) scale(1.0050 1)" font-size="20" font-weight="bold" stroke="#000" stroke-width="0.5" stroke-linejoin="round">399.52 eV</text>
<path d="M758.7 794.5L804.6 794.5" stroke="#FFC35A" stroke-width="2"/>
<text transform="translate(809.3 801.5) scale(1.0050 1)" font-size="20" font-weight="bold" stroke="#000" stroke-width="0.5" stroke-linejoin="round">398.90 eV</text>
<path d="M758.7 819.4L804.6 819.4" stroke="#A9DDF6" stroke-width="2"/>
<text transform="translate(809.3 826.4) scale(1.0050 1)" font-size="20" font-weight="bold" stroke="#000" stroke-width="0.5" stroke-linejoin="round">398.40 eV</text>
<text transform="translate(1154.6 763.1)" font-size="36.5" stroke="#000" stroke-width="0.5">N1</text>
<text transform="translate(1199 763.1) scale(1.1000 1)" font-size="38" font-family='"Liberation Serif", "Times New Roman", serif' font-style="italic">s</text>
<text transform="translate(1008.5 823.5) scale(0.9900 1)" font-size="19.8" font-weight="bold" stroke="#000" stroke-width="0.5" stroke-linejoin="round">*-NH<tspan dy="4.5" font-size="13.5">2</tspan></text>
<text transform="translate(1066 982.5) scale(0.9900 1)" font-size="19.8" font-weight="bold" stroke="#000" stroke-width="0.5" stroke-linejoin="round">*C=N</text>
<text transform="translate(922.5 1009.5) scale(0.9900 1)" font-size="19.8" font-weight="bold" stroke="#000" stroke-width="0.5" stroke-linejoin="round">*C-NH-C</text>
<text transform="translate(1023.5 1011.5) scale(0.9900 1)" font-size="19.8" font-weight="bold" stroke="#000" stroke-width="0.5" stroke-linejoin="round">*CO-NH</text>
</g>
<g id="chart-e">
<path d="M1425.5 1037.06L1429.86 1038.42L1434.22 1037.66L1438.58 1038.68L1442.94 1038.76L1447.3 1036.27L1451.65 1036L1456.01 1039.57L1460.37 1036.93L1464.73 1036.71L1469.09 1039.96L1473.45 1037.48L1477.81 1038.89L1482.17 1037.15L1486.53 1037.6L1490.89 1035.16L1495.25 1036.97L1499.6 1037.76L1503.96 1035.89L1508.32 1036.48L1512.68 1035.81L1517.04 1032.9L1521.4 1035.63L1525.76 1034.61L1530.12 1033.17L1534.48 1031.81L1538.84 1035.38L1543.2 1033.64L1547.55 1034.76L1551.91 1035.56L1556.27 1034.99L1560.63 1036.06L1564.99 1033.84L1569.35 1035.72L1573.71 1034.13L1578.07 1036.2L1582.43 1035.66L1586.79 1031.7L1591.15 1031.07L1595.5 1030.73L1599.86 1032.71L1604.22 1028.75L1608.58 1027.62L1612.94 1024.7L1617.3 1023.09L1621.66 1019.74L1626.02 1017.56L1630.38 1015.42L1634.74 1012.29L1639.1 1010.9L1643.45 1008.41L1647.81 1008.03L1652.17 1007.37L1656.53 1008.67L1660.89 1008.07L1665.25 1006.92L1669.61 1009.98L1673.97 1009.3L1678.33 1005L1682.69 996.29L1687.05 986.53L1691.4 975.91L1695.76 964.48L1700.12 948.27L1704.48 931.76L1708.84 920.61L1713.2 908.52L1717.56 892.69L1721.92 877.16L1726.28 862.11L1730.64 841.65L1735 821.79L1739.35 810.22L1743.71 794.8L1748.07 779.35L1752.43 762.52L1756.79 758.51L1761.15 750.99L1765.51 756.14L1769.87 760.47L1774.23 778.92L1778.59 802.89L1782.95 829.95L1787.3 853.51L1791.66 883.64L1796.02 915.07L1800.38 947.25L1804.74 962.59L1809.1 986.42L1813.46 1005.89L1817.82 1016.71L1822.18 1026.35L1826.54 1034.18L1830.9 1043.57L1835.25 1043.89L1839.61 1049.65L1843.97 1051.3L1848.33 1050.27L1852.69 1051.23L1857.05 1052.15L1861.41 1053.18L1865.77 1053.22L1870.13 1053.39L1874.49 1053.93L1878.85 1055.58L1883.2 1053.82L1887.56 1053.69L1891.92 1055.15L1896.28 1053.2L1900.64 1053.59L1905 1056.72" stroke="#BDBDBD" stroke-width="0.8" fill="none"/>
<path d="M1425.5 1038.5L1427.1 1038.51L1428.7 1038.51L1430.3 1038.52L1431.89 1038.53L1433.49 1038.53L1435.09 1038.53L1436.69 1038.54L1438.29 1038.54L1439.88 1038.54L1441.48 1038.53L1443.08 1038.53L1444.68 1038.53L1446.28 1038.52L1447.88 1038.51L1449.47 1038.5L1451.07 1038.48L1452.67 1038.47L1454.27 1038.45L1455.87 1038.43L1457.47 1038.41L1459.07 1038.38L1460.66 1038.35L1462.26 1038.32L1463.86 1038.29L1465.46 1038.25L1467.06 1038.21L1468.65 1038.16L1470.25 1038.11L1471.85 1038.06L1473.45 1038.01L1475.05 1037.95L1476.65 1037.88L1478.24 1037.82L1479.84 1037.75L1481.44 1037.67L1483.04 1037.59L1484.64 1037.51L1486.24 1037.43L1487.84 1037.34L1489.43 1037.24L1491.03 1037.15L1492.63 1037.05L1494.23 1036.95L1495.83 1036.84L1497.42 1036.73L1499.02 1036.62L1500.62 1036.51L1502.22 1036.4L1503.82 1036.29L1505.42 1036.17L1507.02 1036.05L1508.61 1035.94L1510.21 1035.82L1511.81 1035.71L1513.41 1035.6L1515.01 1035.49L1516.61 1035.38L1518.2 1035.27L1519.8 1035.17L1521.4 1035.07L1523 1034.98L1524.6 1034.89L1526.19 1034.81L1527.79 1034.74L1529.39 1034.68L1530.99 1034.62L1532.59 1034.57L1534.19 1034.53L1535.79 1034.5L1537.38 1034.47L1538.98 1034.46L1540.58 1034.46L1542.18 1034.46L1543.78 1034.48L1545.38 1034.51L1546.97 1034.54L1548.57 1034.58L1550.17 1034.63L1551.77 1034.68L1553.37 1034.74L1554.96 1034.81L1556.56 1034.87L1558.16 1034.94L1559.76 1035.01L1561.36 1035.08L1562.96 1035.14L1564.56 1035.2L1566.15 1035.26L1567.75 1035.31L1569.35 1035.35L1570.95 1035.37L1572.55 1035.39L1574.14 1035.39L1575.74 1035.37L1577.34 1035.34L1578.94 1035.29L1580.54 1035.21L1582.14 1035.11L1583.74 1034.99L1585.33 1034.84L1586.93 1034.67L1588.53 1034.46L1590.13 1034.23L1591.73 1033.96L1593.33 1033.67L1594.92 1033.34L1596.52 1032.98L1598.12 1032.6L1599.72 1032.18L1601.32 1031.73L1602.91 1031.26L1604.51 1030.76L1606.11 1030.24L1607.71 1029.7L1609.31 1029.14L1610.91 1028.56L1612.51 1027.98L1614.1 1027.39L1615.7 1026.79L1617.3 1026.2L1618.9 1025.62L1620.5 1025.05L1622.1 1024.49L1623.69 1023.96L1625.29 1023.46L1626.89 1022.99L1628.49 1022.56L1630.09 1022.18L1631.68 1021.84L1633.28 1021.56L1634.88 1021.33L1636.48 1021.16L1638.08 1021.06L1639.68 1021.02L1641.28 1021.05L1642.87 1021.15L1644.47 1021.31L1646.07 1021.53L1647.67 1021.82L1649.27 1022.17L1650.87 1022.57L1652.46 1023.03L1654.06 1023.54L1655.66 1024.09L1657.26 1024.68L1658.86 1025.3L1660.45 1025.95L1662.05 1026.62L1663.65 1027.32L1665.25 1028.02L1666.85 1028.74L1668.45 1029.46L1670.05 1030.18L1671.64 1030.89L1673.24 1031.6L1674.84 1032.29L1676.44 1032.97L1678.04 1033.64L1679.63 1034.28L1681.23 1034.91L1682.83 1035.51L1684.43 1036.09L1686.03 1036.64L1687.63 1037.17L1689.22 1037.67L1690.82 1038.15L1692.42 1038.6L1694.02 1039.02L1695.62 1039.43L1697.22 1039.81L1698.82 1040.17L1700.41 1040.51L1702.01 1040.83L1703.61 1041.13L1705.21 1041.41L1706.81 1041.68L1708.4 1041.94L1710 1042.19L1711.6 1042.43L1713.2 1042.65L1714.8 1042.87L1716.4 1043.09L1717.99 1043.29L1719.59 1043.5L1721.19 1043.7L1722.79 1043.9L1724.39 1044.1L1725.99 1044.3L1727.59 1044.5L1729.18 1044.7L1730.78 1044.9L1732.38 1045.11L1733.98 1045.31L1735.58 1045.53L1737.17 1045.74L1738.77 1045.95L1740.37 1046.17L1741.97 1046.39L1743.57 1046.62L1745.17 1046.85L1746.76 1047.07L1748.36 1047.31L1749.96 1047.54L1751.56 1047.77L1753.16 1048.01L1754.76 1048.24L1756.36 1048.47L1757.95 1048.71L1759.55 1048.94L1761.15 1049.17L1762.75 1049.4L1764.35 1049.62L1765.94 1049.84L1767.54 1050.06L1769.14 1050.27L1770.74 1050.48L1772.34 1050.69L1773.94 1050.89L1775.54 1051.08L1777.13 1051.27L1778.73 1051.45L1780.33 1051.63L1781.93 1051.8L1783.53 1051.97L1785.12 1052.13L1786.72 1052.28L1788.32 1052.43L1789.92 1052.57L1791.52 1052.71L1793.12 1052.84L1794.71 1052.97L1796.31 1053.09L1797.91 1053.2L1799.51 1053.31L1801.11 1053.42L1802.71 1053.52L1804.31 1053.61L1805.9 1053.71L1807.5 1053.79L1809.1 1053.88L1810.7 1053.96L1812.3 1054.03L1813.89 1054.11L1815.49 1054.18L1817.09 1054.24L1818.69 1054.31L1820.29 1054.37L1821.89 1054.43L1823.49 1054.48L1825.08 1054.54L1826.68 1054.59L1828.28 1054.64L1829.88 1054.68L1831.48 1054.73L1833.08 1054.77L1834.67 1054.82L1836.27 1054.86L1837.87 1054.9L1839.47 1054.93L1841.07 1054.97L1842.66 1055.01L1844.26 1055.04L1845.86 1055.08L1847.46 1055.11L1849.06 1055.14L1850.66 1055.17L1852.26 1055.2L1853.85 1055.23L1855.45 1055.26L1857.05 1055.29L1858.65 1055.32L1860.25 1055.35L1861.85 1055.37L1863.44 1055.4L1865.04 1055.42L1866.64 1055.45L1868.24 1055.47L1869.84 1055.5L1871.43 1055.52L1873.03 1055.55L1874.63 1055.57L1876.23 1055.59L1877.83 1055.62L1879.43 1055.64L1881.03 1055.66L1882.62 1055.69L1884.22 1055.71L1885.82 1055.73L1887.42 1055.75L1889.02 1055.77L1890.62 1055.8L1892.21 1055.82L1893.81 1055.84L1895.41 1055.86L1897.01 1055.88L1898.61 1055.9L1900.2 1055.92L1901.8 1055.94L1903.4 1055.97L1905 1055.99" stroke="#A9DDF6" stroke-width="2" fill="none"/>
<path d="M1425.5 1038.53L1427.1 1038.54L1428.7 1038.55L1430.3 1038.56L1431.89 1038.56L1433.49 1038.57L1435.09 1038.57L1436.69 1038.58L1438.29 1038.58L1439.88 1038.58L1441.48 1038.58L1443.08 1038.57L1444.68 1038.57L1446.28 1038.56L1447.88 1038.55L1449.47 1038.54L1451.07 1038.53L1452.67 1038.52L1454.27 1038.5L1455.87 1038.48L1457.47 1038.46L1459.07 1038.43L1460.66 1038.4L1462.26 1038.37L1463.86 1038.34L1465.46 1038.3L1467.06 1038.26L1468.65 1038.22L1470.25 1038.17L1471.85 1038.12L1473.45 1038.06L1475.05 1038.01L1476.65 1037.94L1478.24 1037.88L1479.84 1037.81L1481.44 1037.74L1483.04 1037.66L1484.64 1037.58L1486.24 1037.49L1487.84 1037.41L1489.43 1037.31L1491.03 1037.22L1492.63 1037.12L1494.23 1037.02L1495.83 1036.92L1497.42 1036.81L1499.02 1036.71L1500.62 1036.6L1502.22 1036.48L1503.82 1036.37L1505.42 1036.26L1507.02 1036.15L1508.61 1036.03L1510.21 1035.92L1511.81 1035.81L1513.41 1035.7L1515.01 1035.59L1516.61 1035.48L1518.2 1035.38L1519.8 1035.28L1521.4 1035.19L1523 1035.1L1524.6 1035.02L1526.19 1034.94L1527.79 1034.87L1529.39 1034.81L1530.99 1034.76L1532.59 1034.71L1534.19 1034.68L1535.79 1034.65L1537.38 1034.64L1538.98 1034.64L1540.58 1034.64L1542.18 1034.66L1543.78 1034.69L1545.38 1034.73L1546.97 1034.78L1548.57 1034.84L1550.17 1034.91L1551.77 1034.99L1553.37 1035.08L1554.96 1035.17L1556.56 1035.28L1558.16 1035.39L1559.76 1035.51L1561.36 1035.63L1562.96 1035.76L1564.56 1035.9L1566.15 1036.03L1567.75 1036.17L1569.35 1036.32L1570.95 1036.46L1572.55 1036.61L1574.14 1036.76L1575.74 1036.91L1577.34 1037.06L1578.94 1037.2L1580.54 1037.35L1582.14 1037.5L1583.74 1037.64L1585.33 1037.78L1586.93 1037.92L1588.53 1038.05L1590.13 1038.18L1591.73 1038.31L1593.33 1038.43L1594.92 1038.54L1596.52 1038.65L1598.12 1038.75L1599.72 1038.85L1601.32 1038.93L1602.91 1039L1604.51 1039.05L1606.11 1039.09L1607.71 1039.11L1609.31 1039.11L1610.91 1039.08L1612.51 1039.03L1614.1 1038.94L1615.7 1038.82L1617.3 1038.66L1618.9 1038.45L1620.5 1038.2L1622.1 1037.9L1623.69 1037.54L1625.29 1037.14L1626.89 1036.67L1628.49 1036.16L1630.09 1035.6L1631.68 1034.99L1633.28 1034.34L1634.88 1033.67L1636.48 1032.97L1638.08 1032.26L1639.68 1031.56L1641.28 1030.88L1642.87 1030.23L1644.47 1029.63L1646.07 1029.09L1647.67 1028.64L1649.27 1028.28L1650.87 1028.03L1652.46 1027.89L1654.06 1027.88L1655.66 1027.99L1657.26 1028.23L1658.86 1028.58L1660.45 1029.03L1662.05 1029.58L1663.65 1030.21L1665.25 1030.91L1666.85 1031.65L1668.45 1032.42L1670.05 1033.22L1671.64 1034.01L1673.24 1034.8L1674.84 1035.57L1676.44 1036.31L1678.04 1037.01L1679.63 1037.67L1681.23 1038.29L1682.83 1038.86L1684.43 1039.37L1686.03 1039.84L1687.63 1040.27L1689.22 1040.64L1690.82 1040.98L1692.42 1041.28L1694.02 1041.55L1695.62 1041.79L1697.22 1042L1698.82 1042.19L1700.41 1042.37L1702.01 1042.53L1703.61 1042.68L1705.21 1042.82L1706.81 1042.95L1708.4 1043.09L1710 1043.22L1711.6 1043.35L1713.2 1043.48L1714.8 1043.61L1716.4 1043.74L1717.99 1043.88L1719.59 1044.03L1721.19 1044.17L1722.79 1044.32L1724.39 1044.48L1725.99 1044.64L1727.59 1044.81L1729.18 1044.98L1730.78 1045.16L1732.38 1045.34L1733.98 1045.53L1735.58 1045.72L1737.17 1045.92L1738.77 1046.13L1740.37 1046.34L1741.97 1046.55L1743.57 1046.76L1745.17 1046.98L1746.76 1047.21L1748.36 1047.43L1749.96 1047.66L1751.56 1047.89L1753.16 1048.12L1754.76 1048.35L1756.36 1048.58L1757.95 1048.81L1759.55 1049.04L1761.15 1049.26L1762.75 1049.49L1764.35 1049.71L1765.94 1049.93L1767.54 1050.15L1769.14 1050.36L1770.74 1050.57L1772.34 1050.77L1773.94 1050.97L1775.54 1051.16L1777.13 1051.35L1778.73 1051.53L1780.33 1051.71L1781.93 1051.88L1783.53 1052.04L1785.12 1052.2L1786.72 1052.35L1788.32 1052.5L1789.92 1052.64L1791.52 1052.78L1793.12 1052.91L1794.71 1053.03L1796.31 1053.15L1797.91 1053.26L1799.51 1053.37L1801.11 1053.48L1802.71 1053.57L1804.31 1053.67L1805.9 1053.76L1807.5 1053.85L1809.1 1053.93L1810.7 1054.01L1812.3 1054.08L1813.89 1054.16L1815.49 1054.23L1817.09 1054.29L1818.69 1054.35L1820.29 1054.41L1821.89 1054.47L1823.49 1054.53L1825.08 1054.58L1826.68 1054.63L1828.28 1054.68L1829.88 1054.73L1831.48 1054.77L1833.08 1054.81L1834.67 1054.86L1836.27 1054.9L1837.87 1054.94L1839.47 1054.97L1841.07 1055.01L1842.66 1055.05L1844.26 1055.08L1845.86 1055.11L1847.46 1055.14L1849.06 1055.18L1850.66 1055.21L1852.26 1055.24L1853.85 1055.27L1855.45 1055.29L1857.05 1055.32L1858.65 1055.35L1860.25 1055.38L1861.85 1055.4L1863.44 1055.43L1865.04 1055.45L1866.64 1055.48L1868.24 1055.5L1869.84 1055.53L1871.43 1055.55L1873.03 1055.58L1874.63 1055.6L1876.23 1055.62L1877.83 1055.65L1879.43 1055.67L1881.03 1055.69L1882.62 1055.71L1884.22 1055.73L1885.82 1055.76L1887.42 1055.78L1889.02 1055.8L1890.62 1055.82L1892.21 1055.84L1893.81 1055.86L1895.41 1055.88L1897.01 1055.9L1898.61 1055.93L1900.2 1055.95L1901.8 1055.97L1903.4 1055.99L1905 1056.01" stroke="#FFC35A" stroke-width="2" fill="none"/>
<path d="M1425.5 1038.48L1427.1 1038.49L1428.7 1038.49L1430.3 1038.5L1431.89 1038.5L1433.49 1038.51L1435.09 1038.51L1436.69 1038.51L1438.29 1038.51L1439.88 1038.51L1441.48 1038.51L1443.08 1038.51L1444.68 1038.5L1446.28 1038.5L1447.88 1038.49L1449.47 1038.48L1451.07 1038.46L1452.67 1038.45L1454.27 1038.43L1455.87 1038.41L1457.47 1038.39L1459.07 1038.36L1460.66 1038.33L1462.26 1038.3L1463.86 1038.27L1465.46 1038.23L1467.06 1038.19L1468.65 1038.14L1470.25 1038.09L1471.85 1038.04L1473.45 1037.99L1475.05 1037.93L1476.65 1037.86L1478.24 1037.8L1479.84 1037.73L1481.44 1037.65L1483.04 1037.57L1484.64 1037.49L1486.24 1037.41L1487.84 1037.32L1489.43 1037.23L1491.03 1037.13L1492.63 1037.03L1494.23 1036.93L1495.83 1036.83L1497.42 1036.72L1499.02 1036.61L1500.62 1036.5L1502.22 1036.39L1503.82 1036.27L1505.42 1036.16L1507.02 1036.04L1508.61 1035.93L1510.21 1035.82L1511.81 1035.7L1513.41 1035.59L1515.01 1035.48L1516.61 1035.37L1518.2 1035.27L1519.8 1035.17L1521.4 1035.07L1523 1034.98L1524.6 1034.9L1526.19 1034.82L1527.79 1034.75L1529.39 1034.69L1530.99 1034.63L1532.59 1034.59L1534.19 1034.55L1535.79 1034.53L1537.38 1034.51L1538.98 1034.51L1540.58 1034.51L1542.18 1034.53L1543.78 1034.55L1545.38 1034.59L1546.97 1034.64L1548.57 1034.7L1550.17 1034.77L1551.77 1034.84L1553.37 1034.93L1554.96 1035.03L1556.56 1035.13L1558.16 1035.24L1559.76 1035.35L1561.36 1035.48L1562.96 1035.6L1564.56 1035.74L1566.15 1035.87L1567.75 1036.01L1569.35 1036.15L1570.95 1036.3L1572.55 1036.44L1574.14 1036.59L1575.74 1036.73L1577.34 1036.88L1578.94 1037.03L1580.54 1037.17L1582.14 1037.31L1583.74 1037.46L1585.33 1037.6L1586.93 1037.73L1588.53 1037.87L1590.13 1038L1591.73 1038.13L1593.33 1038.26L1594.92 1038.38L1596.52 1038.5L1598.12 1038.61L1599.72 1038.73L1601.32 1038.83L1602.91 1038.94L1604.51 1039.04L1606.11 1039.13L1607.71 1039.22L1609.31 1039.31L1610.91 1039.39L1612.51 1039.47L1614.1 1039.55L1615.7 1039.62L1617.3 1039.69L1618.9 1039.75L1620.5 1039.81L1622.1 1039.87L1623.69 1039.92L1625.29 1039.97L1626.89 1040.02L1628.49 1040.06L1630.09 1040.11L1631.68 1040.14L1633.28 1040.18L1634.88 1040.21L1636.48 1040.24L1638.08 1040.26L1639.68 1040.29L1641.28 1040.31L1642.87 1040.32L1644.47 1040.34L1646.07 1040.34L1647.67 1040.35L1649.27 1040.35L1650.87 1040.34L1652.46 1040.33L1654.06 1040.31L1655.66 1040.28L1657.26 1040.23L1658.86 1040.17L1660.45 1040.1L1662.05 1040L1663.65 1039.88L1665.25 1039.73L1666.85 1039.54L1668.45 1039.31L1670.05 1039.02L1671.64 1038.67L1673.24 1038.25L1674.84 1037.75L1676.44 1037.15L1678.04 1036.44L1679.63 1035.61L1681.23 1034.64L1682.83 1033.5L1684.43 1032.2L1686.03 1030.7L1687.63 1029L1689.22 1027.08L1690.82 1024.92L1692.42 1022.51L1694.02 1019.84L1695.62 1016.92L1697.22 1013.73L1698.82 1010.28L1700.41 1006.58L1702.01 1002.64L1703.61 998.48L1705.21 994.12L1706.81 989.61L1708.4 984.98L1710 980.27L1711.6 975.54L1713.2 970.83L1714.8 966.22L1716.4 961.76L1717.99 957.53L1719.59 953.59L1721.19 950L1722.79 946.84L1724.39 944.16L1725.99 942.02L1727.59 940.47L1729.18 939.54L1730.78 939.26L1732.38 939.63L1733.98 940.66L1735.58 942.33L1737.17 944.59L1738.77 947.42L1740.37 950.75L1741.97 954.53L1743.57 958.69L1745.17 963.16L1746.76 967.89L1748.36 972.79L1749.96 977.8L1751.56 982.87L1753.16 987.93L1754.76 992.93L1756.36 997.82L1757.95 1002.56L1759.55 1007.11L1761.15 1011.45L1762.75 1015.56L1764.35 1019.41L1765.94 1022.99L1767.54 1026.31L1769.14 1029.35L1770.74 1032.13L1772.34 1034.66L1773.94 1036.93L1775.54 1038.97L1777.13 1040.79L1778.73 1042.4L1780.33 1043.83L1781.93 1045.08L1783.53 1046.18L1785.12 1047.14L1786.72 1047.98L1788.32 1048.71L1789.92 1049.35L1791.52 1049.9L1793.12 1050.38L1794.71 1050.8L1796.31 1051.16L1797.91 1051.48L1799.51 1051.76L1801.11 1052.01L1802.71 1052.23L1804.31 1052.43L1805.9 1052.61L1807.5 1052.77L1809.1 1052.92L1810.7 1053.05L1812.3 1053.17L1813.89 1053.29L1815.49 1053.4L1817.09 1053.5L1818.69 1053.59L1820.29 1053.68L1821.89 1053.76L1823.49 1053.84L1825.08 1053.92L1826.68 1053.99L1828.28 1054.06L1829.88 1054.13L1831.48 1054.19L1833.08 1054.25L1834.67 1054.31L1836.27 1054.37L1837.87 1054.42L1839.47 1054.47L1841.07 1054.52L1842.66 1054.57L1844.26 1054.62L1845.86 1054.66L1847.46 1054.71L1849.06 1054.75L1850.66 1054.79L1852.26 1054.83L1853.85 1054.87L1855.45 1054.91L1857.05 1054.95L1858.65 1054.99L1860.25 1055.02L1861.85 1055.06L1863.44 1055.09L1865.04 1055.12L1866.64 1055.16L1868.24 1055.19L1869.84 1055.22L1871.43 1055.25L1873.03 1055.28L1874.63 1055.31L1876.23 1055.34L1877.83 1055.37L1879.43 1055.4L1881.03 1055.42L1882.62 1055.45L1884.22 1055.48L1885.82 1055.51L1887.42 1055.53L1889.02 1055.56L1890.62 1055.59L1892.21 1055.61L1893.81 1055.64L1895.41 1055.66L1897.01 1055.69L1898.61 1055.71L1900.2 1055.74L1901.8 1055.76L1903.4 1055.79L1905 1055.81" stroke="#3CB38D" stroke-width="2" fill="none"/>
<path d="M1425.5 1038.36L1427.1 1038.37L1428.7 1038.37L1430.3 1038.38L1431.89 1038.38L1433.49 1038.39L1435.09 1038.39L1436.69 1038.39L1438.29 1038.39L1439.88 1038.39L1441.48 1038.38L1443.08 1038.38L1444.68 1038.37L1446.28 1038.37L1447.88 1038.35L1449.47 1038.34L1451.07 1038.33L1452.67 1038.31L1454.27 1038.29L1455.87 1038.27L1457.47 1038.25L1459.07 1038.22L1460.66 1038.19L1462.26 1038.16L1463.86 1038.12L1465.46 1038.08L1467.06 1038.04L1468.65 1037.99L1470.25 1037.94L1471.85 1037.89L1473.45 1037.83L1475.05 1037.77L1476.65 1037.71L1478.24 1037.64L1479.84 1037.57L1481.44 1037.49L1483.04 1037.41L1484.64 1037.33L1486.24 1037.24L1487.84 1037.15L1489.43 1037.06L1491.03 1036.96L1492.63 1036.86L1494.23 1036.75L1495.83 1036.65L1497.42 1036.54L1499.02 1036.43L1500.62 1036.32L1502.22 1036.2L1503.82 1036.09L1505.42 1035.97L1507.02 1035.85L1508.61 1035.74L1510.21 1035.62L1511.81 1035.5L1513.41 1035.39L1515.01 1035.28L1516.61 1035.17L1518.2 1035.06L1519.8 1034.96L1521.4 1034.86L1523 1034.77L1524.6 1034.68L1526.19 1034.6L1527.79 1034.53L1529.39 1034.47L1530.99 1034.41L1532.59 1034.36L1534.19 1034.32L1535.79 1034.29L1537.38 1034.27L1538.98 1034.27L1540.58 1034.27L1542.18 1034.28L1543.78 1034.31L1545.38 1034.34L1546.97 1034.38L1548.57 1034.44L1550.17 1034.5L1551.77 1034.58L1553.37 1034.66L1554.96 1034.75L1556.56 1034.85L1558.16 1034.96L1559.76 1035.07L1561.36 1035.19L1562.96 1035.32L1564.56 1035.44L1566.15 1035.58L1567.75 1035.71L1569.35 1035.85L1570.95 1035.99L1572.55 1036.13L1574.14 1036.27L1575.74 1036.41L1577.34 1036.56L1578.94 1036.7L1580.54 1036.84L1582.14 1036.98L1583.74 1037.11L1585.33 1037.25L1586.93 1037.38L1588.53 1037.51L1590.13 1037.64L1591.73 1037.76L1593.33 1037.89L1594.92 1038L1596.52 1038.12L1598.12 1038.23L1599.72 1038.33L1601.32 1038.43L1602.91 1038.53L1604.51 1038.63L1606.11 1038.72L1607.71 1038.8L1609.31 1038.88L1610.91 1038.96L1612.51 1039.03L1614.1 1039.1L1615.7 1039.17L1617.3 1039.23L1618.9 1039.29L1620.5 1039.34L1622.1 1039.39L1623.69 1039.44L1625.29 1039.48L1626.89 1039.52L1628.49 1039.56L1630.09 1039.59L1631.68 1039.63L1633.28 1039.65L1634.88 1039.68L1636.48 1039.7L1638.08 1039.72L1639.68 1039.74L1641.28 1039.75L1642.87 1039.77L1644.47 1039.78L1646.07 1039.79L1647.67 1039.79L1649.27 1039.8L1650.87 1039.8L1652.46 1039.8L1654.06 1039.79L1655.66 1039.79L1657.26 1039.78L1658.86 1039.77L1660.45 1039.76L1662.05 1039.74L1663.65 1039.73L1665.25 1039.7L1666.85 1039.68L1668.45 1039.65L1670.05 1039.61L1671.64 1039.57L1673.24 1039.51L1674.84 1039.45L1676.44 1039.38L1678.04 1039.3L1679.63 1039.2L1681.23 1039.07L1682.83 1038.93L1684.43 1038.76L1686.03 1038.55L1687.63 1038.31L1689.22 1038.02L1690.82 1037.67L1692.42 1037.26L1694.02 1036.77L1695.62 1036.19L1697.22 1035.52L1698.82 1034.72L1700.41 1033.79L1702.01 1032.71L1703.61 1031.45L1705.21 1030L1706.81 1028.33L1708.4 1026.42L1710 1024.24L1711.6 1021.76L1713.2 1018.96L1714.8 1015.81L1716.4 1012.28L1717.99 1008.36L1719.59 1004.01L1721.19 999.21L1722.79 993.95L1724.39 988.21L1725.99 981.99L1727.59 975.27L1729.18 968.06L1730.78 960.37L1732.38 952.21L1733.98 943.61L1735.58 934.6L1737.17 925.22L1738.77 915.52L1740.37 905.56L1741.97 895.41L1743.57 885.13L1745.17 874.83L1746.76 864.57L1748.36 854.47L1749.96 844.62L1751.56 835.12L1753.16 826.09L1754.76 817.63L1756.36 809.86L1757.95 802.87L1759.55 796.76L1761.15 791.63L1762.75 787.55L1764.35 784.58L1765.94 782.79L1767.54 782.2L1769.14 782.83L1770.74 784.66L1772.34 787.67L1773.94 791.82L1775.54 797.04L1777.13 803.26L1778.73 810.39L1780.33 818.32L1781.93 826.97L1783.53 836.22L1785.12 845.96L1786.72 856.09L1788.32 866.5L1789.92 877.07L1791.52 887.73L1793.12 898.37L1794.71 908.9L1796.31 919.26L1797.91 929.36L1799.51 939.16L1801.11 948.59L1802.71 957.61L1804.31 966.19L1805.9 974.3L1807.5 981.92L1809.1 989.04L1810.7 995.66L1812.3 1001.79L1813.89 1007.42L1815.49 1012.57L1817.09 1017.26L1818.69 1021.52L1820.29 1025.35L1821.89 1028.8L1823.49 1031.88L1825.08 1034.62L1826.68 1037.05L1828.28 1039.19L1829.88 1041.08L1831.48 1042.74L1833.08 1044.18L1834.67 1045.44L1836.27 1046.54L1837.87 1047.49L1839.47 1048.32L1841.07 1049.03L1842.66 1049.65L1844.26 1050.18L1845.86 1050.64L1847.46 1051.05L1849.06 1051.39L1850.66 1051.7L1852.26 1051.96L1853.85 1052.2L1855.45 1052.4L1857.05 1052.59L1858.65 1052.75L1860.25 1052.9L1861.85 1053.03L1863.44 1053.16L1865.04 1053.27L1866.64 1053.38L1868.24 1053.47L1869.84 1053.57L1871.43 1053.65L1873.03 1053.74L1874.63 1053.82L1876.23 1053.89L1877.83 1053.96L1879.43 1054.03L1881.03 1054.1L1882.62 1054.16L1884.22 1054.23L1885.82 1054.29L1887.42 1054.35L1889.02 1054.4L1890.62 1054.46L1892.21 1054.51L1893.81 1054.57L1895.41 1054.62L1897.01 1054.67L1898.61 1054.72L1900.2 1054.77L1901.8 1054.82L1903.4 1054.86L1905 1054.91" stroke="#1C8FD3" stroke-width="2" fill="none"/>
<path d="M1425.5 1038.52L1427.1 1038.53L1428.7 1038.54L1430.3 1038.54L1431.89 1038.55L1433.49 1038.55L1435.09 1038.56L1436.69 1038.56L1438.29 1038.56L1439.88 1038.56L1441.48 1038.56L1443.08 1038.56L1444.68 1038.55L1446.28 1038.55L1447.88 1038.54L1449.47 1038.53L1451.07 1038.51L1452.67 1038.5L1454.27 1038.48L1455.87 1038.46L1457.47 1038.44L1459.07 1038.41L1460.66 1038.39L1462.26 1038.35L1463.86 1038.32L1465.46 1038.28L1467.06 1038.24L1468.65 1038.2L1470.25 1038.15L1471.85 1038.1L1473.45 1038.05L1475.05 1037.99L1476.65 1037.92L1478.24 1037.86L1479.84 1037.79L1481.44 1037.72L1483.04 1037.64L1484.64 1037.56L1486.24 1037.47L1487.84 1037.38L1489.43 1037.29L1491.03 1037.2L1492.63 1037.1L1494.23 1037L1495.83 1036.9L1497.42 1036.79L1499.02 1036.68L1500.62 1036.57L1502.22 1036.46L1503.82 1036.35L1505.42 1036.23L1507.02 1036.12L1508.61 1036.01L1510.21 1035.89L1511.81 1035.78L1513.41 1035.67L1515.01 1035.56L1516.61 1035.46L1518.2 1035.35L1519.8 1035.25L1521.4 1035.16L1523 1035.07L1524.6 1034.99L1526.19 1034.91L1527.79 1034.84L1529.39 1034.78L1530.99 1034.73L1532.59 1034.68L1534.19 1034.65L1535.79 1034.62L1537.38 1034.61L1538.98 1034.61L1540.58 1034.61L1542.18 1034.63L1543.78 1034.66L1545.38 1034.7L1546.97 1034.75L1548.57 1034.81L1550.17 1034.88L1551.77 1034.96L1553.37 1035.04L1554.96 1035.14L1556.56 1035.25L1558.16 1035.36L1559.76 1035.48L1561.36 1035.6L1562.96 1035.73L1564.56 1035.86L1566.15 1036L1567.75 1036.14L1569.35 1036.29L1570.95 1036.43L1572.55 1036.58L1574.14 1036.73L1575.74 1036.88L1577.34 1037.03L1578.94 1037.17L1580.54 1037.32L1582.14 1037.47L1583.74 1037.61L1585.33 1037.75L1586.93 1037.9L1588.53 1038.03L1590.13 1038.17L1591.73 1038.3L1593.33 1038.43L1594.92 1038.55L1596.52 1038.68L1598.12 1038.79L1599.72 1038.91L1601.32 1039.02L1602.91 1039.13L1604.51 1039.23L1606.11 1039.33L1607.71 1039.42L1609.31 1039.51L1610.91 1039.6L1612.51 1039.68L1614.1 1039.76L1615.7 1039.84L1617.3 1039.91L1618.9 1039.98L1620.5 1040.04L1622.1 1040.1L1623.69 1040.16L1625.29 1040.22L1626.89 1040.27L1628.49 1040.31L1630.09 1040.36L1631.68 1040.39L1633.28 1040.43L1634.88 1040.46L1636.48 1040.49L1638.08 1040.51L1639.68 1040.52L1641.28 1040.53L1642.87 1040.52L1644.47 1040.51L1646.07 1040.47L1647.67 1040.42L1649.27 1040.35L1650.87 1040.25L1652.46 1040.12L1654.06 1039.94L1655.66 1039.71L1657.26 1039.42L1658.86 1039.07L1660.45 1038.62L1662.05 1038.09L1663.65 1037.44L1665.25 1036.67L1666.85 1035.76L1668.45 1034.71L1670.05 1033.49L1671.64 1032.11L1673.24 1030.55L1674.84 1028.81L1676.44 1026.9L1678.04 1024.83L1679.63 1022.6L1681.23 1020.25L1682.83 1017.78L1684.43 1015.24L1686.03 1012.67L1687.63 1010.11L1689.22 1007.61L1690.82 1005.21L1692.42 1002.98L1694.02 1000.98L1695.62 999.24L1697.22 997.84L1698.82 996.8L1700.41 996.16L1702.01 995.95L1703.61 996.18L1705.21 996.84L1706.81 997.92L1708.4 999.38L1710 1001.18L1711.6 1003.27L1713.2 1005.61L1714.8 1008.13L1716.4 1010.79L1717.99 1013.52L1719.59 1016.29L1721.19 1019.03L1722.79 1021.72L1724.39 1024.32L1725.99 1026.8L1727.59 1029.14L1729.18 1031.32L1730.78 1033.34L1732.38 1035.18L1733.98 1036.85L1735.58 1038.36L1737.17 1039.7L1738.77 1040.9L1740.37 1041.96L1741.97 1042.9L1743.57 1043.73L1745.17 1044.46L1746.76 1045.1L1748.36 1045.68L1749.96 1046.19L1751.56 1046.65L1753.16 1047.06L1754.76 1047.44L1756.36 1047.8L1757.95 1048.12L1759.55 1048.43L1761.15 1048.72L1762.75 1049L1764.35 1049.26L1765.94 1049.51L1767.54 1049.76L1769.14 1049.99L1770.74 1050.22L1772.34 1050.44L1773.94 1050.66L1775.54 1050.87L1777.13 1051.07L1778.73 1051.26L1780.33 1051.45L1781.93 1051.63L1783.53 1051.8L1785.12 1051.97L1786.72 1052.13L1788.32 1052.29L1789.92 1052.44L1791.52 1052.58L1793.12 1052.71L1794.71 1052.85L1796.31 1052.97L1797.91 1053.09L1799.51 1053.21L1801.11 1053.31L1802.71 1053.42L1804.31 1053.52L1805.9 1053.61L1807.5 1053.71L1809.1 1053.79L1810.7 1053.88L1812.3 1053.96L1813.89 1054.03L1815.49 1054.1L1817.09 1054.17L1818.69 1054.24L1820.29 1054.3L1821.89 1054.36L1823.49 1054.42L1825.08 1054.48L1826.68 1054.53L1828.28 1054.58L1829.88 1054.63L1831.48 1054.68L1833.08 1054.72L1834.67 1054.77L1836.27 1054.81L1837.87 1054.85L1839.47 1054.89L1841.07 1054.93L1842.66 1054.97L1844.26 1055L1845.86 1055.04L1847.46 1055.07L1849.06 1055.1L1850.66 1055.14L1852.26 1055.17L1853.85 1055.2L1855.45 1055.23L1857.05 1055.26L1858.65 1055.29L1860.25 1055.32L1861.85 1055.34L1863.44 1055.37L1865.04 1055.4L1866.64 1055.42L1868.24 1055.45L1869.84 1055.47L1871.43 1055.5L1873.03 1055.52L1874.63 1055.55L1876.23 1055.57L1877.83 1055.6L1879.43 1055.62L1881.03 1055.64L1882.62 1055.67L1884.22 1055.69L1885.82 1055.71L1887.42 1055.73L1889.02 1055.76L1890.62 1055.78L1892.21 1055.8L1893.81 1055.82L1895.41 1055.84L1897.01 1055.86L1898.61 1055.89L1900.2 1055.91L1901.8 1055.93L1903.4 1055.95L1905 1055.97" stroke="#EE4F80" stroke-width="2" fill="none"/>
<path d="M1425.5 1038.21L1427.1 1038.22L1428.7 1038.22L1430.3 1038.23L1431.89 1038.23L1433.49 1038.23L1435.09 1038.23L1436.69 1038.23L1438.29 1038.23L1439.88 1038.22L1441.48 1038.22L1443.08 1038.21L1444.68 1038.2L1446.28 1038.19L1447.88 1038.18L1449.47 1038.16L1451.07 1038.15L1452.67 1038.13L1454.27 1038.11L1455.87 1038.08L1457.47 1038.05L1459.07 1038.02L1460.66 1037.99L1462.26 1037.96L1463.86 1037.92L1465.46 1037.87L1467.06 1037.83L1468.65 1037.78L1470.25 1037.73L1471.85 1037.67L1473.45 1037.61L1475.05 1037.55L1476.65 1037.48L1478.24 1037.41L1479.84 1037.33L1481.44 1037.25L1483.04 1037.17L1484.64 1037.08L1486.24 1036.99L1487.84 1036.89L1489.43 1036.8L1491.03 1036.7L1492.63 1036.59L1494.23 1036.48L1495.83 1036.37L1497.42 1036.26L1499.02 1036.14L1500.62 1036.02L1502.22 1035.91L1503.82 1035.78L1505.42 1035.66L1507.02 1035.54L1508.61 1035.42L1510.21 1035.29L1511.81 1035.17L1513.41 1035.05L1515.01 1034.93L1516.61 1034.82L1518.2 1034.71L1519.8 1034.6L1521.4 1034.49L1523 1034.39L1524.6 1034.29L1526.19 1034.21L1527.79 1034.12L1529.39 1034.05L1530.99 1033.98L1532.59 1033.92L1534.19 1033.87L1535.79 1033.83L1537.38 1033.8L1538.98 1033.77L1540.58 1033.76L1542.18 1033.75L1543.78 1033.76L1545.38 1033.77L1546.97 1033.79L1548.57 1033.82L1550.17 1033.86L1551.77 1033.9L1553.37 1033.94L1554.96 1033.99L1556.56 1034.05L1558.16 1034.1L1559.76 1034.15L1561.36 1034.21L1562.96 1034.26L1564.56 1034.3L1566.15 1034.34L1567.75 1034.37L1569.35 1034.39L1570.95 1034.4L1572.55 1034.4L1574.14 1034.38L1575.74 1034.34L1577.34 1034.29L1578.94 1034.21L1580.54 1034.11L1582.14 1033.99L1583.74 1033.85L1585.33 1033.67L1586.93 1033.47L1588.53 1033.23L1590.13 1032.97L1591.73 1032.67L1593.33 1032.34L1594.92 1031.97L1596.52 1031.57L1598.12 1031.14L1599.72 1030.67L1601.32 1030.16L1602.91 1029.61L1604.51 1029.03L1606.11 1028.41L1607.71 1027.76L1609.31 1027.07L1610.91 1026.34L1612.51 1025.57L1614.1 1024.77L1615.7 1023.93L1617.3 1023.06L1618.9 1022.15L1620.5 1021.21L1622.1 1020.24L1623.69 1019.24L1625.29 1018.21L1626.89 1017.17L1628.49 1016.11L1630.09 1015.05L1631.68 1013.99L1633.28 1012.94L1634.88 1011.92L1636.48 1010.93L1638.08 1009.99L1639.68 1009.12L1641.28 1008.32L1642.87 1007.61L1644.47 1007L1646.07 1006.51L1647.67 1006.14L1649.27 1005.9L1650.87 1005.78L1652.46 1005.8L1654.06 1005.94L1655.66 1006.18L1657.26 1006.51L1658.86 1006.9L1660.45 1007.32L1662.05 1007.73L1663.65 1008.11L1665.25 1008.41L1666.85 1008.58L1668.45 1008.59L1670.05 1008.4L1671.64 1007.97L1673.24 1007.26L1674.84 1006.25L1676.44 1004.91L1678.04 1003.22L1679.63 1001.18L1681.23 998.76L1682.83 995.98L1684.43 992.85L1686.03 989.38L1687.63 985.59L1689.22 981.51L1690.82 977.18L1692.42 972.63L1694.02 967.9L1695.62 963.03L1697.22 958.05L1698.82 953.02L1700.41 947.95L1702.01 942.86L1703.61 937.78L1705.21 932.71L1706.81 927.63L1708.4 922.53L1710 917.4L1711.6 912.22L1713.2 906.96L1714.8 901.6L1716.4 896.13L1717.99 890.54L1719.59 884.82L1721.19 878.97L1722.79 873.01L1724.39 866.94L1725.99 860.79L1727.59 854.57L1729.18 848.32L1730.78 842.04L1732.38 835.77L1733.98 829.53L1735.58 823.33L1737.17 817.19L1738.77 811.13L1740.37 805.17L1741.97 799.32L1743.57 793.62L1745.17 788.09L1746.76 782.78L1748.36 777.71L1749.96 772.94L1751.56 768.53L1753.16 764.52L1754.76 761L1756.36 758.01L1757.95 755.64L1759.55 753.94L1761.15 752.99L1762.75 752.85L1764.35 753.56L1765.94 755.18L1767.54 757.73L1769.14 761.22L1770.74 765.65L1772.34 771L1773.94 777.25L1775.54 784.33L1777.13 792.2L1778.73 800.78L1780.33 809.98L1781.93 819.73L1783.53 829.93L1785.12 840.49L1786.72 851.31L1788.32 862.31L1789.92 873.4L1791.52 884.48L1793.12 895.48L1794.71 906.32L1796.31 916.93L1797.91 927.25L1799.51 937.23L1801.11 946.81L1802.71 955.96L1804.31 964.65L1805.9 972.85L1807.5 980.56L1809.1 987.75L1810.7 994.43L1812.3 1000.61L1813.89 1006.29L1815.49 1011.49L1817.09 1016.22L1818.69 1020.51L1820.29 1024.38L1821.89 1027.86L1823.49 1030.97L1825.08 1033.74L1826.68 1036.19L1828.28 1038.36L1829.88 1040.28L1831.48 1041.95L1833.08 1043.42L1834.67 1044.7L1836.27 1045.82L1837.87 1046.79L1839.47 1047.64L1841.07 1048.37L1842.66 1049L1844.26 1049.55L1845.86 1050.03L1847.46 1050.44L1849.06 1050.81L1850.66 1051.12L1852.26 1051.4L1853.85 1051.65L1855.45 1051.87L1857.05 1052.06L1858.65 1052.24L1860.25 1052.4L1861.85 1052.55L1863.44 1052.68L1865.04 1052.8L1866.64 1052.92L1868.24 1053.03L1869.84 1053.13L1871.43 1053.22L1873.03 1053.32L1874.63 1053.4L1876.23 1053.49L1877.83 1053.57L1879.43 1053.64L1881.03 1053.72L1882.62 1053.79L1884.22 1053.86L1885.82 1053.93L1887.42 1053.99L1889.02 1054.06L1890.62 1054.12L1892.21 1054.18L1893.81 1054.24L1895.41 1054.3L1897.01 1054.35L1898.61 1054.41L1900.2 1054.46L1901.8 1054.52L1903.4 1054.57L1905 1054.62" stroke="#444444" stroke-width="2.2" fill="none"/>
<path d="M1425.5 1038.55L1427.1 1038.55L1428.7 1038.56L1430.3 1038.57L1431.89 1038.58L1433.49 1038.58L1435.09 1038.58L1436.69 1038.59L1438.29 1038.59L1439.88 1038.59L1441.48 1038.59L1443.08 1038.58L1444.68 1038.58L1446.28 1038.57L1447.88 1038.57L1449.47 1038.56L1451.07 1038.54L1452.67 1038.53L1454.27 1038.51L1455.87 1038.49L1457.47 1038.47L1459.07 1038.45L1460.66 1038.42L1462.26 1038.39L1463.86 1038.35L1465.46 1038.32L1467.06 1038.28L1468.65 1038.23L1470.25 1038.19L1471.85 1038.14L1473.45 1038.08L1475.05 1038.02L1476.65 1037.96L1478.24 1037.9L1479.84 1037.83L1481.44 1037.75L1483.04 1037.68L1484.64 1037.6L1486.24 1037.51L1487.84 1037.42L1489.43 1037.33L1491.03 1037.24L1492.63 1037.14L1494.23 1037.04L1495.83 1036.94L1497.42 1036.83L1499.02 1036.73L1500.62 1036.62L1502.22 1036.51L1503.82 1036.4L1505.42 1036.28L1507.02 1036.17L1508.61 1036.06L1510.21 1035.94L1511.81 1035.83L1513.41 1035.72L1515.01 1035.61L1516.61 1035.51L1518.2 1035.41L1519.8 1035.31L1521.4 1035.22L1523 1035.13L1524.6 1035.05L1526.19 1034.97L1527.79 1034.9L1529.39 1034.84L1530.99 1034.79L1532.59 1034.75L1534.19 1034.71L1535.79 1034.69L1537.38 1034.68L1538.98 1034.68L1540.58 1034.68L1542.18 1034.7L1543.78 1034.73L1545.38 1034.77L1546.97 1034.82L1548.57 1034.89L1550.17 1034.96L1551.77 1035.04L1553.37 1035.13L1554.96 1035.23L1556.56 1035.33L1558.16 1035.45L1559.76 1035.57L1561.36 1035.69L1562.96 1035.82L1564.56 1035.96L1566.15 1036.1L1567.75 1036.24L1569.35 1036.39L1570.95 1036.54L1572.55 1036.69L1574.14 1036.84L1575.74 1036.99L1577.34 1037.14L1578.94 1037.29L1580.54 1037.44L1582.14 1037.59L1583.74 1037.74L1585.33 1037.89L1586.93 1038.03L1588.53 1038.17L1590.13 1038.31L1591.73 1038.45L1593.33 1038.58L1594.92 1038.71L1596.52 1038.84L1598.12 1038.96L1599.72 1039.08L1601.32 1039.2L1602.91 1039.31L1604.51 1039.42L1606.11 1039.52L1607.71 1039.62L1609.31 1039.72L1610.91 1039.82L1612.51 1039.91L1614.1 1039.99L1615.7 1040.08L1617.3 1040.16L1618.9 1040.23L1620.5 1040.31L1622.1 1040.38L1623.69 1040.45L1625.29 1040.51L1626.89 1040.58L1628.49 1040.64L1630.09 1040.7L1631.68 1040.75L1633.28 1040.81L1634.88 1040.86L1636.48 1040.91L1638.08 1040.96L1639.68 1041L1641.28 1041.05L1642.87 1041.09L1644.47 1041.14L1646.07 1041.18L1647.67 1041.22L1649.27 1041.26L1650.87 1041.3L1652.46 1041.34L1654.06 1041.38L1655.66 1041.42L1657.26 1041.46L1658.86 1041.5L1660.45 1041.54L1662.05 1041.58L1663.65 1041.62L1665.25 1041.66L1666.85 1041.7L1668.45 1041.74L1670.05 1041.78L1671.64 1041.82L1673.24 1041.86L1674.84 1041.91L1676.44 1041.95L1678.04 1042L1679.63 1042.05L1681.23 1042.1L1682.83 1042.15L1684.43 1042.2L1686.03 1042.26L1687.63 1042.31L1689.22 1042.37L1690.82 1042.43L1692.42 1042.5L1694.02 1042.57L1695.62 1042.64L1697.22 1042.71L1698.82 1042.78L1700.41 1042.86L1702.01 1042.95L1703.61 1043.03L1705.21 1043.12L1706.81 1043.22L1708.4 1043.32L1710 1043.42L1711.6 1043.53L1713.2 1043.64L1714.8 1043.76L1716.4 1043.88L1717.99 1044.01L1719.59 1044.15L1721.19 1044.29L1722.79 1044.43L1724.39 1044.58L1725.99 1044.74L1727.59 1044.9L1729.18 1045.07L1730.78 1045.25L1732.38 1045.43L1733.98 1045.61L1735.58 1045.8L1737.17 1046L1738.77 1046.2L1740.37 1046.4L1741.97 1046.61L1743.57 1046.83L1745.17 1047.05L1746.76 1047.27L1748.36 1047.49L1749.96 1047.71L1751.56 1047.94L1753.16 1048.17L1754.76 1048.4L1756.36 1048.63L1757.95 1048.86L1759.55 1049.08L1761.15 1049.31L1762.75 1049.53L1764.35 1049.75L1765.94 1049.97L1767.54 1050.19L1769.14 1050.4L1770.74 1050.61L1772.34 1050.81L1773.94 1051L1775.54 1051.2L1777.13 1051.38L1778.73 1051.56L1780.33 1051.74L1781.93 1051.91L1783.53 1052.07L1785.12 1052.23L1786.72 1052.38L1788.32 1052.53L1789.92 1052.67L1791.52 1052.8L1793.12 1052.93L1794.71 1053.06L1796.31 1053.17L1797.91 1053.29L1799.51 1053.4L1801.11 1053.5L1802.71 1053.6L1804.31 1053.69L1805.9 1053.78L1807.5 1053.87L1809.1 1053.95L1810.7 1054.03L1812.3 1054.11L1813.89 1054.18L1815.49 1054.25L1817.09 1054.31L1818.69 1054.37L1820.29 1054.43L1821.89 1054.49L1823.49 1054.55L1825.08 1054.6L1826.68 1054.65L1828.28 1054.7L1829.88 1054.74L1831.48 1054.79L1833.08 1054.83L1834.67 1054.87L1836.27 1054.91L1837.87 1054.95L1839.47 1054.99L1841.07 1055.02L1842.66 1055.06L1844.26 1055.09L1845.86 1055.13L1847.46 1055.16L1849.06 1055.19L1850.66 1055.22L1852.26 1055.25L1853.85 1055.28L1855.45 1055.31L1857.05 1055.34L1858.65 1055.36L1860.25 1055.39L1861.85 1055.42L1863.44 1055.44L1865.04 1055.47L1866.64 1055.49L1868.24 1055.52L1869.84 1055.54L1871.43 1055.56L1873.03 1055.59L1874.63 1055.61L1876.23 1055.63L1877.83 1055.66L1879.43 1055.68L1881.03 1055.7L1882.62 1055.72L1884.22 1055.74L1885.82 1055.77L1887.42 1055.79L1889.02 1055.81L1890.62 1055.83L1892.21 1055.85L1893.81 1055.87L1895.41 1055.89L1897.01 1055.91L1898.61 1055.93L1900.2 1055.96L1901.8 1055.98L1903.4 1056L1905 1056.02" stroke="#F2709C" stroke-width="2" fill="none"/>
<path d="M1424.5 1082.9L1906 1082.9" stroke="#000" stroke-width="2.1"/>
<path d="M1493.4 1082.9L1493.4 1090.9" stroke="#000" stroke-width="2.1"/>
<path d="M1630.6 1082.9L1630.6 1090.9" stroke="#000" stroke-width="2.1"/>
<path d="M1767.8 1082.9L1767.8 1090.9" stroke="#000" stroke-width="2.1"/>
<path d="M1905 1082.9L1905 1090.9" stroke="#000" stroke-width="2.1"/>
<path d="M1424.8 1082.9L1424.8 1087" stroke="#000" stroke-width="2.1"/>
<path d="M1562 1082.9L1562 1087" stroke="#000" stroke-width="2.1"/>
<path d="M1699.2 1082.9L1699.2 1087" stroke="#000" stroke-width="2.1"/>
<path d="M1836.4 1082.9L1836.4 1087" stroke="#000" stroke-width="2.1"/>
<text transform="translate(1493.4 1115.7)" font-size="25.4" font-weight="bold" stroke="#000" stroke-width="0.5" stroke-linejoin="round" text-anchor="middle">292</text>
<text transform="translate(1630.6 1115.7)" font-size="25.4" font-weight="bold" stroke="#000" stroke-width="0.5" stroke-linejoin="round" text-anchor="middle">288</text>
<text transform="translate(1767.8 1115.7)" font-size="25.4" font-weight="bold" stroke="#000" stroke-width="0.5" stroke-linejoin="round" text-anchor="middle">284</text>
<text transform="translate(1905 1115.7)" font-size="25.4" font-weight="bold" stroke="#000" stroke-width="0.5" stroke-linejoin="round" text-anchor="middle">280</text>
<text transform="translate(1665 1163.6) scale(1.0400 1)" font-size="31.2" font-weight="bold" stroke="#000" stroke-width="0.5" stroke-linejoin="round" text-anchor="middle">Bond Energy (eV)</text>
<path d="M1426.8 744.7L1472 744.7" stroke="#1C8FD3" stroke-width="2"/>
<text transform="translate(1476.6 751.7) scale(1.0050 1)" font-size="20" font-weight="bold" stroke="#000" stroke-width="0.5" stroke-linejoin="round">284.00 eV</text>
<path d="M1426.8 769.6L1472 769.6" stroke="#3CB38D" stroke-width="2"/>
<text transform="translate(1476.6 776.6) scale(1.0050 1)" font-size="20" font-weight="bold" stroke="#000" stroke-width="0.5" stroke-linejoin="round">285.07 eV</text>
<path d="M1426.8 794.5L1472 794.5" stroke="#EE4F80" stroke-width="2"/>
<text transform="translate(1476.6 801.5) scale(1.0050 1)" font-size="20" font-weight="bold" stroke="#000" stroke-width="0.5" stroke-linejoin="round">285.91 eV</text>
<path d="M1426.8 819.4L1472 819.4" stroke="#FFC35A" stroke-width="2"/>
<text transform="translate(1476.6 826.4) scale(1.0050 1)" font-size="20" font-weight="bold" stroke="#000" stroke-width="0.5" stroke-linejoin="round">287.32 eV</text>
<path d="M1426.8 844.3L1472 844.3" stroke="#A9DDF6" stroke-width="2"/>
<text transform="translate(1476.6 851.3) scale(1.0050 1)" font-size="20" font-weight="bold" stroke="#000" stroke-width="0.5" stroke-linejoin="round">287.70 eV</text>
<path d="M1426.8 869.2L1472 869.2" stroke="#F2709C" stroke-width="2"/>
<text transform="translate(1476.6 876.2) scale(1.0050 1)" font-size="20" font-weight="bold" stroke="#000" stroke-width="0.5" stroke-linejoin="round">290.60 eV</text>
<text transform="translate(1821.5 763.1)" font-size="36.5" stroke="#000" stroke-width="0.5">C1</text>
<text transform="translate(1866 763.1) scale(1.1000 1)" font-size="38" font-family='"Liberation Serif", "Times New Roman", serif' font-style="italic">s</text>
<text transform="translate(1728.5 781.5) scale(0.9900 1)" font-size="19.8" font-weight="bold" stroke="#000" stroke-width="0.5" stroke-linejoin="round">*C-C</text>
<text transform="translate(1691.5 922) scale(0.9900 1)" font-size="19.8" font-weight="bold" stroke="#000" stroke-width="0.5" stroke-linejoin="round">*C-N</text>
<text transform="translate(1662 985) scale(0.9900 1)" font-size="19.8" font-weight="bold" stroke="#000" stroke-width="0.5" stroke-linejoin="round">*C-O</text>
<text transform="translate(1609.5 1007) scale(0.9900 1)" font-size="19.8" font-weight="bold" stroke="#000" stroke-width="0.5" stroke-linejoin="round">*C=N</text>
<text transform="translate(1626 1061.5) scale(0.9900 1)" font-size="19.8" font-weight="bold" stroke="#000" stroke-width="0.5" stroke-linejoin="round">*C=O</text>
<text transform="translate(1483 1029) scale(0.9900 1)" font-size="19.8" font-weight="bold" stroke="#000" stroke-width="0.5" stroke-linejoin="round">*<tspan font-family='"Liberation Serif", "Times New Roman", serif' font-style="italic" font-size="19">π</tspan>-<tspan font-family='"Liberation Serif", "Times New Roman", serif' font-style="italic" font-size="19">π</tspan> stacking</text>
</g>
<g id="chart-f">
<rect x="125" y="1257.6" width="479.8" height="385.5" fill="none" stroke="#000" stroke-width="2.1"/>
<path d="M125 1643.1L125 1651.1" stroke="#000" stroke-width="2.1"/>
<path d="M190.65 1643.1L190.65 1651.1" stroke="#000" stroke-width="2.1"/>
<path d="M256.3 1643.1L256.3 1651.1" stroke="#000" stroke-width="2.1"/>
<path d="M321.95 1643.1L321.95 1651.1" stroke="#000" stroke-width="2.1"/>
<path d="M387.6 1643.1L387.6 1651.1" stroke="#000" stroke-width="2.1"/>
<path d="M453.25 1643.1L453.25 1651.1" stroke="#000" stroke-width="2.1"/>
<path d="M518.9 1643.1L518.9 1651.1" stroke="#000" stroke-width="2.1"/>
<path d="M584.55 1643.1L584.55 1651.1" stroke="#000" stroke-width="2.1"/>
<path d="M157.82 1643.1L157.82 1647.2" stroke="#000" stroke-width="2.1"/>
<path d="M223.47 1643.1L223.47 1647.2" stroke="#000" stroke-width="2.1"/>
<path d="M289.12 1643.1L289.12 1647.2" stroke="#000" stroke-width="2.1"/>
<path d="M354.77 1643.1L354.77 1647.2" stroke="#000" stroke-width="2.1"/>
<path d="M420.42 1643.1L420.42 1647.2" stroke="#000" stroke-width="2.1"/>
<path d="M486.07 1643.1L486.07 1647.2" stroke="#000" stroke-width="2.1"/>
<path d="M551.72 1643.1L551.72 1647.2" stroke="#000" stroke-width="2.1"/>
<path d="M117 1643.1L125 1643.1" stroke="#000" stroke-width="2.1"/>
<path d="M117 1514.6L125 1514.6" stroke="#000" stroke-width="2.1"/>
<path d="M117 1386.1L125 1386.1" stroke="#000" stroke-width="2.1"/>
<path d="M117 1257.6L125 1257.6" stroke="#000" stroke-width="2.1"/>
<path d="M120.9 1578.85L125 1578.85" stroke="#000" stroke-width="2.1"/>
<path d="M120.9 1450.35L125 1450.35" stroke="#000" stroke-width="2.1"/>
<path d="M120.9 1321.85L125 1321.85" stroke="#000" stroke-width="2.1"/>
<text transform="translate(125 1676.1)" font-size="25.4" font-weight="bold" stroke="#000" stroke-width="0.5" stroke-linejoin="round" text-anchor="middle">0</text>
<text transform="translate(190.65 1676.1)" font-size="25.4" font-weight="bold" stroke="#000" stroke-width="0.5" stroke-linejoin="round" text-anchor="middle">48</text>
<text transform="translate(256.3 1676.1)" font-size="25.4" font-weight="bold" stroke="#000" stroke-width="0.5" stroke-linejoin="round" text-anchor="middle">96</text>
<text transform="translate(321.95 1676.1)" font-size="25.4" font-weight="bold" stroke="#000" stroke-width="0.5" stroke-linejoin="round" text-anchor="middle">144</text>
<text transform="translate(387.6 1676.1)" font-size="25.4" font-weight="bold" stroke="#000" stroke-width="0.5" stroke-linejoin="round" text-anchor="middle">192</text>
<text transform="translate(453.25 1676.1)" font-size="25.4" font-weight="bold" stroke="#000" stroke-width="0.5" stroke-linejoin="round" text-anchor="middle">240</text>
<text transform="translate(518.9 1676.1)" font-size="25.4" font-weight="bold" stroke="#000" stroke-width="0.5" stroke-linejoin="round" text-anchor="middle">288</text>
<text transform="translate(584.55 1676.1)" font-size="25.4" font-weight="bold" stroke="#000" stroke-width="0.5" stroke-linejoin="round" text-anchor="middle">336</text>
<text transform="translate(111.6 1651.1) scale(0.9400 1)" font-size="26.6" font-weight="bold" stroke="#000" stroke-width="0.5" stroke-linejoin="round" text-anchor="end">0.0</text>
<text transform="translate(111.6 1522.6) scale(0.9400 1)" font-size="26.6" font-weight="bold" stroke="#000" stroke-width="0.5" stroke-linejoin="round" text-anchor="end">0.2</text>
<text transform="translate(111.6 1394.1) scale(0.9400 1)" font-size="26.6" font-weight="bold" stroke="#000" stroke-width="0.5" stroke-linejoin="round" text-anchor="end">0.4</text>
<text transform="translate(111.6 1265.6) scale(0.9400 1)" font-size="26.6" font-weight="bold" stroke="#000" stroke-width="0.5" stroke-linejoin="round" text-anchor="end">0.6</text>
<text transform="translate(364.6 1725) scale(0.9850 1)" font-size="32.7" font-weight="bold" stroke="#000" stroke-width="0.5" stroke-linejoin="round" text-anchor="middle">Time (hours)</text>
<text transform="translate(49.6 1432) rotate(-90) scale(1.0400 1)" font-size="30.8" font-weight="bold" stroke="#000" stroke-width="0.5" stroke-linejoin="round" text-anchor="middle">Released Ca<tspan dy="-11" font-size="21">2+</tspan><tspan dy="11"> (µmol)</tspan></text>
<path d="M126.37 1562V1581M121.67 1562H131.07M121.67 1581H131.07M127.74 1557V1575M123.04 1557H132.44M123.04 1575H132.44M130.47 1548V1579M125.77 1548H135.17M125.77 1579H135.17M135.94 1535V1553M131.24 1535H140.64M131.24 1553H140.64M141.41 1506.7V1546.9M136.71 1506.7H146.11M136.71 1546.9H146.11M157.82 1511.73V1534.03M153.12 1511.73H162.52M153.12 1534.03H162.52M190.65 1492.01V1529.99M185.95 1492.01H195.35M185.95 1529.99H195.35M223.47 1480.53V1510.92M218.77 1480.53H228.17M218.77 1510.92H228.17M289.12 1464.86V1494.43M284.42 1464.86H293.82M284.42 1494.43H293.82M354.77 1445.94V1477.46M350.07 1445.94H359.47M350.07 1477.46H359.47M584.55 1399.9V1438.2M579.85 1399.9H589.25M579.85 1438.2H589.25" stroke="#EE4F80" stroke-width="1.75" fill="none"/>
<path d="M125 1643.1L126.37 1572L127.74 1566L130.47 1562L135.94 1545L141.41 1527L157.82 1522.56L190.65 1510.11L223.47 1495.08L289.12 1479.4L354.77 1461.95L584.55 1419.2" stroke="#EE4F80" stroke-width="1.75" fill="none" stroke-linejoin="round"/>
<path d="M126.37 1558V1574M121.67 1558H131.07M121.67 1574H131.07M127.74 1552V1569M123.04 1552H132.44M123.04 1569H132.44M130.47 1548V1566M125.77 1548H135.17M125.77 1566H135.17M135.94 1535V1551M131.24 1535H140.64M131.24 1551H140.64M141.41 1523.7V1539.3M136.71 1523.7H146.11M136.71 1539.3H146.11M157.82 1513.83V1533.06M153.12 1513.83H162.52M153.12 1533.06H162.52M190.65 1503.16V1520.62M185.95 1503.16H195.35M185.95 1520.62H195.35M223.47 1486.68V1506.88M218.77 1486.68H228.17M218.77 1506.88H228.17M289.12 1469.7V1494.43M284.42 1469.7H293.82M284.42 1494.43H293.82M354.77 1455.64V1477.46M350.07 1455.64H359.47M350.07 1477.46H359.47M584.55 1406.6V1438.2M579.85 1406.6H589.25M579.85 1438.2H589.25" stroke="#3CB38D" stroke-width="1.75" fill="none"/>
<path d="M125 1643.1L126.37 1566L127.74 1561L130.47 1557L135.94 1543L141.41 1531.5L157.82 1523.53L190.65 1511.73L223.47 1496.86L289.12 1482.15L354.77 1466.79L584.55 1422.6" stroke="#3CB38D" stroke-width="1.75" fill="none" stroke-linejoin="round"/>
<path d="M126.37 1545V1575M121.67 1545H131.07M121.67 1575H131.07M127.74 1535V1568M123.04 1535H132.44M123.04 1568H132.44M130.47 1519.5V1560M125.77 1519.5H135.17M125.77 1560H135.17M135.94 1510.2V1545.5M131.24 1510.2H140.64M131.24 1545.5H140.64M141.41 1495.3V1525.4M136.71 1495.3H146.11M136.71 1525.4H146.11M157.82 1488.78V1518.19M153.12 1488.78H162.52M153.12 1518.19H162.52M190.65 1469.7V1495.56M185.95 1469.7H195.35M185.95 1495.56H195.35M223.47 1443.52V1492.01M218.77 1443.52H228.17M218.77 1492.01H228.17M289.12 1429.3V1467.28M284.42 1429.3H293.82M284.42 1467.28H293.82M354.77 1401.82V1428.49M350.07 1401.82H359.47M350.07 1428.49H359.47M584.55 1345.6V1399.9M579.85 1345.6H589.25M579.85 1399.9H589.25" stroke="#F2709C" stroke-width="1.75" fill="none"/>
<path d="M125 1643.1L126.37 1560L127.74 1552L130.47 1545L135.94 1528L141.41 1510L157.82 1504.45L190.65 1482.15L223.47 1468.09L289.12 1448.69L354.77 1415.56L584.55 1372.9" stroke="#F2709C" stroke-width="1.75" fill="none" stroke-linejoin="round"/>
<path d="M126.37 1520V1570M121.67 1520H131.07M121.67 1570H131.07M127.74 1502.6V1562M123.04 1502.6H132.44M123.04 1562H132.44M130.47 1502.2V1559.4M125.77 1502.2H135.17M125.77 1559.4H135.17M135.94 1496.7V1529.6M131.24 1496.7H140.64M131.24 1529.6H140.64M141.41 1483.5V1519.2M136.71 1483.5H146.11M136.71 1519.2H146.11M157.82 1463.24V1513.34M153.12 1463.24H162.52M153.12 1513.34H162.52M190.65 1446.59V1495.56M185.95 1446.59H195.35M185.95 1495.56H195.35M223.47 1426.87V1485.87M218.77 1426.87H228.17M218.77 1485.87H228.17M289.12 1407.15V1462.43M284.42 1407.15H293.82M284.42 1462.43H293.82M354.77 1379.68V1443.04M350.07 1379.68H359.47M350.07 1443.04H359.47M584.55 1314.9V1397.2M579.85 1314.9H589.25M579.85 1397.2H589.25" stroke="#5CBDB0" stroke-width="1.75" fill="none"/>
<path d="M125 1643.1L126.37 1545L127.74 1538L130.47 1530L135.94 1513L141.41 1501L157.82 1487.48L190.65 1469.7L223.47 1455.16L289.12 1435.28L354.77 1410.39L584.55 1355.6" stroke="#5CBDB0" stroke-width="1.75" fill="none" stroke-linejoin="round"/>
<path d="M130 1273.3L175 1273.3" stroke="#EE4F80" stroke-width="2"/>
<text transform="translate(181 1280.2) scale(0.9880 1)" font-size="20" font-weight="bold" stroke="#000" stroke-width="0.5" stroke-linejoin="round">BPTES@MNT</text>
<text transform="translate(391.5 1280.2) scale(0.9880 1)" font-size="20" font-weight="bold" stroke="#000" stroke-width="0.5" stroke-linejoin="round">pH 7.4</text>
<path d="M130 1298.25L175 1298.25" stroke="#3CB38D" stroke-width="2"/>
<text transform="translate(181 1305.15) scale(0.9880 1)" font-size="20" font-weight="bold" stroke="#000" stroke-width="0.5" stroke-linejoin="round">BPTES@MNT/PGA</text>
<text transform="translate(391.5 1305.15) scale(0.9880 1)" font-size="20" font-weight="bold" stroke="#000" stroke-width="0.5" stroke-linejoin="round">pH 7.4</text>
<path d="M130 1323.2L175 1323.2" stroke="#F2709C" stroke-width="2"/>
<text transform="translate(181 1330.1) scale(0.9880 1)" font-size="20" font-weight="bold" stroke="#000" stroke-width="0.5" stroke-linejoin="round">BPTES@MNT</text>
<text transform="translate(391.5 1330.1) scale(0.9880 1)" font-size="20" font-weight="bold" stroke="#000" stroke-width="0.5" stroke-linejoin="round">pH 6.5</text>
<path d="M130 1348.15L175 1348.15" stroke="#5CBDB0" stroke-width="2"/>
<text transform="translate(181 1355.05) scale(0.9880 1)" font-size="20" font-weight="bold" stroke="#000" stroke-width="0.5" stroke-linejoin="round">BPTES@MNT/PGA</text>
<text transform="translate(391.5 1355.05) scale(0.9880 1)" font-size="20" font-weight="bold" stroke="#000" stroke-width="0.5" stroke-linejoin="round">pH 6.5</text>
</g>
<g id="chart-g">
<rect x="786.2" y="1257.7" width="478.8" height="385.9" fill="none" stroke="#000" stroke-width="2.1"/>
<path d="M786.2 1643.6L786.2 1651.6" stroke="#000" stroke-width="2.1"/>
<path d="M865.95 1643.6L865.95 1651.6" stroke="#000" stroke-width="2.1"/>
<path d="M945.7 1643.6L945.7 1651.6" stroke="#000" stroke-width="2.1"/>
<path d="M1025.45 1643.6L1025.45 1651.6" stroke="#000" stroke-width="2.1"/>
<path d="M1105.2 1643.6L1105.2 1651.6" stroke="#000" stroke-width="2.1"/>
<path d="M1184.95 1643.6L1184.95 1651.6" stroke="#000" stroke-width="2.1"/>
<path d="M1264.7 1643.6L1264.7 1651.6" stroke="#000" stroke-width="2.1"/>
<path d="M826.08 1643.6L826.08 1647.7" stroke="#000" stroke-width="2.1"/>
<path d="M905.83 1643.6L905.83 1647.7" stroke="#000" stroke-width="2.1"/>
<path d="M985.58 1643.6L985.58 1647.7" stroke="#000" stroke-width="2.1"/>
<path d="M1065.33 1643.6L1065.33 1647.7" stroke="#000" stroke-width="2.1"/>
<path d="M1145.08 1643.6L1145.08 1647.7" stroke="#000" stroke-width="2.1"/>
<path d="M1224.83 1643.6L1224.83 1647.7" stroke="#000" stroke-width="2.1"/>
<path d="M778.2 1643.6L786.2 1643.6" stroke="#000" stroke-width="2.1"/>
<path d="M778.2 1489.2L786.2 1489.2" stroke="#000" stroke-width="2.1"/>
<path d="M778.2 1334.8L786.2 1334.8" stroke="#000" stroke-width="2.1"/>
<path d="M782.1 1566.4L786.2 1566.4" stroke="#000" stroke-width="2.1"/>
<path d="M782.1 1412L786.2 1412" stroke="#000" stroke-width="2.1"/>
<path d="M782.1 1257.6L786.2 1257.6" stroke="#000" stroke-width="2.1"/>
<text transform="translate(786.2 1676.1)" font-size="25.4" font-weight="bold" stroke="#000" stroke-width="0.5" stroke-linejoin="round" text-anchor="middle">0</text>
<text transform="translate(865.95 1676.1)" font-size="25.4" font-weight="bold" stroke="#000" stroke-width="0.5" stroke-linejoin="round" text-anchor="middle">5</text>
<text transform="translate(945.7 1676.1)" font-size="25.4" font-weight="bold" stroke="#000" stroke-width="0.5" stroke-linejoin="round" text-anchor="middle">10</text>
<text transform="translate(1025.45 1676.1)" font-size="25.4" font-weight="bold" stroke="#000" stroke-width="0.5" stroke-linejoin="round" text-anchor="middle">15</text>
<text transform="translate(1105.2 1676.1)" font-size="25.4" font-weight="bold" stroke="#000" stroke-width="0.5" stroke-linejoin="round" text-anchor="middle">20</text>
<text transform="translate(1184.95 1676.1)" font-size="25.4" font-weight="bold" stroke="#000" stroke-width="0.5" stroke-linejoin="round" text-anchor="middle">25</text>
<text transform="translate(1264.7 1676.1)" font-size="25.4" font-weight="bold" stroke="#000" stroke-width="0.5" stroke-linejoin="round" text-anchor="middle">30</text>
<text transform="translate(773.5 1651.6) scale(0.9400 1)" font-size="26.6" font-weight="bold" stroke="#000" stroke-width="0.5" stroke-linejoin="round" text-anchor="end">0.00</text>
<text transform="translate(773.5 1497.2) scale(0.9400 1)" font-size="26.6" font-weight="bold" stroke="#000" stroke-width="0.5" stroke-linejoin="round" text-anchor="end">0.01</text>
<text transform="translate(773.5 1342.8) scale(0.9400 1)" font-size="26.6" font-weight="bold" stroke="#000" stroke-width="0.5" stroke-linejoin="round" text-anchor="end">0.02</text>
<text transform="translate(1026.4 1725) scale(0.9850 1)" font-size="32.7" font-weight="bold" stroke="#000" stroke-width="0.5" stroke-linejoin="round" text-anchor="middle">Time (days)</text>
<text transform="translate(696.5 1431.5) rotate(-90) scale(1.0400 1)" font-size="30.8" font-weight="bold" stroke="#000" stroke-width="0.5" stroke-linejoin="round" text-anchor="middle">Released BPTES (µmol)</text>
<path d="M782.1 1257.7L786.2 1257.7" stroke="#000" stroke-width="2.1"/>
<path d="M802.15 1512.54V1540.01M797.45 1512.54H806.85M797.45 1540.01H806.85M818.1 1511.73V1527.08M813.4 1511.73H822.8M813.4 1527.08H822.8M834.05 1506.07V1530.32M829.35 1506.07H838.75M829.35 1530.32H838.75M850 1493.95V1518.19M845.3 1493.95H854.7M845.3 1518.19H854.7M865.95 1486.68V1512.54M861.25 1486.68H870.65M861.25 1512.54H870.65M881.9 1483.44V1511.73M877.2 1483.44H886.6M877.2 1511.73H886.6M897.85 1485.87V1508.5M893.15 1485.87H902.55M893.15 1508.5H902.55M1009.5 1456.29V1481.02M1004.8 1456.29H1014.2M1004.8 1481.02H1014.2M1121.15 1452.86V1462.33M1116.45 1452.86H1125.85M1116.45 1462.33H1125.85M1232.8 1440.34V1454.88M1228.1 1440.34H1237.5M1228.1 1454.88H1237.5" stroke="#EE4F80" stroke-width="1.75" fill="none"/>
<path d="M786.2 1643.6L802.15 1526.27L818.1 1519.81L834.05 1517.38L850 1502.03L865.95 1498.8L881.9 1497.67L897.85 1497.18L1009.5 1468.09L1121.15 1457.25L1232.8 1447.78" stroke="#EE4F80" stroke-width="1.75" fill="none" stroke-linejoin="round"/>
<path d="M802.15 1527.89V1541.63M797.45 1527.89H806.85M797.45 1541.63H806.85M818.1 1511.73V1528.7M813.4 1511.73H822.8M813.4 1528.7H822.8M834.05 1506.07V1523.04M829.35 1506.07H838.75M829.35 1523.04H838.75M850 1502.84V1515.45M845.3 1502.84H854.7M845.3 1515.45H854.7M865.95 1496.7V1520.29M861.25 1496.7H870.65M861.25 1520.29H870.65M881.9 1487.97V1515.45M877.2 1487.97H886.6M877.2 1515.45H886.6M897.85 1486.68V1508.82M893.15 1486.68H902.55M893.15 1508.82H902.55M1009.5 1458.07V1481.02M1004.8 1458.07H1014.2M1004.8 1481.02H1014.2M1121.15 1455.56V1466.39M1116.45 1455.56H1125.85M1116.45 1466.39H1125.85M1232.8 1445.41V1455.56M1228.1 1445.41H1237.5M1228.1 1455.56H1237.5" stroke="#3CB38D" stroke-width="1.75" fill="none"/>
<path d="M786.2 1643.6L802.15 1533.55L818.1 1519L834.05 1514.15L850 1508.5L865.95 1508.5L881.9 1501.22L897.85 1497.67L1009.5 1468.9L1121.15 1460.64L1232.8 1449.81" stroke="#3CB38D" stroke-width="1.75" fill="none" stroke-linejoin="round"/>
<path d="M802.15 1514.96V1529.51M797.45 1514.96H806.85M797.45 1529.51H806.85M818.1 1507.69V1516.58M813.4 1507.69H822.8M813.4 1516.58H822.8M834.05 1495.56V1509.3M829.35 1495.56H838.75M829.35 1509.3H838.75M850 1483.44V1493.95M845.3 1483.44H854.7M845.3 1493.95H854.7M865.95 1476.65V1487M861.25 1476.65H870.65M861.25 1487H870.65M881.9 1464.05V1483.44M877.2 1464.05H886.6M877.2 1483.44H886.6M897.85 1460.81V1474.55M893.15 1460.81H902.55M893.15 1474.55H902.55M1009.5 1431.4V1447.88M1004.8 1431.4H1014.2M1004.8 1447.88H1014.2M1121.15 1417.33V1432.9M1116.45 1417.33H1125.85M1116.45 1432.9H1125.85M1232.8 1409.89V1425.12M1228.1 1409.89H1237.5M1228.1 1425.12H1237.5" stroke="#F2709C" stroke-width="1.75" fill="none"/>
<path d="M786.2 1643.6L802.15 1522.23L818.1 1508.98L834.05 1502.03L850 1487.97L865.95 1481.83L881.9 1475.36L897.85 1468.09L1009.5 1439.48L1121.15 1424.44L1232.8 1414.97" stroke="#F2709C" stroke-width="1.75" fill="none" stroke-linejoin="round"/>
<path d="M802.15 1517.87V1532.74M797.45 1517.87H806.85M797.45 1532.74H806.85M818.1 1502.84V1519M813.4 1502.84H822.8M813.4 1519H822.8M834.05 1495.56V1514.15M829.35 1495.56H838.75M829.35 1514.15H838.75M850 1483.12V1502.84M845.3 1483.12H854.7M845.3 1502.84H854.7M865.95 1472.13V1496.7M861.25 1472.13H870.65M861.25 1496.7H870.65M881.9 1465.34V1488.29M877.2 1465.34H886.6M877.2 1488.29H886.6M897.85 1454.03V1477.79M893.15 1454.03H902.55M893.15 1477.79H902.55M1009.5 1429.3V1445.94M1004.8 1429.3H1014.2M1004.8 1445.94H1014.2M1121.15 1414.29V1432.9M1116.45 1414.29H1125.85M1116.45 1432.9H1125.85M1232.8 1405.49V1421.73M1228.1 1405.49H1237.5M1228.1 1421.73H1237.5" stroke="#5CBDB0" stroke-width="1.75" fill="none"/>
<path d="M786.2 1643.6L802.15 1524.66L818.1 1510.11L834.05 1504.45L850 1492.33L865.95 1485.06L881.9 1476.98L897.85 1465.18L1009.5 1437.7L1121.15 1423.42L1232.8 1413.95" stroke="#5CBDB0" stroke-width="1.75" fill="none" stroke-linejoin="round"/>
<path d="M791.5 1272.5L836.5 1272.5" stroke="#EE4F80" stroke-width="2"/>
<text transform="translate(842 1279.4) scale(0.9880 1)" font-size="20" font-weight="bold" stroke="#000" stroke-width="0.5" stroke-linejoin="round">BPTES@MNT</text>
<text transform="translate(1052.5 1279.4) scale(0.9880 1)" font-size="20" font-weight="bold" stroke="#000" stroke-width="0.5" stroke-linejoin="round">pH 7.4</text>
<path d="M791.5 1297.45L836.5 1297.45" stroke="#3CB38D" stroke-width="2"/>
<text transform="translate(842 1304.35) scale(0.9880 1)" font-size="20" font-weight="bold" stroke="#000" stroke-width="0.5" stroke-linejoin="round">BPTES@MNT/PGA</text>
<text transform="translate(1052.5 1304.35) scale(0.9880 1)" font-size="20" font-weight="bold" stroke="#000" stroke-width="0.5" stroke-linejoin="round">pH 7.4</text>
<path d="M791.5 1322.4L836.5 1322.4" stroke="#F2709C" stroke-width="2"/>
<text transform="translate(842 1329.3) scale(0.9880 1)" font-size="20" font-weight="bold" stroke="#000" stroke-width="0.5" stroke-linejoin="round">BPTES@MNT</text>
<text transform="translate(1052.5 1329.3) scale(0.9880 1)" font-size="20" font-weight="bold" stroke="#000" stroke-width="0.5" stroke-linejoin="round">pH 6.5</text>
<path d="M791.5 1347.35L836.5 1347.35" stroke="#5CBDB0" stroke-width="2"/>
<text transform="translate(842 1354.25) scale(0.9880 1)" font-size="20" font-weight="bold" stroke="#000" stroke-width="0.5" stroke-linejoin="round">BPTES@MNT/PGA</text>
<text transform="translate(1052.5 1354.25) scale(0.9880 1)" font-size="20" font-weight="bold" stroke="#000" stroke-width="0.5" stroke-linejoin="round">pH 6.5</text>
</g>
<g id="chart-h">
<rect x="1439.6" y="1257.1" width="479.5" height="386.2" fill="none" stroke="#000" stroke-width="2.1"/>
<path d="M1439.6 1643.3L1439.6 1651.3" stroke="#000" stroke-width="2.1"/>
<path d="M1504.66 1643.3L1504.66 1651.3" stroke="#000" stroke-width="2.1"/>
<path d="M1569.72 1643.3L1569.72 1651.3" stroke="#000" stroke-width="2.1"/>
<path d="M1634.78 1643.3L1634.78 1651.3" stroke="#000" stroke-width="2.1"/>
<path d="M1699.84 1643.3L1699.84 1651.3" stroke="#000" stroke-width="2.1"/>
<path d="M1764.9 1643.3L1764.9 1651.3" stroke="#000" stroke-width="2.1"/>
<path d="M1829.96 1643.3L1829.96 1651.3" stroke="#000" stroke-width="2.1"/>
<path d="M1895.01 1643.3L1895.01 1651.3" stroke="#000" stroke-width="2.1"/>
<path d="M1472.13 1643.3L1472.13 1647.4" stroke="#000" stroke-width="2.1"/>
<path d="M1537.19 1643.3L1537.19 1647.4" stroke="#000" stroke-width="2.1"/>
<path d="M1602.25 1643.3L1602.25 1647.4" stroke="#000" stroke-width="2.1"/>
<path d="M1667.31 1643.3L1667.31 1647.4" stroke="#000" stroke-width="2.1"/>
<path d="M1732.37 1643.3L1732.37 1647.4" stroke="#000" stroke-width="2.1"/>
<path d="M1797.43 1643.3L1797.43 1647.4" stroke="#000" stroke-width="2.1"/>
<path d="M1862.48 1643.3L1862.48 1647.4" stroke="#000" stroke-width="2.1"/>
<path d="M1431.6 1643.3L1439.6 1643.3" stroke="#000" stroke-width="2.1"/>
<path d="M1431.6 1514.57L1439.6 1514.57" stroke="#000" stroke-width="2.1"/>
<path d="M1431.6 1385.83L1439.6 1385.83" stroke="#000" stroke-width="2.1"/>
<path d="M1431.6 1257.1L1439.6 1257.1" stroke="#000" stroke-width="2.1"/>
<path d="M1435.5 1578.93L1439.6 1578.93" stroke="#000" stroke-width="2.1"/>
<path d="M1435.5 1450.2L1439.6 1450.2" stroke="#000" stroke-width="2.1"/>
<path d="M1435.5 1321.47L1439.6 1321.47" stroke="#000" stroke-width="2.1"/>
<text transform="translate(1439.6 1676.1)" font-size="25.4" font-weight="bold" stroke="#000" stroke-width="0.5" stroke-linejoin="round" text-anchor="middle">0</text>
<text transform="translate(1504.66 1676.1)" font-size="25.4" font-weight="bold" stroke="#000" stroke-width="0.5" stroke-linejoin="round" text-anchor="middle">72</text>
<text transform="translate(1569.72 1676.1)" font-size="25.4" font-weight="bold" stroke="#000" stroke-width="0.5" stroke-linejoin="round" text-anchor="middle">144</text>
<text transform="translate(1634.78 1676.1)" font-size="25.4" font-weight="bold" stroke="#000" stroke-width="0.5" stroke-linejoin="round" text-anchor="middle">216</text>
<text transform="translate(1699.84 1676.1)" font-size="25.4" font-weight="bold" stroke="#000" stroke-width="0.5" stroke-linejoin="round" text-anchor="middle">288</text>
<text transform="translate(1764.9 1676.1)" font-size="25.4" font-weight="bold" stroke="#000" stroke-width="0.5" stroke-linejoin="round" text-anchor="middle">360</text>
<text transform="translate(1829.96 1676.1)" font-size="25.4" font-weight="bold" stroke="#000" stroke-width="0.5" stroke-linejoin="round" text-anchor="middle">432</text>
<text transform="translate(1895.01 1676.1)" font-size="25.4" font-weight="bold" stroke="#000" stroke-width="0.5" stroke-linejoin="round" text-anchor="middle">504</text>
<text transform="translate(1426 1651.3) scale(0.9400 1)" font-size="26.6" font-weight="bold" stroke="#000" stroke-width="0.5" stroke-linejoin="round" text-anchor="end">0.00</text>
<text transform="translate(1426 1522.57) scale(0.9400 1)" font-size="26.6" font-weight="bold" stroke="#000" stroke-width="0.5" stroke-linejoin="round" text-anchor="end">0.05</text>
<text transform="translate(1426 1393.83) scale(0.9400 1)" font-size="26.6" font-weight="bold" stroke="#000" stroke-width="0.5" stroke-linejoin="round" text-anchor="end">0.10</text>
<text transform="translate(1426 1265.1) scale(0.9400 1)" font-size="26.6" font-weight="bold" stroke="#000" stroke-width="0.5" stroke-linejoin="round" text-anchor="end">0.15</text>
<text transform="translate(1679.3 1725) scale(0.9850 1)" font-size="32.7" font-weight="bold" stroke="#000" stroke-width="0.5" stroke-linejoin="round" text-anchor="middle">Time (hours)</text>
<text transform="translate(1349 1434) rotate(-90) scale(1.0400 1)" font-size="30.8" font-weight="bold" stroke="#000" stroke-width="0.5" stroke-linejoin="round" text-anchor="middle">Released Glu (µmol)</text>
<path d="M1441.41 1598.73V1631.11M1436.71 1598.73H1446.11M1436.71 1631.11H1446.11M1443.21 1547.3V1617.78M1438.51 1547.3H1447.91M1438.51 1617.78H1447.91M1450.44 1536.51V1586.67M1445.74 1536.51H1455.14M1445.74 1586.67H1455.14M1461.29 1523.81V1554.92M1456.59 1523.81H1465.99M1456.59 1554.92H1465.99M1482.97 1501.84V1574.6M1478.27 1501.84H1487.67M1478.27 1574.6H1487.67M1504.66 1512.63V1542.22M1499.96 1512.63H1509.36M1499.96 1542.22H1509.36M1548.03 1438.35V1521.02M1543.33 1438.35H1552.73M1543.33 1521.02H1552.73M1591.4 1455.49V1495.62M1586.7 1455.49H1596.1M1586.7 1495.62H1596.1M1743.21 1428.18V1465.11M1738.51 1428.18H1747.91M1738.51 1465.11H1747.91M1895.01 1396.67V1417.67M1890.31 1396.67H1899.71M1890.31 1417.67H1899.71" stroke="#EE4F80" stroke-width="1.75" fill="none"/>
<path d="M1439.6 1643.3L1441.41 1617.78L1443.21 1598.73L1450.44 1561.27L1461.29 1538.79L1482.97 1538.03L1504.66 1527.62L1548.03 1480L1591.4 1475.56L1743.21 1446.47L1895.01 1407.51" stroke="#EE4F80" stroke-width="1.75" fill="none" stroke-linejoin="round"/>
<path d="M1441.41 1593.02V1636.83M1436.71 1593.02H1446.11M1436.71 1636.83H1446.11M1443.21 1599.37V1624.76M1438.51 1599.37H1447.91M1438.51 1624.76H1447.91M1446.83 1553.4V1619.3M1442.13 1553.4H1451.53M1442.13 1619.3H1451.53M1450.44 1562.54V1579.68M1445.74 1562.54H1455.14M1445.74 1579.68H1455.14M1461.29 1538.79V1559.37M1456.59 1538.79H1465.99M1456.59 1559.37H1465.99M1482.97 1487.24V1548.57M1478.27 1487.24H1487.67M1478.27 1548.57H1487.67M1504.66 1487.87V1527.62M1499.96 1487.87H1509.36M1499.96 1527.62H1509.36M1548.03 1491.68V1511.11M1543.33 1491.68H1552.73M1543.33 1511.11H1552.73M1591.4 1419.03V1497.14M1586.7 1419.03H1596.1M1586.7 1497.14H1596.1M1743.21 1382.1V1482.38M1738.51 1382.1H1747.91M1738.51 1482.38H1747.91M1895.01 1357.03V1446.13M1890.31 1357.03H1899.71M1890.31 1446.13H1899.71" stroke="#5CBDB0" stroke-width="1.75" fill="none"/>
<path d="M1439.6 1643.3L1441.41 1620.32L1443.21 1615.24L1446.83 1586.03L1450.44 1570.79L1461.29 1549.21L1482.97 1517.21L1504.66 1507.94L1548.03 1501.59L1591.4 1458.41L1743.21 1432.58L1895.01 1402.09" stroke="#5CBDB0" stroke-width="1.75" fill="none" stroke-linejoin="round"/>
<path d="M1444.5 1272.5L1489 1272.5" stroke="#EE4F80" stroke-width="2"/>
<text transform="translate(1495 1279.4) scale(0.9880 1)" font-size="20" font-weight="bold" stroke="#000" stroke-width="0.5" stroke-linejoin="round">BPTES@MNT/PGA</text>
<text transform="translate(1704.5 1279.4) scale(0.9880 1)" font-size="20" font-weight="bold" stroke="#000" stroke-width="0.5" stroke-linejoin="round">pH 7.4</text>
<path d="M1444.5 1297.45L1489 1297.45" stroke="#5CBDB0" stroke-width="2"/>
<text transform="translate(1495 1304.35) scale(0.9880 1)" font-size="20" font-weight="bold" stroke="#000" stroke-width="0.5" stroke-linejoin="round">BPTES@MNT/PGA</text>
<text transform="translate(1704.5 1304.35) scale(0.9880 1)" font-size="20" font-weight="bold" stroke="#000" stroke-width="0.5" stroke-linejoin="round">pH 6.5</text>
</g>
</svg>
</body>
</html>
